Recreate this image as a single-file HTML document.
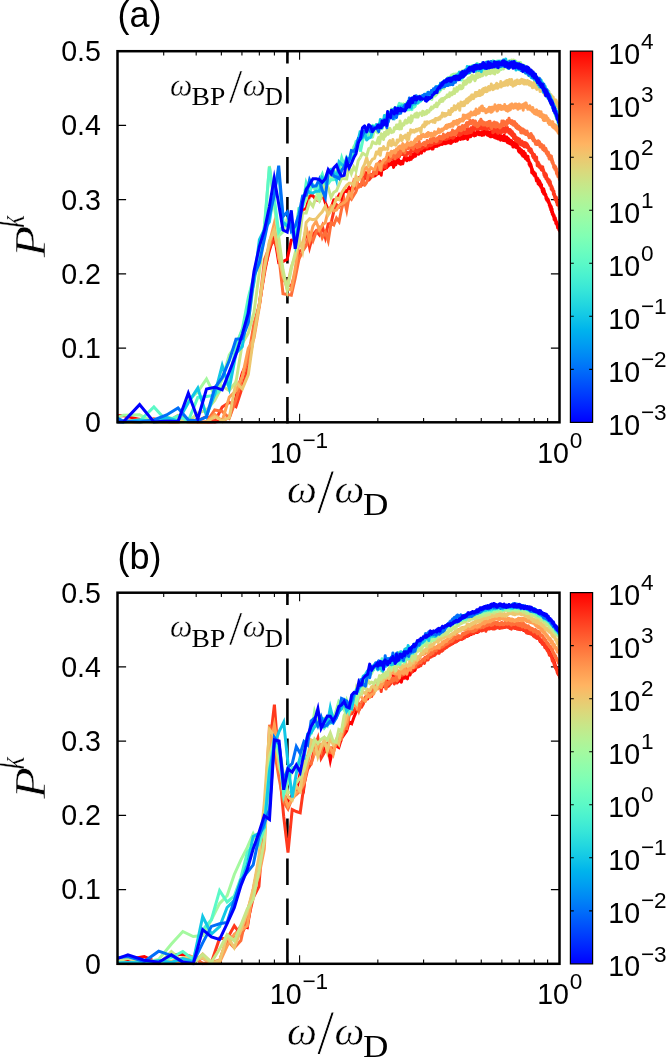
<!DOCTYPE html>
<html lang="en">
<head>
<meta charset="utf-8">
<title>Participation ratio</title>
<style>
html,body{margin:0;padding:0;background:#fff;}
body{width:666px;height:1058px;overflow:hidden;}
svg{display:block;}
.lbl{filter:grayscale(1);}
svg text{font-family:'Liberation Sans', Arial, Helvetica, sans-serif;fill:#000;}
svg .ser text{font-family:'Liberation Serif', 'Times New Roman', serif;}
.crv polyline{fill:none;stroke-width:3;stroke-linejoin:miter;stroke-miterlimit:6;stroke-linecap:butt;}
.crv polyline.r{stroke-linejoin:round;}
.crv polyline.r2{stroke-linejoin:round;stroke-width:3;}
.crv polyline.r3{stroke-linejoin:round;stroke-width:3;}
</style>
</head>
<body>
<svg width="666" height="1058" viewBox="0 0 666 1058">
<defs>
<linearGradient id="cb" x1="0" y1="0" x2="0" y2="1">
<stop offset="0.0000" stop-color="#ff0000"/><stop offset="0.0357" stop-color="#ff1d0e"/><stop offset="0.0714" stop-color="#ff391d"/><stop offset="0.1071" stop-color="#ff542b"/><stop offset="0.1429" stop-color="#ff6f39"/><stop offset="0.1786" stop-color="#ff8847"/><stop offset="0.2143" stop-color="#ff9f54"/><stop offset="0.2500" stop-color="#ffb462"/><stop offset="0.2857" stop-color="#edc76f"/><stop offset="0.3214" stop-color="#dbd87b"/><stop offset="0.3571" stop-color="#c8e688"/><stop offset="0.3929" stop-color="#b6f194"/><stop offset="0.4286" stop-color="#a4f99f"/><stop offset="0.4643" stop-color="#92fdaa"/><stop offset="0.5000" stop-color="#80ffb4"/><stop offset="0.5357" stop-color="#6dfdbe"/><stop offset="0.5714" stop-color="#5bf9c7"/><stop offset="0.6071" stop-color="#49f1d0"/><stop offset="0.6429" stop-color="#37e6d8"/><stop offset="0.6786" stop-color="#24d8df"/><stop offset="0.7143" stop-color="#12c7e6"/><stop offset="0.7500" stop-color="#00b4ec"/><stop offset="0.7857" stop-color="#009ff1"/><stop offset="0.8214" stop-color="#0088f5"/><stop offset="0.8571" stop-color="#006ff9"/><stop offset="0.8929" stop-color="#0054fb"/><stop offset="0.9286" stop-color="#0039fd"/><stop offset="0.9643" stop-color="#001dff"/><stop offset="1.0000" stop-color="#0000ff"/>
</linearGradient>
<clipPath id="clip"><rect x="117.50" y="51.20" width="442.00" height="372.60"/></clipPath>
</defs>
<rect x="0" y="0" width="666" height="1058" fill="#fff"/>
<g transform="translate(0 0)">
<path d="M117.50 348.08h8.6M559.50 348.08h-8.6M117.50 273.86h8.6M559.50 273.86h-8.6M117.50 199.64h8.6M559.50 199.64h-8.6M117.50 125.42h8.6M559.50 125.42h-8.6M163.70 422.30v-4.4M163.70 51.20v4.4M196.18 422.30v-4.4M196.18 51.20v4.4M221.36 422.30v-4.4M221.36 51.20v4.4M241.94 422.30v-4.4M241.94 51.20v4.4M259.34 422.30v-4.4M259.34 51.20v4.4M274.41 422.30v-4.4M274.41 51.20v4.4M287.71 422.30v-4.4M287.71 51.20v4.4M299.60 422.30v-8.6M299.60 51.20v8.6M377.84 422.30v-4.4M377.84 51.20v4.4M423.60 422.30v-4.4M423.60 51.20v4.4M456.08 422.30v-4.4M456.08 51.20v4.4M481.26 422.30v-4.4M481.26 51.20v4.4M501.84 422.30v-4.4M501.84 51.20v4.4M519.24 422.30v-4.4M519.24 51.20v4.4M534.31 422.30v-4.4M534.31 51.20v4.4M547.61 422.30v-4.4M547.61 51.20v4.4" fill="none" stroke="#000" stroke-width="1.1"/>
<path d="M287.41 423.50V51.20" fill="none" stroke="#000" stroke-width="2.6" stroke-dasharray="26.6 13.4"/>
<g clip-path="url(#clip)">
<g class="crv pa">
<polyline stroke="#ff0000" points="104.1,416.0 123.2,415.5 139.6,419.5 153.9,422.0 166.6,422.3 178.0,422.3 188.3,418.5 197.8,422.2 206.5,422.2 214.7,422.0 222.2,420.9 229.3,417.5 236.0,396.6 242.3,373.0 248.3,359.6 254.0,327.9 259.4,305.2 264.5,269.8 269.4,250.5 274.2,234.2 278.7,262.5 283.0,261.6 287.2,259.2 291.3,240.3 295.2,239.1 299.0,218.6 302.6,209.5 306.2,208.7 309.6,195.5 312.9,195.7 316.1,199.6 319.3,200.6 322.3,193.3 325.3,202.7 328.2,209.9 331.1,208.0 333.8,199.8 336.5,199.6 339.1,195.1 341.7,199.9 344.2,189.9 346.7,191.4 349.1,187.4 351.4,190.5 353.8,182.2 356.0,187.1 358.2,178.5 360.4,176.6"/>
<polyline class="r" stroke="#ff0000" points="360.4,176.6 362.5,178.0 364.6,178.8 366.7,172.8 368.7,174.9 370.7,175.5 372.6,174.4 374.6,176.0 376.4,174.7 377.8,172.6 378.7,173.6 379.5,173.1 380.3,167.2 381.2,175.2 382.0,168.9 382.8,167.0 383.6,169.5 384.4,166.3 385.2,168.5 386.0,163.6 386.8,167.8 387.6,162.6 388.3,166.2 389.1,164.4 389.9,163.4 390.6,164.6 391.4,162.6 392.1,161.9 392.9,164.2 393.6,167.4 394.3,160.6 395.1,165.1 395.8,164.7 396.5,159.7 397.2,162.3 397.9,162.8 398.7,159.5 399.4,163.5 400.1,162.9 400.7,164.3 401.4,161.4 402.1,162.3 402.8,163.8 403.5,160.4 404.1,158.7 404.8,156.6 405.5,159.8 406.1,156.5 406.8,160.8 407.5,158.7 408.1,159.7 408.7,158.2 409.4,159.9 410.0,156.5 410.7,157.1 411.3,159.2 411.9,154.1 412.5,156.4 413.2,157.3 413.8,153.7 414.4,153.8 415.0,152.8 415.6,156.2 416.2,153.9 416.8,153.1 417.4,151.4 418.0,151.3 418.6,154.3 419.2,152.2 419.8,151.9 420.4,153.0 420.9,150.7 421.5,153.1 422.1,150.6 422.7,149.6 423.2,150.2 423.8,150.1"/>
<polyline class="r2" stroke="#ff0000" points="423.8,150.1 424.4,151.0 424.9,148.5 425.5,148.7 426.0,148.8 426.6,149.2 427.1,148.9 427.7,148.2 428.2,148.8 428.8,147.4 429.3,148.6 429.8,147.0 430.4,147.1 430.9,147.7 431.4,147.5 431.9,148.9 432.5,146.5 433.0,149.0 433.5,145.0 434.0,146.5 434.5,145.1 435.0,146.6 435.6,143.9 436.1,145.1 436.6,144.8 437.1,146.4 437.6,144.2 438.1,144.6 438.6,144.2 439.1,145.3 439.5,143.7 440.0,144.6 440.5,141.7 441.0,144.0 441.5,142.8 442.0,144.5 442.4,142.7 442.9,143.6 443.4,142.0 443.9,143.7 444.3,141.2 444.8,143.3 445.3,142.1 445.7,143.7 446.2,141.6 446.7,142.2 447.1,140.9 447.6,143.1 448.0,140.9 448.5,142.2 448.9,140.3 449.4,142.7 449.8,139.9 450.3,143.3 450.7,140.8 451.2,143.4 451.6,140.7 452.1,142.2 452.5,139.7 452.9,141.7 453.4,139.2 453.8,140.7 454.2,138.8 454.7,141.0 455.1,138.6 455.5,141.4 455.9,139.1 456.4,140.9 456.8,137.9 457.2,141.1 457.6,138.6 458.0,139.9 458.4,136.5 458.9,138.9 459.3,135.8 459.7,137.9 460.1,136.3 460.5,139.4 460.9,135.6 461.3,138.9 461.7,135.4"/>
<polyline class="r3" stroke="#ff0000" points="461.7,135.4 462.1,138.5 462.5,134.2 462.9,139.1 463.3,135.9 463.7,138.8 464.1,135.6 464.5,138.5 464.9,136.8 465.3,138.3 465.7,135.8 466.1,137.3 466.4,135.3 466.8,137.6 467.2,135.7 467.6,139.4 468.0,135.6 468.4,137.5 468.7,135.4 469.1,136.9 469.5,133.8 469.9,135.3 470.2,134.0 470.6,136.8 471.0,133.4 471.4,135.6 471.7,132.5 472.1,134.7 472.5,132.9 472.8,135.3 473.2,131.8 473.6,133.9 473.9,132.2 474.3,135.9 474.6,133.2 475.0,135.2 475.4,134.0 475.7,135.5 476.1,133.2 476.4,134.2 476.8,132.1 477.1,132.9 477.5,130.9 477.8,133.8 478.2,131.2 478.5,134.5 478.9,133.0 479.2,134.7 479.6,132.6 479.9,133.5 480.2,132.4 480.6,134.7 480.9,132.8 481.3,133.7 481.6,132.8 481.9,135.4 482.3,131.9 482.6,133.7 482.9,132.3 483.3,133.7 483.6,131.0 483.9,135.1 484.3,132.5 484.6,133.9 484.9,131.8 485.3,133.9 485.6,131.2 485.9,133.5 486.2,129.7 486.6,133.6 486.9,131.8 487.2,135.0 487.5,131.0 487.8,134.7 488.2,132.0 488.5,135.7 488.8,133.3 489.1,134.2 489.4,133.1 489.7,135.7 490.1,132.1 490.4,136.8 490.7,134.6 491.0,136.8 491.3,132.4 491.6,135.1 491.9,132.3 492.2,136.0 492.5,133.3 492.8,136.5 493.1,133.9 493.4,136.4 493.8,134.7 494.1,137.3 494.4,134.0 494.7,137.2 495.0,135.9 495.3,137.9 495.6,133.3 495.9,137.3 496.2,135.6 496.4,136.6 496.7,134.3 497.0,138.4 497.3,135.9 497.6,137.5 497.9,136.5 498.2,139.0 498.5,136.0 498.8,137.9 499.1,135.7 499.4,137.8 499.7,135.1 499.9,138.4 500.2,134.5 500.5,140.2 500.8,136.9 501.1,139.9 501.4,137.6 501.7,138.4 501.9,136.5 502.2,138.7 502.5,136.6 502.8,139.7 503.1,138.7 503.3,140.5 503.6,138.1 503.9,139.3 504.2,135.1 504.4,139.6 504.7,138.0 505.0,140.8 505.3,136.8 505.5,140.5 505.8,137.4 506.1,139.9 506.4,138.0 506.6,139.2 506.9,137.1 507.2,142.5 507.4,138.9 507.7,140.4 508.0,139.2 508.2,142.9 508.5,138.4 508.8,142.6 509.0,139.4 509.3,143.4 509.6,140.7 509.8,143.7 510.1,140.0 510.4,142.7 510.6,141.2 510.9,142.6 511.1,141.0 511.4,143.3 511.7,140.7 511.9,145.1 512.2,142.9 512.4,145.6 512.7,143.8 512.9,146.9 513.2,143.3 513.5,147.0 513.7,142.5 514.0,145.7 514.2,143.1 514.5,145.5 514.7,143.1 515.0,146.5 515.2,142.2 515.5,147.2 515.7,145.6 516.0,146.2 516.2,144.7 516.5,147.8 516.7,144.1 517.0,146.6 517.2,146.1 517.5,147.8 517.7,143.7 517.9,148.7 518.2,147.5 518.4,150.8 518.7,149.1 518.9,152.0 519.2,148.6 519.4,151.1 519.6,148.2 519.9,151.9 520.1,148.9 520.4,152.8 520.6,151.0 520.8,153.4 521.1,151.0 521.3,153.7 521.6,150.1 521.8,154.7 522.0,150.8 522.3,153.6 522.5,152.3 522.7,156.1 523.0,152.2 523.2,155.7 523.4,152.5 523.7,154.3 523.9,151.6 524.1,156.9 524.4,153.7 524.6,157.0 524.8,154.2 525.1,156.4 525.3,153.2 525.5,158.8 525.7,155.3 526.0,157.8 526.2,155.5 526.4,158.0 526.7,157.0 526.9,160.0 527.1,158.1 527.3,160.5 527.6,158.9 527.8,160.4 528.0,156.3 528.2,160.2 528.4,158.8 528.7,161.6 528.9,160.0 529.1,164.5 529.3,162.3 529.6,165.0 529.8,162.3 530.0,166.2 530.2,163.1 530.4,165.4 530.7,164.0 530.9,166.5 531.1,165.0 531.3,168.5 531.5,166.5 531.7,172.8 532.0,168.3 532.2,171.0 532.4,169.2 532.6,172.1 532.8,170.8 533.0,173.8 533.2,171.8 533.5,173.7 533.7,173.0 533.9,175.1 534.1,172.0 534.3,175.7 534.5,174.3 534.7,176.0 534.9,173.7 535.2,175.8 535.4,173.5 535.6,176.8 535.8,175.5 536.0,178.9 536.2,177.5 536.4,181.0 536.6,177.7 536.8,180.3 537.0,177.7 537.2,180.4 537.4,178.8 537.6,180.8 537.9,178.6 538.1,184.0 538.3,181.8 538.5,183.4 538.7,181.7 538.9,183.7 539.1,181.5 539.3,185.0 539.5,180.8 539.7,184.5 539.9,181.9 540.1,185.9 540.3,182.4 540.5,186.2 540.7,184.1 540.9,187.4 541.1,184.2 541.3,187.2 541.5,184.4 541.7,188.3 541.9,187.8 542.1,190.5 542.3,188.0 542.5,191.8 542.7,189.6 542.9,192.4 543.1,190.2 543.3,192.2 543.5,189.8 543.7,193.9 543.8,189.0 544.0,192.5 544.2,190.5 544.4,192.8 544.6,192.2 544.8,195.0 545.0,193.6 545.2,195.6 545.4,193.8 545.6,196.4 545.8,194.4 546.0,198.8 546.2,196.6 546.3,198.7 546.5,196.8 546.7,200.2 546.9,197.6 547.1,200.3 547.3,198.8 547.5,201.0 547.7,198.9 547.9,200.8 548.0,199.0 548.2,202.5 548.4,199.8 548.6,202.2 548.8,201.2 549.0,203.3 549.2,202.3 549.3,205.5 549.5,203.2 549.7,205.7 549.9,204.0 550.1,207.6 550.3,204.9 550.5,208.7 550.6,206.8 550.8,209.9 551.0,206.1 551.2,210.3 551.4,206.9 551.6,212.1 551.7,209.3 551.9,211.6 552.1,208.9 552.3,214.4 552.5,211.4 552.6,214.2 552.8,212.8 553.0,215.2 553.2,213.4 553.4,216.6 553.5,215.0 553.7,217.0 553.9,215.5 554.1,219.6 554.2,215.5 554.4,219.2 554.6,217.3 554.8,220.5 555.0,218.1 555.1,220.7 555.3,217.8 555.5,221.2 555.7,219.4 555.8,223.5 556.0,221.1 556.2,223.3 556.4,221.3 556.5,224.2 556.7,222.0 556.9,224.8 557.0,222.5 557.2,225.9 557.4,224.7 557.6,228.0 557.7,224.4 557.9,227.9 558.1,226.1 558.3,227.9 558.4,226.8 558.6,228.6 558.8,226.9 558.9,230.0 559.1,226.6 559.3,229.8 559.4,228.5 559.6,231.2 559.8,229.5"/>
<polyline stroke="#ff391d" points="104.1,417.6 123.2,422.2 139.6,422.3 153.9,418.7 166.6,422.2 178.0,422.2 188.3,419.3 197.8,420.8 206.5,416.4 214.7,421.7 222.2,407.1 229.3,402.2 236.0,406.7 242.3,387.4 248.3,366.1 254.0,335.0 259.4,303.4 264.5,273.2 269.4,246.7 274.2,240.8 278.7,250.9 283.0,279.1 287.2,284.1 291.3,286.4 295.2,273.2 299.0,251.5 302.6,249.7 306.2,229.5 309.6,247.2 312.9,234.8 316.1,230.8 319.3,234.8 322.3,226.3 325.3,237.4 328.2,223.9 331.1,223.1 333.8,211.3 336.5,204.6 339.1,206.7 341.7,202.6 344.2,203.3 346.7,203.0 349.1,192.4 351.4,193.5 353.8,184.9 356.0,190.1 358.2,185.1 360.4,184.3"/>
<polyline class="r" stroke="#ff391d" points="360.4,184.3 362.5,184.9 364.6,172.1 366.7,177.8 368.7,180.2 370.7,177.7 372.6,175.3 374.6,169.5 376.4,170.6 377.8,166.8 378.7,167.6 379.5,163.5 380.3,161.2 381.2,165.5 382.0,165.9 382.8,163.2 383.6,161.5 384.4,167.4 385.2,161.8 386.0,167.6 386.8,161.4 387.6,159.0 388.3,156.5 389.1,157.3 389.9,158.5 390.6,155.3 391.4,154.9 392.1,159.2 392.9,158.7 393.6,157.6 394.3,154.5 395.1,158.7 395.8,154.8 396.5,157.4 397.2,154.6 397.9,156.9 398.7,154.3 399.4,156.9 400.1,154.7 400.7,152.0 401.4,154.5 402.1,152.1 402.8,154.4 403.5,152.0 404.1,155.0 404.8,152.6 405.5,151.0 406.1,156.0 406.8,152.2 407.5,154.2 408.1,153.1 408.7,153.0 409.4,152.1 410.0,151.6 410.7,154.5 411.3,146.0 411.9,151.2 412.5,149.1 413.2,148.5 413.8,151.1 414.4,147.7 415.0,150.2 415.6,151.1 416.2,151.5 416.8,150.1 417.4,152.4 418.0,148.5 418.6,151.1 419.2,149.7 419.8,149.0 420.4,145.6 420.9,147.9 421.5,149.1 422.1,146.6 422.7,147.9 423.2,146.8 423.8,148.1"/>
<polyline class="r2" stroke="#ff391d" points="423.8,148.1 424.4,147.0 424.9,147.2 425.5,147.0 426.0,144.6 426.6,147.1 427.1,147.3 427.7,145.0 428.2,145.5 428.8,145.0 429.3,144.8 429.8,144.4 430.4,145.8 430.9,145.1 431.4,145.2 431.9,145.0 432.5,143.8 433.0,143.5 433.5,142.7 434.0,143.6 434.5,143.0 435.0,143.3 435.6,141.1 436.1,143.5 436.6,142.6 437.1,143.0 437.6,140.7 438.1,143.0 438.6,142.0 439.1,142.3 439.5,140.7 440.0,142.3 440.5,140.0 441.0,141.7 441.5,138.4 442.0,139.6 442.4,137.4 442.9,139.0 443.4,137.2 443.9,139.3 444.3,138.1 444.8,139.5 445.3,137.5 445.7,138.8 446.2,136.5 446.7,139.2 447.1,136.1 447.6,138.1 448.0,136.3 448.5,138.1 448.9,134.2 449.4,138.3 449.8,136.1 450.3,137.6 450.7,135.1 451.2,137.5 451.6,133.0 452.1,135.5 452.5,134.2 452.9,138.3 453.4,134.1 453.8,137.6 454.2,134.7 454.7,136.4 455.1,133.1 455.5,133.9 455.9,131.2 456.4,134.4 456.8,131.8 457.2,134.6 457.6,132.6 458.0,134.9 458.4,130.9 458.9,133.6 459.3,131.2 459.7,135.4 460.1,131.9 460.5,133.4 460.9,130.2 461.3,134.4 461.7,131.1"/>
<polyline class="r3" stroke="#ff391d" points="461.7,131.1 462.1,133.2 462.5,129.8 462.9,132.7 463.3,130.3 463.7,131.8 464.1,130.7 464.5,133.6 464.9,130.3 465.3,133.0 465.7,129.0 466.1,133.6 466.4,129.4 466.8,133.6 467.2,130.9 467.6,133.3 468.0,129.0 468.4,130.8 468.7,129.1 469.1,132.9 469.5,129.9 469.9,132.5 470.2,131.0 470.6,132.4 471.0,127.8 471.4,132.4 471.7,129.4 472.1,130.9 472.5,128.2 472.8,130.2 473.2,126.4 473.6,129.5 473.9,127.0 474.3,129.9 474.6,127.7 475.0,129.4 475.4,127.2 475.7,128.9 476.1,127.0 476.4,128.4 476.8,126.6 477.1,128.6 477.5,126.6 477.8,129.3 478.2,125.9 478.5,128.3 478.9,124.8 479.2,128.9 479.6,126.9 479.9,129.1 480.2,125.9 480.6,128.6 480.9,126.7 481.3,127.8 481.6,126.7 481.9,129.4 482.3,126.6 482.6,129.0 482.9,125.0 483.3,128.1 483.6,126.3 483.9,128.2 484.3,124.7 484.6,128.6 484.9,123.9 485.3,127.5 485.6,124.5 485.9,129.2 486.2,125.1 486.6,128.8 486.9,126.8 487.2,129.3 487.5,126.3 487.8,128.0 488.2,124.4 488.5,127.9 488.8,124.7 489.1,127.2 489.4,125.8 489.7,128.2 490.1,126.6 490.4,129.3 490.7,126.7 491.0,129.0 491.3,128.0 491.6,129.8 491.9,128.0 492.2,130.2 492.5,129.0 492.8,132.8 493.1,128.6 493.4,131.5 493.8,129.1 494.1,131.9 494.4,128.3 494.7,130.0 495.0,127.1 495.3,130.4 495.6,127.9 495.9,131.0 496.2,128.2 496.4,130.7 496.7,129.0 497.0,132.0 497.3,129.3 497.6,133.2 497.9,130.8 498.2,132.8 498.5,130.1 498.8,132.1 499.1,128.2 499.4,132.5 499.7,129.1 499.9,131.9 500.2,130.1 500.5,132.0 500.8,129.3 501.1,133.3 501.4,128.8 501.7,131.7 501.9,129.7 502.2,131.2 502.5,128.8 502.8,131.9 503.1,128.4 503.3,131.1 503.6,128.0 503.9,130.3 504.2,127.7 504.4,131.0 504.7,128.3 505.0,132.5 505.3,129.4 505.5,132.2 505.8,129.0 506.1,131.4 506.4,126.9 506.6,130.6 506.9,127.3 507.2,130.7 507.4,127.2 507.7,131.2 508.0,128.9 508.2,130.6 508.5,129.1 508.8,133.0 509.0,129.9 509.3,132.7 509.6,130.7 509.8,133.6 510.1,129.4 510.4,133.5 510.6,131.4 510.9,134.5 511.1,130.6 511.4,134.6 511.7,133.3 511.9,135.7 512.2,131.4 512.4,134.5 512.7,132.4 512.9,136.2 513.2,133.0 513.5,138.4 513.7,136.5 514.0,138.8 514.2,135.8 514.5,138.8 514.7,134.4 515.0,138.8 515.2,137.8 515.5,140.8 515.7,136.7 516.0,139.9 516.2,137.3 516.5,141.2 516.7,138.6 517.0,140.6 517.2,138.2 517.5,140.4 517.7,137.9 517.9,140.4 518.2,138.4 518.4,142.4 518.7,140.7 518.9,142.9 519.2,142.0 519.4,144.0 519.6,138.9 519.9,143.7 520.1,141.9 520.4,143.2 520.6,141.7 520.8,144.9 521.1,142.2 521.3,144.1 521.6,142.4 521.8,145.2 522.0,140.9 522.3,144.5 522.5,142.4 522.7,145.3 523.0,142.5 523.2,145.8 523.4,144.2 523.7,146.2 523.9,144.2 524.1,146.8 524.4,143.6 524.6,145.6 524.8,142.5 525.1,146.9 525.3,143.9 525.5,146.7 525.7,143.9 526.0,146.3 526.2,143.0 526.4,146.4 526.7,144.6 526.9,146.7 527.1,143.8 527.3,147.8 527.6,144.7 527.8,147.1 528.0,145.6 528.2,148.1 528.4,146.0 528.7,150.6 528.9,147.2 529.1,150.7 529.3,148.9 529.6,151.0 529.8,149.6 530.0,151.7 530.2,150.7 530.4,151.7 530.7,149.1 530.9,152.8 531.1,148.9 531.3,151.4 531.5,150.2 531.7,152.9 532.0,151.5 532.2,153.9 532.4,152.6 532.6,156.3 532.8,153.0 533.0,156.0 533.2,153.9 533.5,157.8 533.7,155.7 533.9,157.8 534.1,154.4 534.3,158.7 534.5,154.6 534.7,159.7 534.9,157.8 535.2,160.4 535.4,159.4 535.6,160.8 535.8,158.3 536.0,160.8 536.2,158.2 536.4,160.5 536.6,157.1 536.8,162.4 537.0,160.6 537.2,165.7 537.4,161.9 537.6,164.8 537.9,163.4 538.1,165.2 538.3,162.2 538.5,164.9 538.7,163.7 538.9,166.9 539.1,163.8 539.3,167.3 539.5,166.1 539.7,167.1 539.9,165.5 540.1,167.9 540.3,165.6 540.5,168.4 540.7,166.5 540.9,168.3 541.1,167.2 541.3,169.9 541.5,166.8 541.7,169.9 541.9,167.6 542.1,170.4 542.3,166.9 542.5,169.4 542.7,166.7 542.9,169.7 543.1,168.7 543.3,171.2 543.5,169.7 543.7,173.7 543.8,170.7 544.0,175.3 544.2,173.2 544.4,175.4 544.6,172.5 544.8,177.0 545.0,172.9 545.2,175.2 545.4,173.2 545.6,175.8 545.8,174.9 546.0,178.9 546.2,174.2 546.3,177.2 546.5,175.0 546.7,179.5 546.9,177.3 547.1,180.3 547.3,178.3 547.5,181.5 547.7,178.5 547.9,181.2 548.0,179.2 548.2,182.3 548.4,181.3 548.6,183.2 548.8,181.0 549.0,183.3 549.2,179.8 549.3,184.2 549.5,182.1 549.7,185.5 549.9,183.0 550.1,185.6 550.3,181.5 550.5,184.2 550.6,183.6 550.8,186.7 551.0,185.1 551.2,189.2 551.4,185.4 551.6,187.9 551.7,186.5 551.9,189.8 552.1,186.8 552.3,189.6 552.5,189.2 552.6,190.8 552.8,188.6 553.0,191.7 553.2,191.2 553.4,194.5 553.5,191.3 553.7,193.6 553.9,191.0 554.1,195.2 554.2,193.4 554.4,196.3 554.6,194.1 554.8,198.2 555.0,196.2 555.1,200.0 555.3,196.1 555.5,198.4 555.7,196.9 555.8,199.7 556.0,197.7 556.2,201.0 556.4,197.2 556.5,202.4 556.7,199.4 556.9,203.1 557.0,201.9 557.2,205.0 557.4,202.2 557.6,204.0 557.7,202.1 557.9,203.8 558.1,201.5 558.3,205.2 558.4,202.0 558.6,204.7 558.8,203.0 558.9,206.1 559.1,204.5 559.3,209.4 559.4,206.3 559.6,208.2 559.8,206.8"/>
<polyline stroke="#ff6f39" points="104.1,422.3 123.2,422.3 139.6,419.3 153.9,419.9 166.6,418.7 178.0,418.7 188.3,422.3 197.8,422.3 206.5,422.1 214.7,410.0 222.2,411.4 229.3,418.1 236.0,399.7 242.3,376.8 248.3,357.1 254.0,323.3 259.4,304.5 264.5,259.3 269.4,246.9 274.2,229.0 278.7,254.5 283.0,293.7 287.2,294.4 291.3,295.2 295.2,278.1 299.0,259.0 302.6,251.2 306.2,245.7 309.6,234.2 312.9,240.9 316.1,232.2 319.3,228.1 322.3,237.8 325.3,232.1 328.2,240.9 331.1,222.7 333.8,224.8 336.5,218.1 339.1,221.6 341.7,208.5 344.2,199.5 346.7,210.2 349.1,196.7 351.4,199.2 353.8,195.2 356.0,191.7 358.2,185.0 360.4,187.7"/>
<polyline class="r" stroke="#ff6f39" points="360.4,187.7 362.5,178.4 364.6,185.4 366.7,182.3 368.7,172.8 370.7,175.0 372.6,176.7 374.6,170.4 376.4,173.8 377.8,165.8 378.7,163.7 379.5,162.0 380.3,168.4 381.2,170.6 382.0,165.0 382.8,163.1 383.6,160.3 384.4,159.7 385.2,163.2 386.0,160.0 386.8,161.0 387.6,159.9 388.3,160.8 389.1,161.2 389.9,159.9 390.6,158.8 391.4,158.0 392.1,154.3 392.9,156.6 393.6,153.3 394.3,156.5 395.1,158.8 395.8,152.0 396.5,152.0 397.2,156.2 397.9,151.4 398.7,156.5 399.4,153.4 400.1,149.5 400.7,154.2 401.4,150.5 402.1,148.3 402.8,149.1 403.5,151.2 404.1,147.3 404.8,152.9 405.5,148.8 406.1,147.5 406.8,146.4 407.5,148.5 408.1,148.8 408.7,146.6 409.4,148.0 410.0,146.2 410.7,143.5 411.3,146.3 411.9,147.5 412.5,144.3 413.2,149.3 413.8,146.4 414.4,145.6 415.0,146.2 415.6,144.6 416.2,144.0 416.8,144.4 417.4,147.5 418.0,145.5 418.6,144.5 419.2,141.3 419.8,146.7 420.4,145.0 420.9,144.0 421.5,145.0 422.1,144.5 422.7,144.1 423.2,143.1 423.8,142.9"/>
<polyline class="r2" stroke="#ff6f39" points="423.8,142.9 424.4,142.3 424.9,144.2 425.5,145.5 426.0,142.6 426.6,142.1 427.1,140.5 427.7,142.6 428.2,141.3 428.8,141.9 429.3,141.9 429.8,141.2 430.4,139.0 430.9,142.1 431.4,137.8 431.9,142.4 432.5,138.7 433.0,140.1 433.5,137.6 434.0,140.1 434.5,139.2 435.0,140.8 435.6,138.9 436.1,141.7 436.6,139.1 437.1,141.2 437.6,137.8 438.1,138.9 438.6,137.4 439.1,137.4 439.5,136.2 440.0,137.3 440.5,136.5 441.0,138.8 441.5,136.6 442.0,136.7 442.4,136.5 442.9,138.9 443.4,134.1 443.9,138.4 444.3,137.1 444.8,137.7 445.3,135.6 445.7,136.2 446.2,134.9 446.7,136.4 447.1,134.3 447.6,136.9 448.0,133.3 448.5,135.2 448.9,133.4 449.4,134.6 449.8,133.5 450.3,135.2 450.7,132.7 451.2,135.3 451.6,133.6 452.1,134.9 452.5,130.0 452.9,134.6 453.4,130.7 453.8,134.0 454.2,132.7 454.7,134.7 455.1,131.9 455.5,134.6 455.9,131.1 456.4,133.3 456.8,130.9 457.2,131.5 457.6,129.2 458.0,130.4 458.4,127.5 458.9,130.0 459.3,127.0 459.7,129.9 460.1,128.3 460.5,130.8 460.9,127.0 461.3,130.7 461.7,127.9"/>
<polyline class="r3" stroke="#ff6f39" points="461.7,127.9 462.1,129.5 462.5,125.4 462.9,128.5 463.3,126.1 463.7,127.6 464.1,126.1 464.5,129.5 464.9,125.2 465.3,126.9 465.7,125.6 466.1,126.3 466.4,123.0 466.8,125.8 467.2,122.5 467.6,126.7 468.0,123.0 468.4,124.7 468.7,122.9 469.1,124.2 469.5,121.6 469.9,122.7 470.2,120.0 470.6,123.2 471.0,120.9 471.4,123.7 471.7,121.3 472.1,122.9 472.5,120.9 472.8,122.1 473.2,120.4 473.6,122.7 473.9,121.4 474.3,124.9 474.6,121.5 475.0,125.2 475.4,120.9 475.7,124.5 476.1,122.7 476.4,124.8 476.8,124.1 477.1,126.8 477.5,123.9 477.8,126.6 478.2,123.2 478.5,125.1 478.9,122.6 479.2,125.4 479.6,121.3 479.9,124.1 480.2,120.8 480.6,123.3 480.9,119.2 481.3,122.5 481.6,120.5 481.9,123.6 482.3,121.4 482.6,125.0 482.9,122.4 483.3,124.9 483.6,121.9 483.9,124.6 484.3,122.5 484.6,125.1 484.9,122.7 485.3,124.6 485.6,122.9 485.9,124.7 486.2,122.7 486.6,124.6 486.9,122.7 487.2,126.1 487.5,123.1 487.8,124.9 488.2,122.2 488.5,125.4 488.8,121.6 489.1,124.5 489.4,122.1 489.7,124.9 490.1,121.3 490.4,124.2 490.7,123.3 491.0,127.6 491.3,124.7 491.6,128.6 491.9,124.4 492.2,125.9 492.5,123.4 492.8,125.4 493.1,123.0 493.4,126.4 493.8,123.1 494.1,125.3 494.4,122.0 494.7,126.0 495.0,124.2 495.3,127.0 495.6,123.6 495.9,127.2 496.2,122.8 496.4,126.2 496.7,123.2 497.0,125.3 497.3,123.0 497.6,126.2 497.9,124.2 498.2,126.3 498.5,124.8 498.8,127.1 499.1,125.4 499.4,127.2 499.7,125.1 499.9,127.9 500.2,125.4 500.5,127.4 500.8,124.0 501.1,125.7 501.4,123.4 501.7,124.7 501.9,120.9 502.2,124.9 502.5,122.6 502.8,125.6 503.1,122.4 503.3,124.3 503.6,121.0 503.9,125.1 504.2,122.1 504.4,124.3 504.7,122.0 505.0,124.0 505.3,122.1 505.5,123.2 505.8,121.7 506.1,124.3 506.4,122.1 506.6,125.4 506.9,122.3 507.2,124.1 507.4,120.2 507.7,122.7 508.0,121.1 508.2,122.9 508.5,120.8 508.8,122.4 509.0,118.3 509.3,120.5 509.6,119.6 509.8,121.5 510.1,120.4 510.4,122.8 510.6,120.9 510.9,123.6 511.1,121.0 511.4,122.4 511.7,120.7 511.9,122.5 512.2,120.7 512.4,124.3 512.7,122.4 512.9,125.0 513.2,122.5 513.5,124.7 513.7,123.2 514.0,123.6 514.2,121.7 514.5,125.7 514.7,121.8 515.0,124.4 515.2,124.4 515.5,126.7 515.7,123.2 516.0,127.7 516.2,125.9 516.5,127.8 516.7,124.0 517.0,127.5 517.2,126.5 517.5,128.8 517.7,125.7 517.9,129.0 518.2,126.7 518.4,128.1 518.7,126.1 518.9,129.0 519.2,127.0 519.4,129.7 519.6,127.4 519.9,129.1 520.1,127.2 520.4,131.0 520.6,128.8 520.8,132.8 521.1,130.2 521.3,132.9 521.6,130.5 521.8,132.7 522.0,128.8 522.3,131.2 522.5,129.2 522.7,131.1 523.0,128.9 523.2,132.7 523.4,130.2 523.7,133.3 523.9,130.2 524.1,132.5 524.4,130.0 524.6,132.2 524.8,130.9 525.1,133.0 525.3,131.9 525.5,134.5 525.7,132.1 526.0,134.6 526.2,131.4 526.4,133.6 526.7,131.3 526.9,133.6 527.1,131.0 527.3,134.8 527.6,132.7 527.8,135.1 528.0,133.3 528.2,135.8 528.4,133.9 528.7,136.6 528.9,134.4 529.1,137.8 529.3,134.9 529.6,136.9 529.8,134.3 530.0,137.1 530.2,133.9 530.4,136.6 530.7,134.5 530.9,136.9 531.1,133.4 531.3,137.7 531.5,136.2 531.7,137.4 532.0,135.2 532.2,138.8 532.4,137.1 532.6,138.9 532.8,138.1 533.0,140.4 533.2,136.6 533.5,140.8 533.7,138.0 533.9,140.3 534.1,138.9 534.3,141.2 534.5,140.0 534.7,141.9 534.9,140.1 535.2,143.0 535.4,140.7 535.6,144.3 535.8,142.2 536.0,143.9 536.2,142.0 536.4,144.4 536.6,141.5 536.8,144.3 537.0,142.7 537.2,144.6 537.4,141.4 537.6,144.6 537.9,141.3 538.1,142.6 538.3,140.8 538.5,143.3 538.7,141.0 538.9,144.9 539.1,141.6 539.3,143.9 539.5,141.7 539.7,145.7 539.9,143.9 540.1,147.0 540.3,143.6 540.5,145.8 540.7,144.3 540.9,146.9 541.1,145.3 541.3,146.9 541.5,144.3 541.7,147.3 541.9,144.8 542.1,148.3 542.3,146.6 542.5,149.1 542.7,147.3 542.9,149.7 543.1,146.6 543.3,149.8 543.5,147.1 543.7,148.8 543.8,145.8 544.0,149.2 544.2,148.2 544.4,151.0 544.6,148.9 544.8,150.4 545.0,148.2 545.2,150.8 545.4,148.7 545.6,150.9 545.8,148.2 546.0,151.7 546.2,149.2 546.3,153.4 546.5,150.4 546.7,153.7 546.9,150.9 547.1,154.1 547.3,152.6 547.5,155.2 547.7,153.0 547.9,155.9 548.0,152.8 548.2,155.3 548.4,152.2 548.6,155.8 548.8,153.7 549.0,158.4 549.2,156.3 549.3,159.1 549.5,155.0 549.7,157.8 549.9,155.5 550.1,157.5 550.3,155.5 550.5,158.9 550.6,157.0 550.8,159.2 551.0,157.1 551.2,160.2 551.4,155.9 551.6,158.4 551.7,157.8 551.9,162.2 552.1,158.8 552.3,162.7 552.5,160.4 552.6,163.8 552.8,161.6 553.0,164.3 553.2,162.6 553.4,165.1 553.5,164.1 553.7,167.3 553.9,165.0 554.1,167.8 554.2,165.5 554.4,167.8 554.6,166.0 554.8,169.3 555.0,165.8 555.1,169.6 555.3,166.7 555.5,169.3 555.7,166.7 555.8,170.1 556.0,168.3 556.2,171.9 556.4,168.6 556.5,173.6 556.7,172.1 556.9,174.4 557.0,172.1 557.2,174.6 557.4,172.9 557.6,175.5 557.7,173.6 557.9,176.6 558.1,173.1 558.3,175.7 558.4,173.6 558.6,176.6 558.8,175.7 558.9,177.8 559.1,175.1 559.3,179.5 559.4,176.2 559.6,179.4 559.8,175.6"/>
<polyline stroke="#ff9f54" points="104.1,422.3 123.2,422.1 139.6,422.3 153.9,419.6 166.6,422.3 178.0,415.5 188.3,419.2 197.8,422.0 206.5,422.2 214.7,414.3 222.2,421.0 229.3,397.1 236.0,390.9 242.3,376.6 248.3,348.3 254.0,338.2 259.4,306.4 264.5,268.3 269.4,243.1 274.2,223.7 278.7,258.0 283.0,274.0 287.2,289.0 291.3,289.8 295.2,268.6 299.0,241.9 302.6,244.9 306.2,228.1 309.6,240.3 312.9,226.3 316.1,221.3 319.3,229.9 322.3,225.2 325.3,222.7 328.2,210.5 331.1,206.3 333.8,210.9 336.5,210.1 339.1,205.5 341.7,204.0 344.2,202.6 346.7,200.1 349.1,193.1 351.4,196.5 353.8,181.3 356.0,184.7 358.2,179.4 360.4,177.1"/>
<polyline class="r" stroke="#ff9f54" points="360.4,177.1 362.5,174.9 364.6,169.0 366.7,167.2 368.7,172.7 370.7,167.5 372.6,168.9 374.6,169.7 376.4,164.1 377.8,163.6 378.7,164.5 379.5,165.9 380.3,170.0 381.2,164.5 382.0,163.0 382.8,162.2 383.6,160.1 384.4,160.2 385.2,159.5 386.0,158.1 386.8,155.9 387.6,153.0 388.3,153.7 389.1,154.4 389.9,153.0 390.6,156.4 391.4,151.3 392.1,153.4 392.9,151.8 393.6,152.2 394.3,150.6 395.1,153.0 395.8,151.9 396.5,148.9 397.2,149.8 397.9,149.7 398.7,146.7 399.4,148.0 400.1,146.0 400.7,146.2 401.4,148.7 402.1,147.1 402.8,143.6 403.5,150.8 404.1,145.5 404.8,147.4 405.5,144.7 406.1,147.3 406.8,144.5 407.5,142.4 408.1,145.1 408.7,144.0 409.4,143.0 410.0,145.4 410.7,145.2 411.3,142.1 411.9,143.1 412.5,144.9 413.2,143.9 413.8,143.4 414.4,140.8 415.0,142.4 415.6,139.0 416.2,139.9 416.8,140.6 417.4,138.6 418.0,136.8 418.6,139.3 419.2,136.4 419.8,138.5 420.4,137.2 420.9,138.8 421.5,134.7 422.1,135.3 422.7,134.6 423.2,134.4 423.8,138.0"/>
<polyline class="r2" stroke="#ff9f54" points="423.8,138.0 424.4,136.5 424.9,136.4 425.5,134.9 426.0,136.5 426.6,134.2 427.1,133.3 427.7,136.5 428.2,132.4 428.8,134.9 429.3,133.1 429.8,133.8 430.4,134.2 430.9,136.8 431.4,133.3 431.9,135.5 432.5,134.4 433.0,135.8 433.5,133.4 434.0,134.1 434.5,131.8 435.0,135.3 435.6,133.5 436.1,133.3 436.6,132.0 437.1,133.4 437.6,131.7 438.1,132.5 438.6,129.0 439.1,132.4 439.5,129.9 440.0,132.2 440.5,130.8 441.0,131.5 441.5,129.4 442.0,130.8 442.4,129.1 442.9,130.3 443.4,128.7 443.9,129.2 444.3,127.9 444.8,128.4 445.3,126.6 445.7,128.3 446.2,125.3 446.7,128.4 447.1,124.9 447.6,127.6 448.0,125.6 448.5,127.0 448.9,124.6 449.4,126.7 449.8,124.4 450.3,126.7 450.7,124.0 451.2,125.3 451.6,123.5 452.1,126.1 452.5,122.9 452.9,126.3 453.4,121.6 453.8,124.1 454.2,121.2 454.7,124.2 455.1,121.5 455.5,123.5 455.9,122.1 456.4,123.9 456.8,120.6 457.2,124.4 457.6,120.6 458.0,122.8 458.4,121.2 458.9,123.1 459.3,119.4 459.7,121.7 460.1,119.3 460.5,121.4 460.9,119.5 461.3,120.3 461.7,119.2"/>
<polyline class="r3" stroke="#ff9f54" points="461.7,119.2 462.1,120.8 462.5,118.3 462.9,121.1 463.3,114.9 463.7,120.0 464.1,116.8 464.5,118.7 464.9,115.3 465.3,118.5 465.7,116.6 466.1,118.1 466.4,115.8 466.8,117.8 467.2,114.9 467.6,118.0 468.0,115.3 468.4,118.6 468.7,114.0 469.1,116.0 469.5,114.1 469.9,116.8 470.2,113.6 470.6,115.4 471.0,112.1 471.4,115.1 471.7,113.4 472.1,114.9 472.5,113.8 472.8,114.9 473.2,113.5 473.6,114.6 473.9,112.1 474.3,114.6 474.6,111.5 475.0,113.1 475.4,111.0 475.7,114.9 476.1,109.1 476.4,112.5 476.8,109.8 477.1,113.6 477.5,110.5 477.8,112.7 478.2,111.0 478.5,113.3 478.9,110.1 479.2,113.0 479.6,108.1 479.9,110.2 480.2,108.3 480.6,110.1 480.9,107.4 481.3,110.2 481.6,106.3 481.9,110.3 482.3,106.1 482.6,110.8 482.9,107.7 483.3,110.8 483.6,108.5 483.9,110.6 484.3,108.4 484.6,110.7 484.9,109.7 485.3,111.5 485.6,110.4 485.9,112.7 486.2,110.3 486.6,112.4 486.9,109.9 487.2,112.1 487.5,109.2 487.8,111.4 488.2,108.8 488.5,111.1 488.8,108.9 489.1,111.3 489.4,107.2 489.7,110.3 490.1,107.5 490.4,109.8 490.7,108.4 491.0,112.3 491.3,107.2 491.6,111.7 491.9,110.1 492.2,111.7 492.5,107.3 492.8,109.9 493.1,107.3 493.4,110.2 493.8,107.5 494.1,109.3 494.4,107.0 494.7,108.7 495.0,104.8 495.3,108.8 495.6,106.4 495.9,109.1 496.2,106.3 496.4,109.0 496.7,107.2 497.0,111.1 497.3,107.5 497.6,110.6 497.9,106.0 498.2,108.4 498.5,105.2 498.8,108.8 499.1,105.5 499.4,108.7 499.7,105.8 499.9,108.2 500.2,105.3 500.5,109.2 500.8,106.2 501.1,108.4 501.4,107.1 501.7,109.5 501.9,106.3 502.2,108.3 502.5,107.1 502.8,108.3 503.1,107.6 503.3,109.0 503.6,107.1 503.9,108.0 504.2,106.3 504.4,108.5 504.7,104.6 505.0,109.1 505.3,107.0 505.5,109.7 505.8,107.7 506.1,110.4 506.4,108.0 506.6,109.0 506.9,106.6 507.2,109.7 507.4,106.7 507.7,111.2 508.0,107.1 508.2,110.3 508.5,107.0 508.8,108.9 509.0,105.8 509.3,110.3 509.6,107.3 509.8,109.2 510.1,106.6 510.4,109.6 510.6,104.4 510.9,108.5 511.1,105.5 511.4,107.7 511.7,104.1 511.9,106.4 512.2,104.1 512.4,107.6 512.7,104.9 512.9,107.3 513.2,106.1 513.5,108.2 513.7,105.9 514.0,107.3 514.2,105.3 514.5,107.1 514.7,105.0 515.0,106.9 515.2,104.1 515.5,107.8 515.7,105.4 516.0,107.2 516.2,103.9 516.5,107.0 516.7,104.2 517.0,106.9 517.2,104.4 517.5,107.9 517.7,106.6 517.9,109.3 518.2,105.2 518.4,107.8 518.7,104.9 518.9,106.2 519.2,104.0 519.4,106.9 519.6,104.2 519.9,108.3 520.1,105.6 520.4,106.9 520.6,105.4 520.8,107.0 521.1,105.7 521.3,107.8 521.6,104.9 521.8,107.4 522.0,105.6 522.3,106.9 522.5,104.8 522.7,108.5 523.0,105.7 523.2,110.2 523.4,105.9 523.7,107.5 523.9,104.2 524.1,106.3 524.4,103.7 524.6,106.8 524.8,104.6 525.1,107.3 525.3,103.7 525.5,106.7 525.7,103.0 526.0,106.9 526.2,103.1 526.4,106.1 526.7,105.0 526.9,107.9 527.1,105.7 527.3,108.1 527.6,106.5 527.8,109.3 528.0,107.5 528.2,108.9 528.4,106.4 528.7,108.8 528.9,106.3 529.1,107.9 529.3,106.5 529.6,108.4 529.8,105.7 530.0,109.4 530.2,107.6 530.4,109.7 530.7,107.5 530.9,110.2 531.1,107.6 531.3,109.6 531.5,107.8 531.7,109.8 532.0,108.5 532.2,110.2 532.4,108.5 532.6,112.0 532.8,107.6 533.0,111.1 533.2,109.4 533.5,111.8 533.7,109.8 533.9,112.8 534.1,111.2 534.3,113.6 534.5,110.3 534.7,111.9 534.9,111.5 535.2,112.4 535.4,111.7 535.6,114.2 535.8,111.5 536.0,112.7 536.2,110.4 536.4,112.2 536.6,109.7 536.8,113.5 537.0,112.1 537.2,114.6 537.4,111.9 537.6,114.9 537.9,112.7 538.1,113.8 538.3,112.1 538.5,115.3 538.7,112.8 538.9,115.2 539.1,111.3 539.3,115.0 539.5,112.4 539.7,115.2 539.9,112.5 540.1,116.6 540.3,113.1 540.5,115.2 540.7,113.1 540.9,115.8 541.1,111.8 541.3,116.2 541.5,114.8 541.7,116.7 541.9,113.9 542.1,117.6 542.3,114.2 542.5,117.2 542.7,115.0 542.9,117.4 543.1,115.0 543.3,120.1 543.5,116.8 543.7,119.8 543.8,116.6 544.0,120.6 544.2,115.3 544.4,118.2 544.6,116.2 544.8,119.4 545.0,117.1 545.2,120.4 545.4,118.9 545.6,120.2 545.8,118.4 546.0,119.9 546.2,115.8 546.3,119.0 546.5,116.6 546.7,120.1 546.9,118.2 547.1,120.6 547.3,118.6 547.5,120.8 547.7,118.0 547.9,120.2 548.0,118.2 548.2,123.0 548.4,120.8 548.6,123.0 548.8,120.9 549.0,123.5 549.2,121.2 549.3,124.4 549.5,120.3 549.7,123.7 549.9,121.1 550.1,122.9 550.3,121.4 550.5,124.1 550.6,122.1 550.8,124.2 551.0,122.0 551.2,124.2 551.4,122.6 551.6,125.3 551.7,122.3 551.9,123.5 552.1,121.7 552.3,124.1 552.5,122.3 552.6,126.9 552.8,121.8 553.0,125.6 553.2,123.5 553.4,127.2 553.5,124.7 553.7,127.9 553.9,125.5 554.1,128.0 554.2,124.3 554.4,126.8 554.6,124.5 554.8,126.8 555.0,125.2 555.1,127.9 555.3,126.8 555.5,129.2 555.7,126.8 555.8,129.6 556.0,128.2 556.2,129.9 556.4,127.9 556.5,130.5 556.7,126.2 556.9,129.5 557.0,127.4 557.2,130.0 557.4,128.5 557.6,130.5 557.7,129.6 557.9,132.3 558.1,130.2 558.3,133.1 558.4,130.2 558.6,132.2 558.8,130.2 558.9,133.7 559.1,128.1 559.3,132.6 559.4,129.0 559.6,132.8 559.8,130.7"/>
<polyline stroke="#edc76f" points="104.1,420.9 123.2,420.5 139.6,420.7 153.9,422.3 166.6,422.3 178.0,418.3 188.3,422.3 197.8,422.2 206.5,422.1 214.7,416.7 222.2,420.7 229.3,417.7 236.0,382.0 242.3,388.9 248.3,374.6 254.0,334.6 259.4,303.2 264.5,267.6 269.4,241.2 274.2,230.1 278.7,252.9 283.0,276.0 287.2,287.0 291.3,266.8 295.2,256.5 299.0,237.3 302.6,250.8 306.2,222.4 309.6,218.7 312.9,219.7 316.1,219.0 319.3,215.1 322.3,211.8 325.3,206.3 328.2,214.8 331.1,210.5 333.8,205.4 336.5,197.9 339.1,199.6 341.7,192.8 344.2,188.9 346.7,185.2 349.1,183.2 351.4,183.3 353.8,185.2 356.0,176.4 358.2,179.9 360.4,178.2"/>
<polyline class="r" stroke="#edc76f" points="360.4,178.2 362.5,168.1 364.6,164.2 366.7,157.5 368.7,166.2 370.7,162.0 372.6,159.2 374.6,158.4 376.4,152.0 377.8,154.0 378.7,150.9 379.5,148.7 380.3,155.3 381.2,148.5 382.0,149.9 382.8,149.3 383.6,146.6 384.4,149.2 385.2,149.3 386.0,148.7 386.8,148.3 387.6,149.4 388.3,143.2 389.1,141.7 389.9,140.5 390.6,145.2 391.4,145.6 392.1,144.0 392.9,139.5 393.6,142.9 394.3,144.8 395.1,144.1 395.8,145.3 396.5,143.6 397.2,140.0 397.9,142.2 398.7,140.8 399.4,139.9 400.1,138.9 400.7,135.2 401.4,140.4 402.1,140.4 402.8,137.4 403.5,136.3 404.1,136.7 404.8,137.6 405.5,135.1 406.1,135.4 406.8,139.4 407.5,139.4 408.1,133.2 408.7,139.4 409.4,133.8 410.0,134.3 410.7,129.7 411.3,130.3 411.9,130.6 412.5,131.9 413.2,130.2 413.8,131.5 414.4,132.2 415.0,131.4 415.6,130.3 416.2,129.3 416.8,131.1 417.4,129.2 418.0,129.4 418.6,128.9 419.2,130.1 419.8,128.5 420.4,128.9 420.9,132.6 421.5,127.3 422.1,127.0 422.7,125.4 423.2,124.8 423.8,126.2"/>
<polyline class="r2" stroke="#edc76f" points="423.8,126.2 424.4,126.8 424.9,122.0 425.5,124.8 426.0,125.0 426.6,124.1 427.1,121.7 427.7,123.2 428.2,122.3 428.8,123.0 429.3,122.0 429.8,121.9 430.4,121.7 430.9,121.3 431.4,121.1 431.9,121.3 432.5,120.5 433.0,122.1 433.5,120.7 434.0,120.4 434.5,119.6 435.0,122.5 435.6,118.6 436.1,119.3 436.6,118.5 437.1,119.6 437.6,118.6 438.1,119.8 438.6,117.9 439.1,118.4 439.5,117.3 440.0,119.1 440.5,116.5 441.0,117.3 441.5,115.6 442.0,117.0 442.4,112.9 442.9,115.0 443.4,113.7 443.9,114.9 444.3,113.5 444.8,116.2 445.3,113.9 445.7,115.8 446.2,113.6 446.7,114.9 447.1,113.9 447.6,114.6 448.0,113.1 448.5,114.3 448.9,110.4 449.4,114.4 449.8,111.1 450.3,114.6 450.7,111.1 451.2,112.2 451.6,108.4 452.1,111.7 452.5,109.4 452.9,110.9 453.4,108.2 453.8,109.5 454.2,105.8 454.7,108.1 455.1,106.9 455.5,109.8 455.9,106.7 456.4,108.5 456.8,105.9 457.2,108.2 457.6,105.0 458.0,107.3 458.4,103.7 458.9,108.0 459.3,105.3 459.7,110.3 460.1,105.3 460.5,106.3 460.9,102.1 461.3,104.9 461.7,102.9"/>
<polyline class="r3" stroke="#edc76f" points="461.7,102.9 462.1,105.2 462.5,103.6 462.9,105.8 463.3,102.3 463.7,104.6 464.1,101.7 464.5,105.4 464.9,101.4 465.3,102.8 465.7,100.8 466.1,101.8 466.4,99.4 466.8,103.0 467.2,99.0 467.6,102.8 468.0,100.3 468.4,100.8 468.7,98.1 469.1,101.2 469.5,97.2 469.9,99.7 470.2,97.7 470.6,99.9 471.0,95.9 471.4,98.7 471.7,95.1 472.1,97.7 472.5,94.9 472.8,98.7 473.2,95.3 473.6,98.6 473.9,95.9 474.3,97.3 474.6,94.4 475.0,95.8 475.4,92.4 475.7,95.7 476.1,94.1 476.4,96.2 476.8,92.6 477.1,95.2 477.5,92.5 477.8,94.5 478.2,92.4 478.5,95.5 478.9,91.7 479.2,94.3 479.6,90.6 479.9,95.6 480.2,91.9 480.6,94.7 480.9,92.8 481.3,94.9 481.6,92.2 481.9,94.2 482.3,89.6 482.6,94.2 482.9,91.5 483.3,92.9 483.6,88.4 483.9,91.1 484.3,88.7 484.6,91.8 484.9,89.4 485.3,90.9 485.6,87.7 485.9,90.7 486.2,87.9 486.6,91.7 486.9,88.5 487.2,91.4 487.5,88.8 487.8,90.3 488.2,87.2 488.5,89.9 488.8,86.5 489.1,89.7 489.4,86.7 489.7,90.1 490.1,87.0 490.4,89.1 490.7,86.7 491.0,88.2 491.3,84.0 491.6,88.4 491.9,86.1 492.2,88.3 492.5,86.6 492.8,89.7 493.1,85.9 493.4,89.4 493.8,85.7 494.1,87.2 494.4,85.4 494.7,87.8 495.0,85.2 495.3,88.3 495.6,85.1 495.9,86.7 496.2,84.3 496.4,85.5 496.7,83.2 497.0,86.6 497.3,84.2 497.6,88.3 497.9,85.8 498.2,87.7 498.5,85.1 498.8,86.2 499.1,84.5 499.4,86.3 499.7,84.1 499.9,86.1 500.2,83.9 500.5,85.8 500.8,81.6 501.1,87.1 501.4,83.2 501.7,86.3 501.9,83.8 502.2,86.0 502.5,82.9 502.8,85.6 503.1,83.5 503.3,85.4 503.6,83.6 503.9,85.4 504.2,82.5 504.4,84.9 504.7,82.0 505.0,85.3 505.3,82.5 505.5,85.2 505.8,81.0 506.1,83.8 506.4,81.1 506.6,83.3 506.9,80.4 507.2,83.5 507.4,82.0 507.7,85.2 508.0,80.6 508.2,84.2 508.5,82.9 508.8,83.8 509.0,81.8 509.3,83.1 509.6,79.4 509.8,82.2 510.1,80.1 510.4,83.8 510.6,81.4 510.9,84.5 511.1,81.4 511.4,84.1 511.7,79.5 511.9,83.4 512.2,81.5 512.4,83.5 512.7,81.8 512.9,86.2 513.2,82.6 513.5,85.0 513.7,82.9 514.0,85.4 514.2,82.8 514.5,84.0 514.7,82.1 515.0,84.1 515.2,80.9 515.5,84.9 515.7,81.0 516.0,84.4 516.2,81.0 516.5,83.5 516.7,81.0 517.0,83.0 517.2,80.1 517.5,82.6 517.7,80.7 517.9,83.5 518.2,80.7 518.4,83.3 518.7,81.5 518.9,83.6 519.2,81.3 519.4,83.7 519.6,82.2 519.9,83.4 520.1,80.4 520.4,83.5 520.6,80.5 520.8,82.4 521.1,81.1 521.3,82.7 521.6,79.3 521.8,81.8 522.0,79.8 522.3,81.9 522.5,81.4 522.7,82.9 523.0,79.9 523.2,83.5 523.4,80.3 523.7,82.8 523.9,79.9 524.1,84.1 524.4,81.0 524.6,83.1 524.8,81.5 525.1,83.9 525.3,80.6 525.5,82.6 525.7,81.2 526.0,83.8 526.2,81.4 526.4,84.0 526.7,82.5 526.9,83.9 527.1,81.8 527.3,83.6 527.6,80.5 527.8,83.4 528.0,81.0 528.2,83.8 528.4,81.6 528.7,83.6 528.9,82.1 529.1,85.0 529.3,81.6 529.6,84.2 529.8,82.5 530.0,85.2 530.2,82.1 530.4,84.1 530.7,82.3 530.9,85.6 531.1,82.5 531.3,84.7 531.5,82.9 531.7,86.0 532.0,84.4 532.2,87.5 532.4,84.6 532.6,87.8 532.8,84.5 533.0,87.1 533.2,83.7 533.5,85.7 533.7,83.8 533.9,87.0 534.1,81.9 534.3,87.0 534.5,85.0 534.7,87.3 534.9,85.4 535.2,87.5 535.4,84.1 535.6,86.8 535.8,84.5 536.0,88.3 536.2,85.4 536.4,88.7 536.6,86.5 536.8,89.4 537.0,86.0 537.2,87.3 537.4,85.5 537.6,87.2 537.9,84.9 538.1,87.6 538.3,85.3 538.5,87.2 538.7,86.5 538.9,88.6 539.1,84.7 539.3,89.3 539.5,87.4 539.7,90.2 539.9,87.4 540.1,91.6 540.3,88.3 540.5,89.9 540.7,88.2 540.9,89.8 541.1,87.3 541.3,88.2 541.5,85.9 541.7,88.1 541.9,86.7 542.1,90.0 542.3,88.3 542.5,90.8 542.7,88.5 542.9,91.9 543.1,88.6 543.3,92.5 543.5,88.8 543.7,92.3 543.8,89.5 544.0,93.5 544.2,90.1 544.4,94.5 544.6,90.5 544.8,93.3 545.0,90.5 545.2,93.0 545.4,90.6 545.6,92.4 545.8,90.9 546.0,95.1 546.2,91.2 546.3,94.1 546.5,91.3 546.7,93.7 546.9,92.4 547.1,95.5 547.3,93.8 547.5,95.9 547.7,94.0 547.9,96.4 548.0,93.5 548.2,96.6 548.4,93.2 548.6,95.4 548.8,91.3 549.0,96.0 549.2,93.2 549.3,97.3 549.5,95.2 549.7,98.5 549.9,94.7 550.1,97.3 550.3,95.5 550.5,97.7 550.6,94.6 550.8,96.6 551.0,94.7 551.2,97.2 551.4,95.6 551.6,98.8 551.7,96.7 551.9,99.2 552.1,96.8 552.3,98.7 552.5,97.3 552.6,99.3 552.8,97.8 553.0,99.4 553.2,97.0 553.4,100.1 553.5,99.1 553.7,102.0 553.9,100.7 554.1,104.1 554.2,100.8 554.4,103.7 554.6,100.6 554.8,102.6 555.0,100.7 555.1,102.7 555.3,100.7 555.5,103.7 555.7,100.0 555.8,102.8 556.0,100.1 556.2,102.0 556.4,101.1 556.5,103.5 556.7,101.4 556.9,103.8 557.0,102.8 557.2,106.0 557.4,103.8 557.6,106.3 557.7,103.5 557.9,106.1 558.1,103.3 558.3,106.6 558.4,104.0 558.6,108.4 558.8,105.3 558.9,108.4 559.1,105.8 559.3,108.9 559.4,105.8 559.6,109.2 559.8,107.4"/>
<polyline stroke="#c8e688" points="104.1,422.3 123.2,422.3 139.6,422.3 153.9,422.3 166.6,422.3 178.0,422.2 188.3,422.0 197.8,413.0 206.5,410.3 214.7,400.5 222.2,386.2 229.3,390.5 236.0,382.0 242.3,343.6 248.3,333.1 254.0,312.4 259.4,271.6 264.5,231.9 269.4,215.2 274.2,201.8 278.7,237.2 283.0,269.6 287.2,290.2 291.3,268.9 295.2,252.9 299.0,241.9 302.6,213.1 306.2,213.0 309.6,201.8 312.9,206.3 316.1,197.3 319.3,201.2 322.3,194.2 325.3,182.0 328.2,187.7 331.1,197.4 333.8,192.3 336.5,190.7 339.1,184.4 341.7,178.1 344.2,178.8 346.7,178.9 349.1,166.8 351.4,173.6 353.8,167.1 356.0,171.0 358.2,160.8 360.4,157.4"/>
<polyline class="r" stroke="#c8e688" points="360.4,157.4 362.5,153.1 364.6,154.5 366.7,155.8 368.7,148.8 370.7,147.6 372.6,141.7 374.6,143.3 376.4,143.8 377.8,139.6 378.7,137.4 379.5,143.8 380.3,139.5 381.2,133.8 382.0,138.3 382.8,134.7 383.6,139.4 384.4,132.6 385.2,136.4 386.0,134.9 386.8,130.4 387.6,129.3 388.3,134.2 389.1,130.4 389.9,128.4 390.6,129.8 391.4,132.6 392.1,131.5 392.9,132.1 393.6,131.7 394.3,127.7 395.1,129.0 395.8,128.7 396.5,125.0 397.2,125.5 397.9,128.5 398.7,124.6 399.4,129.0 400.1,121.0 400.7,128.6 401.4,128.7 402.1,123.9 402.8,123.7 403.5,125.2 404.1,124.7 404.8,121.3 405.5,120.2 406.1,122.3 406.8,123.1 407.5,122.5 408.1,120.4 408.7,117.8 409.4,120.7 410.0,120.9 410.7,122.7 411.3,115.8 411.9,121.0 412.5,117.1 413.2,116.2 413.8,116.9 414.4,116.6 415.0,113.9 415.6,114.9 416.2,117.1 416.8,113.0 417.4,114.9 418.0,117.1 418.6,115.0 419.2,113.9 419.8,113.0 420.4,113.0 420.9,113.7 421.5,114.2 422.1,115.5 422.7,111.3 423.2,111.5 423.8,112.6"/>
<polyline class="r2" stroke="#c8e688" points="423.8,112.6 424.4,114.6 424.9,113.0 425.5,111.8 426.0,111.6 426.6,113.9 427.1,110.5 427.7,111.4 428.2,111.5 428.8,112.2 429.3,110.7 429.8,110.2 430.4,108.5 430.9,109.9 431.4,106.9 431.9,108.1 432.5,107.2 433.0,108.2 433.5,107.2 434.0,107.0 434.5,105.3 435.0,106.7 435.6,104.9 436.1,106.0 436.6,103.0 437.1,106.8 437.6,103.9 438.1,104.9 438.6,103.1 439.1,103.7 439.5,100.8 440.0,101.6 440.5,99.8 441.0,101.4 441.5,98.8 442.0,101.4 442.4,98.6 442.9,101.3 443.4,98.4 443.9,99.2 444.3,98.0 444.8,98.9 445.3,97.4 445.7,97.7 446.2,96.7 446.7,97.4 447.1,95.0 447.6,96.6 448.0,95.6 448.5,96.0 448.9,94.5 449.4,96.6 449.8,92.8 450.3,94.7 450.7,93.4 451.2,94.9 451.6,93.2 452.1,94.8 452.5,92.3 452.9,93.7 453.4,91.5 453.8,92.4 454.2,88.7 454.7,93.4 455.1,90.3 455.5,91.8 455.9,89.4 456.4,90.9 456.8,87.6 457.2,91.2 457.6,88.3 458.0,89.9 458.4,88.1 458.9,89.0 459.3,85.7 459.7,88.3 460.1,85.4 460.5,88.7 460.9,86.0 461.3,88.8 461.7,85.8"/>
<polyline class="r3" stroke="#c8e688" points="461.7,85.8 462.1,88.5 462.5,85.7 462.9,87.7 463.3,83.0 463.7,85.1 464.1,81.1 464.5,84.4 464.9,82.8 465.3,84.2 465.7,83.1 466.1,84.1 466.4,80.6 466.8,83.3 467.2,80.5 467.6,81.5 468.0,78.4 468.4,80.8 468.7,78.0 469.1,81.9 469.5,78.6 469.9,82.0 470.2,77.5 470.6,81.3 471.0,77.5 471.4,79.2 471.7,75.4 472.1,78.9 472.5,75.5 472.8,78.8 473.2,76.0 473.6,79.1 473.9,76.0 474.3,78.9 474.6,77.6 475.0,80.7 475.4,76.8 475.7,79.3 476.1,75.1 476.4,75.9 476.8,71.2 477.1,76.8 477.5,73.8 477.8,77.6 478.2,75.1 478.5,75.9 478.9,73.5 479.2,75.8 479.6,72.6 479.9,76.8 480.2,73.7 480.6,75.3 480.9,73.1 481.3,76.0 481.6,74.6 481.9,74.8 482.3,72.4 482.6,75.7 482.9,72.7 483.3,74.2 483.6,71.1 483.9,73.5 484.3,71.6 484.6,73.0 484.9,70.5 485.3,73.6 485.6,71.8 485.9,75.1 486.2,70.4 486.6,74.5 486.9,71.2 487.2,73.8 487.5,71.2 487.8,73.5 488.2,70.5 488.5,73.4 488.8,71.7 489.1,73.5 489.4,71.4 489.7,73.1 490.1,70.5 490.4,73.7 490.7,70.7 491.0,72.6 491.3,71.8 491.6,72.3 491.9,70.1 492.2,72.8 492.5,71.3 492.8,72.3 493.1,71.1 493.4,73.2 493.8,69.6 494.1,72.2 494.4,69.7 494.7,74.0 495.0,70.5 495.3,72.4 495.6,67.8 495.9,70.8 496.2,66.6 496.4,70.5 496.7,67.8 497.0,71.1 497.3,68.9 497.6,72.5 497.9,68.0 498.2,71.2 498.5,69.0 498.8,71.4 499.1,68.1 499.4,69.9 499.7,67.9 499.9,69.6 500.2,67.6 500.5,69.7 500.8,67.1 501.1,69.4 501.4,66.2 501.7,68.2 501.9,66.3 502.2,67.5 502.5,65.4 502.8,68.6 503.1,66.9 503.3,68.9 503.6,67.0 503.9,68.4 504.2,65.3 504.4,66.0 504.7,62.8 505.0,65.9 505.3,63.7 505.5,65.2 505.8,62.5 506.1,66.0 506.4,62.0 506.6,64.8 506.9,62.1 507.2,65.0 507.4,62.7 507.7,65.8 508.0,63.6 508.2,66.4 508.5,63.1 508.8,66.1 509.0,63.0 509.3,67.9 509.6,64.1 509.8,67.2 510.1,61.5 510.4,64.8 510.6,61.1 510.9,64.6 511.1,62.1 511.4,65.3 511.7,59.9 511.9,64.9 512.2,62.3 512.4,65.2 512.7,62.4 512.9,65.1 513.2,62.4 513.5,64.0 513.7,60.1 514.0,65.3 514.2,63.0 514.5,65.9 514.7,63.2 515.0,66.1 515.2,62.4 515.5,65.2 515.7,62.9 516.0,65.7 516.2,63.8 516.5,66.9 516.7,64.4 517.0,66.8 517.2,64.2 517.5,66.1 517.7,63.9 517.9,65.6 518.2,62.6 518.4,66.3 518.7,64.6 518.9,67.0 519.2,65.4 519.4,67.4 519.6,65.3 519.9,67.0 520.1,62.7 520.4,66.7 520.6,64.5 520.8,67.1 521.1,66.4 521.3,69.0 521.6,66.1 521.8,69.7 522.0,66.4 522.3,68.3 522.5,65.6 522.7,68.2 523.0,66.9 523.2,69.1 523.4,65.0 523.7,69.6 523.9,66.5 524.1,68.3 524.4,67.0 524.6,70.6 524.8,67.5 525.1,71.5 525.3,69.3 525.5,71.4 525.7,69.0 526.0,71.3 526.2,69.2 526.4,71.7 526.7,68.2 526.9,71.1 527.1,69.1 527.3,71.3 527.6,69.9 527.8,73.0 528.0,69.9 528.2,73.8 528.4,71.7 528.7,74.9 528.9,71.4 529.1,73.4 529.3,71.0 529.6,73.7 529.8,71.2 530.0,74.8 530.2,73.6 530.4,75.7 530.7,73.7 530.9,76.2 531.1,73.3 531.3,76.2 531.5,74.0 531.7,75.1 532.0,70.8 532.2,74.5 532.4,74.0 532.6,77.2 532.8,75.0 533.0,78.2 533.2,76.2 533.5,78.2 533.7,75.9 533.9,77.2 534.1,74.3 534.3,76.8 534.5,75.6 534.7,77.7 534.9,77.0 535.2,79.1 535.4,78.0 535.6,80.3 535.8,77.8 536.0,79.1 536.2,77.9 536.4,80.2 536.6,77.3 536.8,81.5 537.0,80.4 537.2,83.0 537.4,80.2 537.6,82.4 537.9,80.5 538.1,83.4 538.3,81.0 538.5,84.1 538.7,81.4 538.9,83.4 539.1,80.4 539.3,84.0 539.5,82.4 539.7,85.0 539.9,82.8 540.1,86.6 540.3,84.3 540.5,85.7 540.7,83.4 540.9,86.1 541.1,83.8 541.3,86.7 541.5,84.8 541.7,87.2 541.9,85.2 542.1,88.2 542.3,84.8 542.5,88.2 542.7,84.1 542.9,87.7 543.1,84.9 543.3,88.8 543.5,88.4 543.7,90.8 543.8,87.8 544.0,91.3 544.2,88.7 544.4,90.4 544.6,88.6 544.8,90.7 545.0,88.6 545.2,90.8 545.4,89.3 545.6,93.5 545.8,91.0 546.0,93.9 546.2,91.3 546.3,94.2 546.5,93.1 546.7,94.4 546.9,92.8 547.1,95.5 547.3,92.1 547.5,94.8 547.7,93.8 547.9,95.9 548.0,93.6 548.2,97.8 548.4,96.4 548.6,97.6 548.8,96.9 549.0,99.0 549.2,96.2 549.3,99.3 549.5,97.7 549.7,100.4 549.9,98.1 550.1,100.9 550.3,99.3 550.5,102.9 550.6,99.1 550.8,101.9 551.0,101.3 551.2,103.7 551.4,102.1 551.6,104.0 551.7,102.6 551.9,104.2 552.1,103.0 552.3,104.3 552.5,102.1 552.6,106.0 552.8,104.2 553.0,107.8 553.2,105.5 553.4,108.5 553.5,106.5 553.7,108.9 553.9,106.5 554.1,110.2 554.2,107.3 554.4,110.8 554.6,108.8 554.8,111.5 555.0,110.6 555.1,114.0 555.3,111.1 555.5,113.2 555.7,112.4 555.8,116.0 556.0,113.2 556.2,116.5 556.4,113.9 556.5,116.5 556.7,115.3 556.9,117.9 557.0,115.7 557.2,118.4 557.4,117.1 557.6,118.6 557.7,117.1 557.9,120.5 558.1,117.4 558.3,121.8 558.4,120.5 558.6,123.0 558.8,121.0 558.9,124.1 559.1,120.7 559.3,125.5 559.4,121.5 559.6,125.3 559.8,122.2"/>
<polyline stroke="#a4f99f" points="104.1,422.3 123.2,415.2 139.6,414.7 153.9,422.3 166.6,416.8 178.0,420.2 188.3,400.2 197.8,391.8 206.5,378.9 214.7,395.5 222.2,379.2 229.3,355.0 236.0,344.7 242.3,329.2 248.3,321.6 254.0,281.9 259.4,250.4 264.5,228.8 269.4,166.0 274.2,205.0 278.7,236.0 283.0,232.0 287.2,218.7 291.3,220.6 295.2,234.1 299.0,208.4 302.6,206.0 306.2,199.5 309.6,186.1 312.9,186.6 316.1,191.2 319.3,198.0 322.3,183.3 325.3,178.1 328.2,182.8 331.1,175.5 333.8,178.1 336.5,171.6 339.1,173.7 341.7,164.7 344.2,163.8 346.7,165.2 349.1,161.7 351.4,153.9 353.8,146.7 356.0,144.0 358.2,140.9 360.4,136.8"/>
<polyline class="r" stroke="#a4f99f" points="360.4,136.8 362.5,136.2 364.6,137.7 366.7,136.7 368.7,133.6 370.7,134.9 372.6,137.2 374.6,127.2 376.4,131.2 377.8,132.8 378.7,130.8 379.5,129.2 380.3,126.4 381.2,120.2 382.0,128.7 382.8,123.8 383.6,123.7 384.4,118.9 385.2,116.7 386.0,116.3 386.8,113.7 387.6,115.0 388.3,112.3 389.1,118.3 389.9,114.8 390.6,117.2 391.4,109.0 392.1,116.0 392.9,111.5 393.6,112.9 394.3,113.9 395.1,110.2 395.8,113.2 396.5,108.2 397.2,109.5 397.9,111.4 398.7,106.3 399.4,109.7 400.1,107.8 400.7,107.0 401.4,106.3 402.1,108.9 402.8,105.7 403.5,103.9 404.1,107.3 404.8,106.2 405.5,106.9 406.1,106.0 406.8,102.4 407.5,105.8 408.1,104.3 408.7,100.7 409.4,102.9 410.0,104.2 410.7,102.8 411.3,105.4 411.9,102.1 412.5,101.5 413.2,100.3 413.8,102.2 414.4,102.2 415.0,98.6 415.6,96.2 416.2,101.5 416.8,97.5 417.4,97.0 418.0,98.0 418.6,96.9 419.2,97.0 419.8,95.9 420.4,97.7 420.9,99.7 421.5,96.3 422.1,96.9 422.7,96.9 423.2,96.9 423.8,98.0"/>
<polyline class="r2" stroke="#a4f99f" points="423.8,98.0 424.4,95.0 424.9,98.0 425.5,97.7 426.0,97.1 426.6,96.9 427.1,96.8 427.7,96.0 428.2,95.5 428.8,95.9 429.3,96.4 429.8,96.8 430.4,96.7 430.9,96.8 431.4,96.5 431.9,99.5 432.5,96.2 433.0,95.5 433.5,94.9 434.0,95.9 434.5,95.7 435.0,96.0 435.6,94.1 436.1,94.9 436.6,94.3 437.1,93.6 437.6,92.8 438.1,92.8 438.6,92.0 439.1,92.1 439.5,90.8 440.0,91.0 440.5,89.7 441.0,89.5 441.5,86.7 442.0,88.2 442.4,85.1 442.9,86.9 443.4,85.4 443.9,88.4 444.3,83.1 444.8,85.2 445.3,84.4 445.7,84.8 446.2,83.4 446.7,84.1 447.1,82.1 447.6,82.4 448.0,80.4 448.5,81.3 448.9,79.1 449.4,81.0 449.8,77.1 450.3,79.9 450.7,76.6 451.2,78.9 451.6,74.9 452.1,78.0 452.5,75.6 452.9,77.9 453.4,74.3 453.8,77.3 454.2,74.2 454.7,76.6 455.1,74.3 455.5,76.5 455.9,74.1 456.4,78.3 456.8,75.0 457.2,77.9 457.6,73.7 458.0,75.9 458.4,73.5 458.9,76.2 459.3,71.9 459.7,74.6 460.1,73.0 460.5,74.5 460.9,71.7 461.3,73.1 461.7,71.4"/>
<polyline class="r3" stroke="#a4f99f" points="461.7,71.4 462.1,74.0 462.5,70.7 462.9,74.8 463.3,72.2 463.7,73.9 464.1,71.4 464.5,73.5 464.9,70.1 465.3,74.3 465.7,69.5 466.1,72.3 466.4,69.2 466.8,72.1 467.2,69.7 467.6,71.7 468.0,69.6 468.4,73.1 468.7,69.3 469.1,70.2 469.5,68.8 469.9,71.2 470.2,68.2 470.6,70.5 471.0,68.0 471.4,70.2 471.7,66.0 472.1,71.8 472.5,68.1 472.8,69.6 473.2,67.2 473.6,69.2 473.9,66.2 474.3,68.3 474.6,65.3 475.0,68.0 475.4,65.6 475.7,67.7 476.1,66.5 476.4,66.9 476.8,64.1 477.1,69.2 477.5,63.5 477.8,66.4 478.2,64.9 478.5,67.3 478.9,64.5 479.2,67.3 479.6,66.1 479.9,67.7 480.2,64.9 480.6,66.6 480.9,64.4 481.3,66.3 481.6,64.1 481.9,69.0 482.3,66.8 482.6,68.5 482.9,66.5 483.3,69.4 483.6,67.0 483.9,68.8 484.3,65.4 484.6,68.8 484.9,66.5 485.3,68.0 485.6,64.8 485.9,67.2 486.2,63.9 486.6,67.0 486.9,64.7 487.2,68.4 487.5,66.1 487.8,68.0 488.2,64.5 488.5,68.8 488.8,66.5 489.1,68.2 489.4,64.7 489.7,67.7 490.1,65.6 490.4,67.0 490.7,66.0 491.0,67.1 491.3,65.9 491.6,68.2 491.9,64.8 492.2,67.3 492.5,64.9 492.8,66.8 493.1,62.8 493.4,66.9 493.8,63.8 494.1,66.0 494.4,64.6 494.7,68.3 495.0,64.9 495.3,66.2 495.6,62.4 495.9,66.7 496.2,63.2 496.4,66.1 496.7,64.9 497.0,67.8 497.3,63.9 497.6,67.2 497.9,65.5 498.2,68.4 498.5,64.8 498.8,66.8 499.1,63.6 499.4,66.5 499.7,64.3 499.9,66.7 500.2,65.0 500.5,67.2 500.8,65.9 501.1,69.4 501.4,65.7 501.7,67.9 501.9,65.5 502.2,66.3 502.5,64.1 502.8,66.3 503.1,63.9 503.3,66.1 503.6,63.2 503.9,65.9 504.2,64.1 504.4,66.5 504.7,64.0 505.0,66.2 505.3,62.2 505.5,66.1 505.8,63.1 506.1,65.6 506.4,64.0 506.6,66.7 506.9,62.8 507.2,67.2 507.4,62.3 507.7,64.3 508.0,62.2 508.2,64.5 508.5,61.3 508.8,65.7 509.0,62.6 509.3,64.2 509.6,60.4 509.8,63.9 510.1,60.8 510.4,62.9 510.6,61.5 510.9,63.8 511.1,61.6 511.4,64.6 511.7,62.6 511.9,63.8 512.2,61.5 512.4,63.5 512.7,60.9 512.9,63.6 513.2,62.1 513.5,64.6 513.7,62.2 514.0,64.8 514.2,62.3 514.5,63.7 514.7,61.4 515.0,62.8 515.2,61.0 515.5,62.8 515.7,60.9 516.0,63.3 516.2,61.6 516.5,64.1 516.7,63.0 517.0,65.3 517.2,63.4 517.5,67.4 517.7,64.3 517.9,66.0 518.2,64.9 518.4,66.9 518.7,62.6 518.9,66.2 519.2,63.1 519.4,65.3 519.6,63.3 519.9,66.9 520.1,64.3 520.4,66.2 520.6,62.4 520.8,67.0 521.1,64.7 521.3,67.0 521.6,65.0 521.8,68.1 522.0,65.8 522.3,68.3 522.5,66.4 522.7,68.2 523.0,66.4 523.2,69.0 523.4,66.9 523.7,69.4 523.9,68.1 524.1,70.0 524.4,67.3 524.6,71.4 524.8,69.0 525.1,71.7 525.3,70.5 525.5,73.3 525.7,70.2 526.0,71.2 526.2,68.1 526.4,72.2 526.7,69.3 526.9,71.4 527.1,70.1 527.3,72.2 527.6,69.3 527.8,72.5 528.0,71.4 528.2,74.5 528.4,69.3 528.7,71.8 528.9,69.2 529.1,73.4 529.3,71.3 529.6,74.7 529.8,72.8 530.0,76.3 530.2,73.1 530.4,74.7 530.7,72.6 530.9,75.5 531.1,72.6 531.3,74.7 531.5,72.3 531.7,75.8 532.0,72.6 532.2,76.8 532.4,73.2 532.6,76.7 532.8,74.1 533.0,75.9 533.2,73.8 533.5,76.5 533.7,74.1 533.9,76.1 534.1,74.9 534.3,75.9 534.5,74.4 534.7,75.9 534.9,74.5 535.2,77.9 535.4,76.7 535.6,78.3 535.8,77.5 536.0,79.6 536.2,76.2 536.4,80.4 536.6,76.7 536.8,81.1 537.0,79.3 537.2,82.5 537.4,81.4 537.6,81.9 537.9,79.0 538.1,83.1 538.3,79.9 538.5,83.0 538.7,79.5 538.9,82.8 539.1,78.8 539.3,82.6 539.5,79.6 539.7,83.3 539.9,81.9 540.1,83.5 540.3,82.0 540.5,86.5 540.7,83.4 540.9,85.9 541.1,83.6 541.3,87.1 541.5,84.2 541.7,85.7 541.9,84.5 542.1,87.2 542.3,84.6 542.5,86.8 542.7,84.8 542.9,87.4 543.1,85.5 543.3,88.0 543.5,84.3 543.7,88.6 543.8,86.7 544.0,88.8 544.2,88.1 544.4,90.9 544.6,88.0 544.8,92.0 545.0,89.8 545.2,91.9 545.4,90.5 545.6,93.0 545.8,88.7 546.0,93.1 546.2,91.0 546.3,93.9 546.5,92.0 546.7,95.1 546.9,93.2 547.1,97.2 547.3,94.5 547.5,97.2 547.7,95.3 547.9,97.5 548.0,94.8 548.2,96.3 548.4,94.1 548.6,97.0 548.8,95.1 549.0,98.5 549.2,96.0 549.3,98.7 549.5,97.2 549.7,99.2 549.9,96.9 550.1,99.9 550.3,98.8 550.5,100.4 550.6,99.7 550.8,103.3 551.0,101.8 551.2,104.6 551.4,102.8 551.6,104.9 551.7,102.5 551.9,105.5 552.1,103.9 552.3,106.9 552.5,104.8 552.6,107.4 552.8,104.5 553.0,107.6 553.2,105.8 553.4,109.0 553.5,107.2 553.7,110.3 553.9,107.7 554.1,110.7 554.2,110.1 554.4,112.8 554.6,110.6 554.8,113.4 555.0,111.9 555.1,113.9 555.3,112.2 555.5,114.8 555.7,111.9 555.8,115.9 556.0,114.8 556.2,117.6 556.4,116.6 556.5,118.8 556.7,116.2 556.9,119.4 557.0,116.6 557.2,119.9 557.4,118.8 557.6,120.7 557.7,119.5 557.9,122.8 558.1,119.1 558.3,122.2 558.4,118.5 558.6,121.8 558.8,120.1 558.9,123.0 559.1,121.7 559.3,125.1 559.4,123.8 559.6,127.4 559.8,123.9"/>
<polyline stroke="#5bf9c7" points="104.1,421.8 123.2,422.0 139.6,421.0 153.9,407.0 166.6,421.0 178.0,416.0 188.3,421.0 197.8,397.5 206.5,396.4 214.7,395.2 222.2,387.9 229.3,380.0 236.0,346.8 242.3,329.5 248.3,297.9 254.0,275.7 259.4,262.3 264.5,224.7 269.4,167.0 274.2,198.0 278.7,232.0 283.0,225.8 287.2,222.9 291.3,221.4 295.2,237.4 299.0,208.4 302.6,207.0 306.2,182.9 309.6,191.7 312.9,184.9 316.1,189.9 319.3,180.4 322.3,174.1 325.3,183.8 328.2,183.6 331.1,179.6 333.8,179.8 336.5,178.3 339.1,169.2 341.7,157.9 344.2,165.8 346.7,157.2 349.1,159.7 351.4,156.0 353.8,150.1 356.0,141.6 358.2,140.4 360.4,151.6"/>
<polyline class="r" stroke="#5bf9c7" points="360.4,151.6 362.5,141.7 364.6,132.6 366.7,138.7 368.7,129.5 370.7,130.9 372.6,125.4 374.6,127.0 376.4,124.8 377.8,126.3 378.7,128.9 379.5,123.2 380.3,125.3 381.2,124.7 382.0,128.3 382.8,126.1 383.6,119.6 384.4,122.1 385.2,120.6 386.0,121.4 386.8,121.3 387.6,120.3 388.3,120.3 389.1,116.9 389.9,116.0 390.6,117.5 391.4,111.7 392.1,111.9 392.9,112.4 393.6,109.4 394.3,111.1 395.1,107.6 395.8,109.4 396.5,108.1 397.2,108.5 397.9,107.2 398.7,105.1 399.4,103.4 400.1,106.6 400.7,107.4 401.4,104.0 402.1,107.0 402.8,105.8 403.5,106.4 404.1,108.4 404.8,107.9 405.5,108.0 406.1,108.5 406.8,107.0 407.5,109.9 408.1,109.4 408.7,105.4 409.4,109.8 410.0,107.4 410.7,108.6 411.3,108.0 411.9,109.7 412.5,106.8 413.2,105.9 413.8,107.3 414.4,102.9 415.0,106.6 415.6,104.9 416.2,102.6 416.8,103.5 417.4,103.6 418.0,102.2 418.6,100.2 419.2,102.3 419.8,99.5 420.4,99.1 420.9,100.1 421.5,97.5 422.1,97.8 422.7,97.5 423.2,97.2 423.8,98.7"/>
<polyline class="r2" stroke="#5bf9c7" points="423.8,98.7 424.4,96.0 424.9,96.2 425.5,95.9 426.0,97.0 426.6,96.0 427.1,92.7 427.7,93.1 428.2,94.8 428.8,94.7 429.3,95.3 429.8,95.5 430.4,93.0 430.9,95.0 431.4,93.0 431.9,96.3 432.5,92.8 433.0,92.1 433.5,91.7 434.0,91.7 434.5,90.3 435.0,90.9 435.6,90.1 436.1,89.9 436.6,87.7 437.1,89.3 437.6,87.5 438.1,90.2 438.6,87.5 439.1,88.4 439.5,85.8 440.0,86.4 440.5,83.1 441.0,84.4 441.5,82.7 442.0,83.9 442.4,82.4 442.9,83.1 443.4,81.9 443.9,82.7 444.3,80.8 444.8,83.2 445.3,80.5 445.7,81.8 446.2,79.6 446.7,80.9 447.1,78.5 447.6,80.2 448.0,77.8 448.5,79.8 448.9,78.1 449.4,81.0 449.8,80.2 450.3,81.3 450.7,79.2 451.2,80.4 451.6,78.1 452.1,79.9 452.5,77.7 452.9,79.8 453.4,77.7 453.8,80.4 454.2,76.9 454.7,79.9 455.1,75.8 455.5,78.2 455.9,76.6 456.4,79.1 456.8,76.4 457.2,79.9 457.6,76.2 458.0,79.7 458.4,77.6 458.9,79.3 459.3,76.0 459.7,78.2 460.1,76.1 460.5,78.5 460.9,76.2 461.3,80.1 461.7,75.2"/>
<polyline class="r3" stroke="#5bf9c7" points="461.7,75.2 462.1,78.3 462.5,75.5 462.9,76.8 463.3,74.0 463.7,75.9 464.1,73.4 464.5,75.1 464.9,73.0 465.3,74.8 465.7,72.1 466.1,73.8 466.4,70.5 466.8,73.4 467.2,71.0 467.6,71.9 468.0,69.2 468.4,73.6 468.7,68.2 469.1,70.2 469.5,66.9 469.9,70.4 470.2,67.8 470.6,70.1 471.0,67.8 471.4,70.0 471.7,67.7 472.1,69.1 472.5,65.9 472.8,68.2 473.2,65.6 473.6,68.7 473.9,67.0 474.3,68.5 474.6,67.7 475.0,69.9 475.4,67.2 475.7,69.1 476.1,66.7 476.4,69.5 476.8,66.6 477.1,67.9 477.5,64.2 477.8,68.2 478.2,65.7 478.5,67.6 478.9,65.7 479.2,69.8 479.6,65.6 479.9,68.7 480.2,65.7 480.6,67.4 480.9,65.1 481.3,69.1 481.6,65.0 481.9,68.6 482.3,65.6 482.6,68.2 482.9,62.6 483.3,67.4 483.6,64.7 483.9,68.1 484.3,64.0 484.6,69.0 484.9,66.1 485.3,67.7 485.6,66.0 485.9,67.6 486.2,64.3 486.6,67.3 486.9,61.7 487.2,65.6 487.5,64.7 487.8,66.0 488.2,64.0 488.5,66.9 488.8,64.7 489.1,67.2 489.4,64.4 489.7,65.8 490.1,63.6 490.4,64.7 490.7,61.7 491.0,64.1 491.3,61.6 491.6,65.2 491.9,62.2 492.2,66.2 492.5,62.3 492.8,64.6 493.1,60.8 493.4,64.3 493.8,61.0 494.1,63.7 494.4,61.4 494.7,64.4 495.0,62.6 495.3,65.1 495.6,62.1 495.9,64.0 496.2,61.8 496.4,64.6 496.7,61.3 497.0,62.8 497.3,61.2 497.6,63.8 497.9,61.0 498.2,62.8 498.5,61.2 498.8,64.6 499.1,61.0 499.4,65.2 499.7,61.0 499.9,64.5 500.2,62.0 500.5,63.7 500.8,61.1 501.1,64.3 501.4,62.3 501.7,64.4 501.9,63.5 502.2,65.1 502.5,63.3 502.8,65.6 503.1,63.8 503.3,66.4 503.6,64.1 503.9,66.1 504.2,63.0 504.4,64.2 504.7,63.0 505.0,64.5 505.3,62.9 505.5,65.3 505.8,64.0 506.1,65.6 506.4,63.7 506.6,67.6 506.9,65.0 507.2,66.9 507.4,63.6 507.7,68.1 508.0,64.2 508.2,66.2 508.5,63.5 508.8,66.8 509.0,62.7 509.3,65.7 509.6,63.5 509.8,66.5 510.1,64.6 510.4,65.8 510.6,64.2 510.9,64.8 511.1,62.5 511.4,64.5 511.7,62.8 511.9,65.7 512.2,64.5 512.4,67.3 512.7,63.1 512.9,66.4 513.2,62.7 513.5,65.5 513.7,63.9 514.0,66.5 514.2,63.5 514.5,67.3 514.7,63.6 515.0,66.7 515.2,62.8 515.5,65.3 515.7,62.0 516.0,66.1 516.2,63.0 516.5,67.7 516.7,64.9 517.0,67.1 517.2,65.4 517.5,68.9 517.7,66.8 517.9,69.2 518.2,66.2 518.4,69.2 518.7,64.7 518.9,68.0 519.2,65.0 519.4,69.1 519.6,66.4 519.9,69.8 520.1,66.9 520.4,70.1 520.6,67.3 520.8,69.7 521.1,67.7 521.3,70.6 521.6,66.1 521.8,67.7 522.0,66.0 522.3,68.8 522.5,66.5 522.7,71.0 523.0,69.3 523.2,71.8 523.4,69.4 523.7,69.8 523.9,67.3 524.1,68.7 524.4,65.4 524.6,69.8 524.8,67.5 525.1,70.6 525.3,67.4 525.5,71.5 525.7,70.0 526.0,71.9 526.2,70.4 526.4,71.9 526.7,67.9 526.9,72.2 527.1,70.0 527.3,74.2 527.6,70.9 527.8,73.9 528.0,71.5 528.2,73.7 528.4,71.9 528.7,72.5 528.9,70.5 529.1,72.7 529.3,71.4 529.6,72.8 529.8,69.7 530.0,74.3 530.2,70.5 530.4,74.0 530.7,72.7 530.9,75.8 531.1,74.0 531.3,76.1 531.5,74.1 531.7,76.7 532.0,73.2 532.2,75.5 532.4,74.1 532.6,76.1 532.8,74.3 533.0,77.2 533.2,74.3 533.5,77.0 533.7,74.4 533.9,77.5 534.1,73.9 534.3,76.2 534.5,74.1 534.7,77.3 534.9,75.4 535.2,78.0 535.4,75.9 535.6,79.1 535.8,76.4 536.0,78.9 536.2,77.5 536.4,80.1 536.6,77.1 536.8,81.7 537.0,77.5 537.2,80.0 537.4,78.2 537.6,80.7 537.9,78.4 538.1,81.6 538.3,79.2 538.5,82.1 538.7,78.9 538.9,82.2 539.1,79.2 539.3,81.7 539.5,79.6 539.7,82.4 539.9,79.5 540.1,83.3 540.3,80.7 540.5,82.7 540.7,79.9 540.9,83.2 541.1,80.6 541.3,83.5 541.5,80.3 541.7,83.9 541.9,81.8 542.1,83.8 542.3,82.8 542.5,85.6 542.7,83.5 542.9,87.0 543.1,84.7 543.3,86.6 543.5,85.1 543.7,87.4 543.8,85.0 544.0,89.7 544.2,86.5 544.4,88.2 544.6,86.4 544.8,88.9 545.0,86.0 545.2,88.5 545.4,86.2 545.6,89.9 545.8,88.7 546.0,93.3 546.2,89.0 546.3,91.9 546.5,89.3 546.7,91.3 546.9,89.3 547.1,92.0 547.3,90.0 547.5,93.5 547.7,92.3 547.9,95.0 548.0,93.9 548.2,95.8 548.4,92.9 548.6,94.5 548.8,92.0 549.0,96.8 549.2,95.2 549.3,96.8 549.5,96.0 549.7,98.2 549.9,96.0 550.1,98.0 550.3,95.4 550.5,99.1 550.6,97.0 550.8,100.0 551.0,98.7 551.2,102.5 551.4,100.4 551.6,103.9 551.7,102.3 551.9,104.5 552.1,103.8 552.3,107.3 552.5,103.8 552.6,106.1 552.8,102.3 553.0,106.3 553.2,103.6 553.4,107.9 553.5,104.2 553.7,108.4 553.9,106.5 554.1,109.5 554.2,106.5 554.4,110.6 554.6,107.7 554.8,111.4 555.0,109.5 555.1,114.0 555.3,111.3 555.5,115.6 555.7,112.2 555.8,115.3 556.0,112.8 556.2,116.3 556.4,112.9 556.5,115.2 556.7,114.9 556.9,118.9 557.0,116.1 557.2,118.6 557.4,116.9 557.6,120.0 557.7,118.5 557.9,121.6 558.1,119.4 558.3,122.2 558.4,121.3 558.6,124.3 558.8,121.4 558.9,124.8 559.1,123.6 559.3,125.9 559.4,123.3 559.6,125.9 559.8,124.2"/>
<polyline stroke="#12c7e6" points="104.1,419.1 123.2,422.0 139.6,420.0 153.9,421.5 166.6,417.5 178.0,421.0 188.3,402.7 197.8,388.1 206.5,415.7 214.7,394.4 222.2,365.4 229.3,388.6 236.0,353.3 242.3,346.5 248.3,308.2 254.0,281.8 259.4,239.8 264.5,229.2 269.4,222.0 274.2,190.0 278.7,172.0 283.0,222.0 287.2,226.0 291.3,226.7 295.2,244.6 299.0,220.9 302.6,204.5 306.2,189.2 309.6,192.6 312.9,193.0 316.1,191.2 319.3,191.2 322.3,178.0 325.3,181.8 328.2,170.9 331.1,169.2 333.8,171.4 336.5,180.1 339.1,161.9 341.7,164.5 344.2,166.6 346.7,164.2 349.1,158.7 351.4,159.2 353.8,156.0 356.0,150.4 358.2,139.9 360.4,130.6"/>
<polyline class="r" stroke="#12c7e6" points="360.4,130.6 362.5,137.6 364.6,132.8 366.7,140.0 368.7,138.0 370.7,137.3 372.6,131.2 374.6,128.7 376.4,124.6 377.8,127.6 378.7,127.4 379.5,125.8 380.3,119.6 381.2,125.7 382.0,127.4 382.8,119.7 383.6,121.2 384.4,115.4 385.2,118.0 386.0,116.0 386.8,118.8 387.6,117.4 388.3,120.4 389.1,118.8 389.9,112.3 390.6,116.3 391.4,114.2 392.1,117.1 392.9,109.6 393.6,112.6 394.3,118.9 395.1,111.8 395.8,109.8 396.5,112.5 397.2,111.4 397.9,109.6 398.7,106.9 399.4,108.7 400.1,108.7 400.7,106.2 401.4,108.9 402.1,105.8 402.8,105.9 403.5,109.4 404.1,109.1 404.8,107.2 405.5,104.5 406.1,104.9 406.8,109.2 407.5,103.2 408.1,101.5 408.7,103.1 409.4,104.7 410.0,103.3 410.7,106.0 411.3,108.2 411.9,102.9 412.5,104.7 413.2,100.5 413.8,103.1 414.4,103.2 415.0,104.0 415.6,103.1 416.2,102.4 416.8,101.9 417.4,101.1 418.0,102.7 418.6,101.1 419.2,99.7 419.8,97.8 420.4,97.8 420.9,101.0 421.5,98.0 422.1,99.4 422.7,98.6 423.2,98.8 423.8,99.8"/>
<polyline class="r2" stroke="#12c7e6" points="423.8,99.8 424.4,98.2 424.9,97.5 425.5,97.5 426.0,96.6 426.6,99.8 427.1,96.6 427.7,95.6 428.2,96.3 428.8,95.4 429.3,92.7 429.8,97.5 430.4,94.6 430.9,93.6 431.4,93.5 431.9,92.7 432.5,91.7 433.0,92.7 433.5,91.9 434.0,91.9 434.5,90.9 435.0,92.7 435.6,89.5 436.1,90.9 436.6,86.4 437.1,90.6 437.6,86.5 438.1,90.4 438.6,88.0 439.1,89.4 439.5,85.6 440.0,89.6 440.5,85.7 441.0,86.8 441.5,84.8 442.0,87.3 442.4,85.0 442.9,85.5 443.4,83.2 443.9,84.9 444.3,81.0 444.8,84.3 445.3,82.6 445.7,84.5 446.2,82.0 446.7,83.5 447.1,82.0 447.6,82.6 448.0,80.2 448.5,81.1 448.9,79.5 449.4,80.8 449.8,79.1 450.3,80.9 450.7,77.8 451.2,81.8 451.6,78.5 452.1,79.2 452.5,77.7 452.9,78.9 453.4,76.5 453.8,80.2 454.2,77.0 454.7,78.1 455.1,76.6 455.5,78.8 455.9,76.9 456.4,78.8 456.8,75.8 457.2,76.6 457.6,74.6 458.0,76.6 458.4,73.9 458.9,76.4 459.3,72.2 459.7,75.5 460.1,73.6 460.5,75.5 460.9,73.3 461.3,76.8 461.7,72.9"/>
<polyline class="r3" stroke="#12c7e6" points="461.7,72.9 462.1,76.2 462.5,73.1 462.9,74.7 463.3,72.2 463.7,73.9 464.1,71.5 464.5,75.4 464.9,71.6 465.3,73.7 465.7,71.2 466.1,72.4 466.4,69.9 466.8,71.4 467.2,66.6 467.6,71.1 468.0,68.0 468.4,70.2 468.7,69.3 469.1,71.7 469.5,66.7 469.9,70.0 470.2,67.2 470.6,71.1 471.0,67.9 471.4,70.3 471.7,67.7 472.1,70.3 472.5,67.3 472.8,70.0 473.2,67.3 473.6,70.5 473.9,67.0 474.3,69.8 474.6,67.8 475.0,71.0 475.4,67.9 475.7,71.2 476.1,66.1 476.4,67.6 476.8,64.0 477.1,69.7 477.5,66.1 477.8,69.9 478.2,66.6 478.5,70.6 478.9,66.8 479.2,68.0 479.6,65.1 479.9,68.6 480.2,66.4 480.6,70.2 480.9,67.0 481.3,71.7 481.6,67.8 481.9,69.6 482.3,66.4 482.6,68.4 482.9,65.3 483.3,67.4 483.6,65.8 483.9,68.0 484.3,66.0 484.6,68.4 484.9,66.5 485.3,68.1 485.6,65.8 485.9,67.7 486.2,66.3 486.6,68.0 486.9,65.0 487.2,68.2 487.5,63.9 487.8,67.7 488.2,65.4 488.5,67.2 488.8,64.7 489.1,67.1 489.4,63.1 489.7,66.2 490.1,63.7 490.4,66.2 490.7,64.4 491.0,66.7 491.3,64.1 491.6,66.1 491.9,64.4 492.2,66.5 492.5,63.8 492.8,65.9 493.1,63.3 493.4,65.6 493.8,61.5 494.1,65.5 494.4,62.1 494.7,64.2 495.0,61.8 495.3,64.8 495.6,63.0 495.9,66.4 496.2,62.9 496.4,64.0 496.7,62.3 497.0,65.7 497.3,61.8 497.6,65.9 497.9,62.7 498.2,65.0 498.5,61.9 498.8,64.5 499.1,61.4 499.4,64.7 499.7,62.9 499.9,65.5 500.2,61.5 500.5,65.8 500.8,63.1 501.1,64.3 501.4,62.2 501.7,64.3 501.9,62.8 502.2,65.3 502.5,62.6 502.8,64.9 503.1,62.4 503.3,65.3 503.6,59.7 503.9,62.8 504.2,61.2 504.4,63.1 504.7,61.2 505.0,63.5 505.3,61.6 505.5,63.7 505.8,59.0 506.1,63.6 506.4,61.3 506.6,63.4 506.9,61.9 507.2,65.2 507.4,62.1 507.7,65.8 508.0,63.2 508.2,64.7 508.5,63.6 508.8,66.1 509.0,62.0 509.3,65.7 509.6,64.5 509.8,66.6 510.1,63.6 510.4,66.6 510.6,63.5 510.9,65.6 511.1,63.3 511.4,66.2 511.7,63.8 511.9,66.1 512.2,63.2 512.4,66.8 512.7,63.4 512.9,66.7 513.2,63.8 513.5,67.3 513.7,64.9 514.0,66.3 514.2,63.4 514.5,65.1 514.7,61.5 515.0,65.7 515.2,64.5 515.5,67.9 515.7,64.9 516.0,70.1 516.2,66.0 516.5,68.5 516.7,65.9 517.0,67.6 517.2,65.2 517.5,67.8 517.7,65.2 517.9,67.0 518.2,65.9 518.4,69.0 518.7,66.4 518.9,68.3 519.2,66.2 519.4,69.8 519.6,64.3 519.9,67.8 520.1,64.9 520.4,68.2 520.6,65.2 520.8,69.1 521.1,67.1 521.3,70.2 521.6,65.7 521.8,70.0 522.0,67.2 522.3,70.3 522.5,66.7 522.7,70.6 523.0,67.0 523.2,69.7 523.4,68.4 523.7,70.8 523.9,68.2 524.1,70.8 524.4,68.5 524.6,70.7 524.8,67.7 525.1,71.2 525.3,68.2 525.5,70.5 525.7,68.9 526.0,70.7 526.2,68.8 526.4,71.6 526.7,68.5 526.9,71.4 527.1,69.0 527.3,71.8 527.6,69.2 527.8,72.8 528.0,69.5 528.2,73.7 528.4,70.7 528.7,73.2 528.9,70.3 529.1,73.3 529.3,70.7 529.6,73.7 529.8,71.3 530.0,73.2 530.2,70.9 530.4,74.7 530.7,72.7 530.9,76.2 531.1,72.8 531.3,77.8 531.5,73.2 531.7,76.1 532.0,71.8 532.2,76.2 532.4,72.5 532.6,77.9 532.8,74.5 533.0,76.5 533.2,73.4 533.5,78.2 533.7,75.7 533.9,78.2 534.1,76.9 534.3,79.7 534.5,77.0 534.7,78.8 534.9,76.0 535.2,79.3 535.4,77.0 535.6,80.0 535.8,77.9 536.0,80.1 536.2,78.4 536.4,81.5 536.6,79.2 536.8,80.8 537.0,78.1 537.2,81.6 537.4,78.7 537.6,81.2 537.9,79.8 538.1,84.9 538.3,80.8 538.5,83.3 538.7,81.4 538.9,83.8 539.1,81.4 539.3,82.9 539.5,81.0 539.7,87.1 539.9,82.1 540.1,85.3 540.3,83.6 540.5,85.8 540.7,83.4 540.9,86.5 541.1,84.0 541.3,87.7 541.5,84.7 541.7,87.3 541.9,82.1 542.1,88.1 542.3,84.8 542.5,88.7 542.7,87.6 542.9,89.7 543.1,88.1 543.3,92.2 543.5,89.0 543.7,90.8 543.8,87.8 544.0,89.9 544.2,88.9 544.4,91.3 544.6,89.2 544.8,91.8 545.0,91.0 545.2,93.0 545.4,91.3 545.6,94.0 545.8,91.9 546.0,94.9 546.2,92.6 546.3,96.1 546.5,92.6 546.7,95.1 546.9,92.4 547.1,95.1 547.3,92.7 547.5,95.4 547.7,93.9 547.9,96.5 548.0,95.3 548.2,98.8 548.4,95.4 548.6,98.0 548.8,95.6 549.0,97.7 549.2,95.5 549.3,98.5 549.5,97.3 549.7,100.2 549.9,98.5 550.1,101.4 550.3,98.6 550.5,101.2 550.6,99.2 550.8,100.2 551.0,98.3 551.2,101.3 551.4,99.6 551.6,102.3 551.7,99.8 551.9,103.9 552.1,102.7 552.3,106.0 552.5,102.5 552.6,105.3 552.8,103.4 553.0,108.9 553.2,104.7 553.4,107.4 553.5,105.6 553.7,108.2 553.9,105.3 554.1,107.7 554.2,105.6 554.4,109.3 554.6,106.2 554.8,109.1 555.0,108.8 555.1,111.0 555.3,109.6 555.5,111.2 555.7,108.8 555.8,112.3 556.0,109.9 556.2,114.2 556.4,111.1 556.5,114.2 556.7,111.1 556.9,115.7 557.0,112.6 557.2,116.6 557.4,115.9 557.6,118.0 557.7,116.4 557.9,118.7 558.1,117.5 558.3,120.4 558.4,118.1 558.6,120.2 558.8,118.4 558.9,121.3 559.1,116.8 559.3,120.8 559.4,118.8 559.6,122.0 559.8,120.9"/>
<polyline stroke="#006ff9" points="104.1,411.5 123.2,421.0 139.6,422.0 153.9,420.0 166.6,415.0 178.0,408.0 188.3,420.0 197.8,420.7 206.5,416.8 214.7,388.0 222.2,377.7 229.3,360.6 236.0,339.2 242.3,338.7 248.3,322.6 254.0,276.3 259.4,262.6 264.5,238.6 269.4,215.0 274.2,196.0 278.7,165.6 283.0,216.5 287.2,212.0 291.3,231.0 295.2,226.0 299.0,214.4 302.6,196.0 306.2,195.2 309.6,179.7 312.9,186.4 316.1,185.8 319.3,179.3 322.3,190.4 325.3,197.4 328.2,172.9 331.1,171.1 333.8,176.3 336.5,176.9 339.1,178.7 341.7,170.3 344.2,167.0 346.7,158.5 349.1,160.8 351.4,150.7 353.8,151.3 356.0,147.7 358.2,138.9 360.4,140.0"/>
<polyline class="r" stroke="#006ff9" points="360.4,140.0 362.5,135.3 364.6,130.7 366.7,132.2 368.7,125.5 370.7,131.7 372.6,126.6 374.6,128.4 376.4,127.2 377.8,129.9 378.7,131.6 379.5,124.3 380.3,125.6 381.2,124.9 382.0,126.4 382.8,121.8 383.6,125.0 384.4,119.4 385.2,124.0 386.0,119.1 386.8,127.7 387.6,122.9 388.3,121.9 389.1,118.0 389.9,117.1 390.6,117.6 391.4,112.7 392.1,117.2 392.9,118.8 393.6,116.7 394.3,114.4 395.1,113.9 395.8,113.1 396.5,117.5 397.2,112.7 397.9,112.3 398.7,113.6 399.4,111.0 400.1,111.5 400.7,113.3 401.4,109.3 402.1,110.6 402.8,110.1 403.5,107.4 404.1,107.9 404.8,104.9 405.5,108.9 406.1,104.5 406.8,106.7 407.5,105.2 408.1,106.0 408.7,104.4 409.4,98.0 410.0,99.2 410.7,102.0 411.3,102.1 411.9,99.9 412.5,97.8 413.2,101.9 413.8,99.5 414.4,102.6 415.0,99.6 415.6,102.7 416.2,95.8 416.8,98.5 417.4,98.5 418.0,96.7 418.6,98.2 419.2,97.2 419.8,97.4 420.4,97.4 420.9,98.6 421.5,97.3 422.1,95.9 422.7,97.3 423.2,95.2 423.8,96.4"/>
<polyline class="r2" stroke="#006ff9" points="423.8,96.4 424.4,94.3 424.9,94.5 425.5,95.2 426.0,94.3 426.6,94.3 427.1,95.1 427.7,94.1 428.2,92.3 428.8,94.2 429.3,94.0 429.8,93.1 430.4,92.9 430.9,93.6 431.4,90.4 431.9,94.0 432.5,91.8 433.0,93.0 433.5,88.7 434.0,90.6 434.5,89.0 435.0,89.4 435.6,87.0 436.1,88.8 436.6,87.8 437.1,88.4 437.6,87.4 438.1,87.8 438.6,86.8 439.1,87.3 439.5,86.3 440.0,87.0 440.5,83.5 441.0,86.1 441.5,85.7 442.0,87.1 442.4,86.0 442.9,86.8 443.4,85.9 443.9,86.7 444.3,84.0 444.8,86.6 445.3,84.4 445.7,85.0 446.2,83.4 446.7,85.5 447.1,84.0 447.6,85.0 448.0,83.2 448.5,85.4 448.9,82.5 449.4,84.9 449.8,82.4 450.3,84.8 450.7,82.2 451.2,84.5 451.6,82.0 452.1,84.5 452.5,82.6 452.9,84.8 453.4,81.4 453.8,83.1 454.2,80.5 454.7,81.8 455.1,79.5 455.5,82.3 455.9,77.4 456.4,80.5 456.8,77.9 457.2,78.5 457.6,76.4 458.0,77.9 458.4,75.5 458.9,77.7 459.3,74.9 459.7,76.7 460.1,75.6 460.5,76.6 460.9,74.1 461.3,75.3 461.7,72.4"/>
<polyline class="r3" stroke="#006ff9" points="461.7,72.4 462.1,74.6 462.5,72.9 462.9,77.3 463.3,73.6 463.7,75.2 464.1,71.8 464.5,72.8 464.9,70.3 465.3,72.4 465.7,70.0 466.1,73.4 466.4,69.8 466.8,71.9 467.2,69.7 467.6,72.1 468.0,69.8 468.4,72.6 468.7,69.4 469.1,71.6 469.5,67.7 469.9,72.4 470.2,67.4 470.6,69.9 471.0,67.2 471.4,70.1 471.7,67.2 472.1,69.2 472.5,67.1 472.8,70.5 473.2,67.0 473.6,68.9 473.9,65.8 474.3,69.0 474.6,65.7 475.0,68.9 475.4,67.0 475.7,69.5 476.1,66.9 476.4,68.4 476.8,66.6 477.1,68.4 477.5,66.1 477.8,68.9 478.2,65.3 478.5,68.0 478.9,64.9 479.2,67.4 479.6,65.8 479.9,68.6 480.2,66.2 480.6,68.0 480.9,64.7 481.3,67.7 481.6,64.8 481.9,67.4 482.3,64.6 482.6,67.0 482.9,64.3 483.3,66.5 483.6,64.0 483.9,66.8 484.3,64.3 484.6,66.8 484.9,65.1 485.3,68.6 485.6,63.9 485.9,65.5 486.2,62.4 486.6,64.3 486.9,62.5 487.2,64.9 487.5,63.8 487.8,67.2 488.2,62.2 488.5,66.2 488.8,62.0 489.1,64.9 489.4,62.0 489.7,64.6 490.1,62.8 490.4,64.9 490.7,62.2 491.0,65.4 491.3,61.5 491.6,65.1 491.9,62.8 492.2,65.1 492.5,63.1 492.8,65.7 493.1,63.9 493.4,66.2 493.8,62.7 494.1,64.3 494.4,62.9 494.7,65.8 495.0,62.8 495.3,64.9 495.6,63.2 495.9,65.8 496.2,63.8 496.4,67.2 496.7,63.9 497.0,66.0 497.3,63.2 497.6,66.0 497.9,63.2 498.2,65.3 498.5,63.0 498.8,66.9 499.1,61.4 499.4,64.8 499.7,63.1 499.9,66.4 500.2,63.8 500.5,66.5 500.8,63.0 501.1,66.2 501.4,63.7 501.7,65.3 501.9,62.6 502.2,64.5 502.5,63.0 502.8,65.0 503.1,63.9 503.3,65.9 503.6,63.7 503.9,66.0 504.2,63.6 504.4,65.9 504.7,61.5 505.0,66.0 505.3,64.0 505.5,66.2 505.8,62.3 506.1,65.8 506.4,64.5 506.6,66.0 506.9,63.5 507.2,66.9 507.4,63.0 507.7,65.8 508.0,65.1 508.2,67.4 508.5,64.5 508.8,68.6 509.0,64.7 509.3,65.1 509.6,61.6 509.8,65.0 510.1,61.9 510.4,64.8 510.6,63.1 510.9,65.3 511.1,63.1 511.4,64.8 511.7,62.7 511.9,65.6 512.2,61.6 512.4,66.3 512.7,63.3 512.9,65.2 513.2,63.7 513.5,65.3 513.7,63.1 514.0,65.5 514.2,62.6 514.5,66.4 514.7,62.7 515.0,66.6 515.2,63.8 515.5,66.4 515.7,63.9 516.0,66.3 516.2,64.6 516.5,66.0 516.7,63.2 517.0,65.9 517.2,63.4 517.5,68.0 517.7,64.7 517.9,66.5 518.2,63.7 518.4,67.7 518.7,64.6 518.9,68.1 519.2,65.7 519.4,68.9 519.6,65.0 519.9,68.7 520.1,65.7 520.4,69.1 520.6,67.1 520.8,69.2 521.1,66.2 521.3,70.6 521.6,67.3 521.8,69.9 522.0,66.4 522.3,70.6 522.5,68.6 522.7,70.0 523.0,66.8 523.2,70.4 523.4,67.8 523.7,70.4 523.9,66.6 524.1,71.5 524.4,67.1 524.6,71.7 524.8,68.6 525.1,71.6 525.3,69.0 525.5,72.9 525.7,70.0 526.0,72.3 526.2,70.6 526.4,72.1 526.7,69.1 526.9,71.4 527.1,69.0 527.3,72.7 527.6,70.6 527.8,73.4 528.0,71.8 528.2,74.3 528.4,71.4 528.7,75.4 528.9,70.4 529.1,72.5 529.3,70.3 529.6,73.4 529.8,72.9 530.0,74.6 530.2,71.9 530.4,74.8 530.7,71.8 530.9,73.6 531.1,73.1 531.3,75.0 531.5,73.4 531.7,74.8 532.0,73.2 532.2,75.9 532.4,73.0 532.6,77.7 532.8,74.3 533.0,77.5 533.2,75.0 533.5,76.2 533.7,75.0 533.9,78.0 534.1,75.2 534.3,76.9 534.5,75.8 534.7,77.8 534.9,74.9 535.2,78.1 535.4,74.0 535.6,78.4 535.8,76.0 536.0,79.3 536.2,76.4 536.4,79.6 536.6,77.5 536.8,79.9 537.0,77.5 537.2,81.5 537.4,78.1 537.6,81.9 537.9,78.7 538.1,81.5 538.3,79.3 538.5,82.1 538.7,79.0 538.9,80.6 539.1,78.7 539.3,81.7 539.5,78.2 539.7,82.6 539.9,79.3 540.1,83.5 540.3,79.5 540.5,83.7 540.7,82.8 540.9,85.2 541.1,83.2 541.3,86.5 541.5,83.8 541.7,86.0 541.9,84.0 542.1,86.2 542.3,84.2 542.5,85.9 542.7,83.6 542.9,88.1 543.1,84.5 543.3,86.6 543.5,84.4 543.7,87.9 543.8,83.9 544.0,88.7 544.2,85.3 544.4,87.9 544.6,87.2 544.8,90.3 545.0,87.3 545.2,89.4 545.4,88.5 545.6,91.8 545.8,89.6 546.0,93.3 546.2,90.4 546.3,92.8 546.5,89.5 546.7,91.1 546.9,89.7 547.1,94.6 547.3,90.6 547.5,95.1 547.7,93.5 547.9,95.3 548.0,93.2 548.2,96.4 548.4,94.3 548.6,96.6 548.8,95.2 549.0,98.4 549.2,94.6 549.3,98.5 549.5,96.3 549.7,98.6 549.9,96.3 550.1,97.7 550.3,97.1 550.5,99.9 550.6,98.4 550.8,101.6 551.0,99.9 551.2,101.9 551.4,100.1 551.6,103.4 551.7,100.7 551.9,104.0 552.1,100.7 552.3,102.7 552.5,101.7 552.6,105.9 552.8,103.6 553.0,107.1 553.2,105.9 553.4,109.5 553.5,105.6 553.7,110.1 553.9,106.4 554.1,109.3 554.2,107.2 554.4,110.0 554.6,108.7 554.8,112.4 555.0,109.7 555.1,113.2 555.3,111.4 555.5,113.7 555.7,112.0 555.8,114.8 556.0,111.8 556.2,115.8 556.4,113.6 556.5,116.6 556.7,113.8 556.9,117.4 557.0,114.4 557.2,118.9 557.4,115.1 557.6,119.6 557.7,117.3 557.9,119.9 558.1,115.8 558.3,119.6 558.4,117.9 558.6,121.2 558.8,118.6 558.9,122.2 559.1,119.1 559.3,124.4 559.4,122.2 559.6,125.7 559.8,123.0"/>
<polyline stroke="#0000ff" points="104.1,422.3 123.2,422.0 139.6,404.6 153.9,422.0 166.6,421.0 178.0,421.5 188.3,393.2 197.8,419.0 206.5,389.0 214.7,387.2 222.2,389.9 229.3,371.9 236.0,354.4 242.3,334.1 248.3,313.1 254.0,271.3 259.4,246.4 264.5,229.9 269.4,206.5 274.2,178.1 278.7,204.0 283.0,230.1 287.2,232.1 291.3,210.3 295.2,248.8 299.0,226.0 302.6,202.0 306.2,189.5 309.6,184.5 312.9,178.7 316.1,178.7 319.3,179.6 322.3,182.4 325.3,178.7 328.2,169.6 331.1,173.9 333.8,167.9 336.5,165.1 339.1,172.1 341.7,176.1 344.2,175.4 346.7,161.0 349.1,168.0 351.4,163.4 353.8,157.6 356.0,153.6 358.2,143.0 360.4,138.6"/>
<polyline class="r" stroke="#0000ff" points="360.4,138.6 362.5,127.9 364.6,125.8 366.7,131.7 368.7,124.7 370.7,126.6 372.6,131.6 374.6,128.2 376.4,128.1 377.8,125.1 378.7,125.4 379.5,127.7 380.3,126.2 381.2,127.8 382.0,120.9 382.8,121.5 383.6,125.0 384.4,120.4 385.2,120.6 386.0,122.0 386.8,125.7 387.6,111.6 388.3,116.5 389.1,115.1 389.9,116.1 390.6,117.5 391.4,110.2 392.1,111.8 392.9,111.9 393.6,113.1 394.3,114.0 395.1,107.8 395.8,112.2 396.5,112.2 397.2,113.1 397.9,108.3 398.7,109.9 399.4,109.9 400.1,110.7 400.7,108.1 401.4,111.0 402.1,110.5 402.8,109.5 403.5,110.0 404.1,111.0 404.8,111.0 405.5,110.1 406.1,105.1 406.8,107.9 407.5,103.3 408.1,105.3 408.7,101.3 409.4,107.0 410.0,105.0 410.7,98.9 411.3,100.6 411.9,98.3 412.5,102.7 413.2,98.9 413.8,99.9 414.4,96.2 415.0,99.0 415.6,99.6 416.2,97.4 416.8,100.0 417.4,98.6 418.0,97.2 418.6,98.2 419.2,98.4 419.8,96.5 420.4,99.4 420.9,97.8 421.5,98.9 422.1,99.1 422.7,98.7 423.2,99.2 423.8,99.9"/>
<polyline class="r2" stroke="#0000ff" points="423.8,99.9 424.4,99.1 424.9,98.7 425.5,100.8 426.0,97.3 426.6,101.2 427.1,98.4 427.7,100.1 428.2,97.4 428.8,97.6 429.3,98.9 429.8,98.4 430.4,97.5 430.9,97.3 431.4,97.4 431.9,96.5 432.5,94.9 433.0,95.0 433.5,94.3 434.0,93.9 434.5,92.5 435.0,93.1 435.6,92.5 436.1,92.1 436.6,90.9 437.1,92.5 437.6,88.9 438.1,89.1 438.6,87.6 439.1,88.2 439.5,86.5 440.0,88.0 440.5,85.4 441.0,85.3 441.5,84.1 442.0,85.4 442.4,82.4 442.9,84.4 443.4,81.8 443.9,82.7 444.3,80.9 444.8,82.1 445.3,80.8 445.7,81.5 446.2,79.8 446.7,81.9 447.1,79.0 447.6,79.8 448.0,78.8 448.5,80.5 448.9,78.5 449.4,81.0 449.8,78.2 450.3,80.1 450.7,78.7 451.2,81.4 451.6,77.9 452.1,80.2 452.5,78.2 452.9,79.5 453.4,77.3 453.8,78.6 454.2,76.6 454.7,78.0 455.1,76.2 455.5,79.7 455.9,76.1 456.4,78.7 456.8,76.4 457.2,78.2 457.6,76.6 458.0,79.2 458.4,77.1 458.9,79.7 459.3,76.1 459.7,79.2 460.1,76.3 460.5,78.0 460.9,72.7 461.3,77.5 461.7,74.5"/>
<polyline class="r3" stroke="#0000ff" points="461.7,74.5 462.1,76.2 462.5,71.6 462.9,75.8 463.3,73.2 463.7,76.4 464.1,73.2 464.5,74.8 464.9,71.5 465.3,74.9 465.7,71.7 466.1,73.6 466.4,71.5 466.8,73.3 467.2,70.5 467.6,71.6 468.0,69.4 468.4,71.3 468.7,68.3 469.1,70.9 469.5,67.5 469.9,69.4 470.2,67.9 470.6,70.0 471.0,67.7 471.4,70.0 471.7,67.0 472.1,69.8 472.5,67.1 472.8,70.7 473.2,67.5 473.6,71.7 473.9,66.0 474.3,68.2 474.6,66.3 475.0,67.3 475.4,65.2 475.7,69.0 476.1,65.7 476.4,67.7 476.8,65.2 477.1,68.4 477.5,66.0 477.8,67.7 478.2,66.0 478.5,68.3 478.9,65.9 479.2,67.4 479.6,66.3 479.9,68.7 480.2,64.7 480.6,68.1 480.9,65.3 481.3,68.2 481.6,65.4 481.9,67.5 482.3,64.1 482.6,67.8 482.9,62.7 483.3,65.8 483.6,62.4 483.9,66.7 484.3,64.6 484.6,66.5 484.9,64.0 485.3,68.0 485.6,65.1 485.9,67.0 486.2,65.3 486.6,68.4 486.9,65.3 487.2,67.5 487.5,64.8 487.8,67.9 488.2,61.9 488.5,65.2 488.8,63.9 489.1,68.0 489.4,63.0 489.7,66.0 490.1,64.4 490.4,67.4 490.7,63.5 491.0,66.1 491.3,64.4 491.6,66.1 491.9,64.5 492.2,67.3 492.5,64.5 492.8,66.1 493.1,64.5 493.4,66.7 493.8,63.8 494.1,66.9 494.4,61.8 494.7,65.8 495.0,63.8 495.3,65.1 495.6,62.6 495.9,65.6 496.2,63.8 496.4,65.9 496.7,62.5 497.0,64.9 497.3,62.2 497.6,66.9 497.9,63.1 498.2,67.7 498.5,63.4 498.8,65.0 499.1,62.5 499.4,64.8 499.7,63.4 499.9,64.8 500.2,63.4 500.5,64.3 500.8,62.8 501.1,64.8 501.4,62.7 501.7,64.5 501.9,62.5 502.2,64.7 502.5,61.0 502.8,64.2 503.1,61.5 503.3,63.7 503.6,62.2 503.9,64.9 504.2,60.8 504.4,64.5 504.7,63.2 505.0,66.4 505.3,62.6 505.5,65.1 505.8,62.4 506.1,65.1 506.4,62.3 506.6,65.3 506.9,62.5 507.2,66.0 507.4,63.0 507.7,67.4 508.0,64.4 508.2,66.8 508.5,63.8 508.8,66.9 509.0,63.7 509.3,65.5 509.6,64.2 509.8,67.4 510.1,63.2 510.4,65.7 510.6,62.7 510.9,64.5 511.1,62.4 511.4,64.1 511.7,62.3 511.9,66.0 512.2,63.0 512.4,66.1 512.7,64.1 512.9,68.3 513.2,65.2 513.5,66.8 513.7,65.3 514.0,66.1 514.2,61.5 514.5,66.4 514.7,64.9 515.0,67.9 515.2,64.5 515.5,65.9 515.7,63.4 516.0,66.6 516.2,63.9 516.5,66.4 516.7,64.5 517.0,66.5 517.2,63.9 517.5,67.4 517.7,65.9 517.9,67.7 518.2,65.1 518.4,68.2 518.7,65.5 518.9,67.6 519.2,64.1 519.4,66.2 519.6,64.0 519.9,66.7 520.1,65.6 520.4,68.6 520.6,65.6 520.8,67.7 521.1,64.9 521.3,68.0 521.6,64.7 521.8,66.9 522.0,65.6 522.3,68.7 522.5,66.6 522.7,71.4 523.0,66.2 523.2,68.9 523.4,65.4 523.7,70.4 523.9,66.5 524.1,69.1 524.4,67.9 524.6,70.2 524.8,68.3 525.1,70.0 525.3,67.0 525.5,70.4 525.7,67.4 526.0,69.7 526.2,66.8 526.4,69.7 526.7,67.8 526.9,70.1 527.1,67.0 527.3,72.2 527.6,68.2 527.8,70.3 528.0,67.3 528.2,70.7 528.4,68.6 528.7,71.0 528.9,68.1 529.1,71.8 529.3,69.2 529.6,73.5 529.8,70.7 530.0,72.5 530.2,70.6 530.4,72.6 530.7,71.3 530.9,73.3 531.1,69.9 531.3,74.0 531.5,70.9 531.7,74.9 532.0,72.7 532.2,75.9 532.4,73.0 532.6,75.3 532.8,73.5 533.0,76.0 533.2,72.0 533.5,75.3 533.7,73.5 533.9,76.3 534.1,74.7 534.3,78.0 534.5,74.9 534.7,77.5 534.9,75.0 535.2,76.4 535.4,74.2 535.6,76.6 535.8,75.3 536.0,78.3 536.2,76.7 536.4,79.9 536.6,78.6 536.8,81.0 537.0,77.3 537.2,81.6 537.4,79.9 537.6,82.8 537.9,79.5 538.1,81.6 538.3,80.4 538.5,81.6 538.7,79.6 538.9,82.0 539.1,81.1 539.3,83.2 539.5,82.0 539.7,84.8 539.9,82.6 540.1,83.9 540.3,82.8 540.5,85.5 540.7,84.3 540.9,86.7 541.1,84.1 541.3,85.6 541.5,84.3 541.7,86.3 541.9,84.5 542.1,86.2 542.3,85.2 542.5,88.0 542.7,84.6 542.9,87.9 543.1,85.9 543.3,89.9 543.5,87.4 543.7,90.4 543.8,89.1 544.0,91.3 544.2,89.3 544.4,90.7 544.6,88.8 544.8,92.7 545.0,90.4 545.2,93.9 545.4,91.3 545.6,95.8 545.8,89.8 546.0,93.8 546.2,90.3 546.3,93.4 546.5,91.6 546.7,95.1 546.9,91.7 547.1,95.0 547.3,94.2 547.5,96.2 547.7,94.2 547.9,96.8 548.0,93.5 548.2,97.7 548.4,94.6 548.6,97.8 548.8,95.5 549.0,97.7 549.2,96.5 549.3,99.9 549.5,98.2 549.7,101.2 549.9,99.1 550.1,100.9 550.3,99.3 550.5,102.9 550.6,99.4 550.8,102.0 551.0,101.6 551.2,104.4 551.4,100.5 551.6,103.6 551.7,102.3 551.9,103.8 552.1,102.6 552.3,104.7 552.5,102.8 552.6,105.3 552.8,103.1 553.0,108.0 553.2,105.9 553.4,108.3 553.5,107.6 553.7,110.8 553.9,108.2 554.1,110.4 554.2,108.1 554.4,111.5 554.6,107.7 554.8,112.5 555.0,110.2 555.1,112.9 555.3,110.6 555.5,112.7 555.7,111.5 555.8,113.8 556.0,113.1 556.2,114.9 556.4,113.7 556.5,116.0 556.7,115.4 556.9,117.3 557.0,115.6 557.2,118.9 557.4,116.8 557.6,119.0 557.7,115.7 557.9,120.1 558.1,117.8 558.3,120.8 558.4,118.3 558.6,122.4 558.8,118.6 558.9,122.2 559.1,119.0 559.3,122.1 559.4,121.5 559.6,126.5 559.8,122.8"/>
</g>
</g>
<rect x="117.50" y="51.20" width="442.00" height="371.10" fill="none" stroke="#000" stroke-width="2.5"/>
<rect x="570.40" y="51.10" width="22.20" height="371.30" fill="url(#cb)" stroke="#000" stroke-width="1.2"/>
<path d="M570.40 369.36h3.4M592.60 369.36h-3.4M570.40 316.31h3.4M592.60 316.31h-3.4M570.40 263.27h3.4M592.60 263.27h-3.4M570.40 210.23h3.4M592.60 210.23h-3.4M570.40 157.19h3.4M592.60 157.19h-3.4M570.40 104.14h3.4M592.60 104.14h-3.4" fill="none" stroke="#000" stroke-width="1.1"/>
<g class="lbl">
<text x="100.9" y="432.20" font-size="28.6" text-anchor="end">0</text>
<text x="100.9" y="357.98" font-size="28.6" text-anchor="end">0.1</text>
<text x="100.9" y="283.76" font-size="28.6" text-anchor="end">0.2</text>
<text x="100.9" y="209.54" font-size="28.6" text-anchor="end">0.3</text>
<text x="100.9" y="135.32" font-size="28.6" text-anchor="end">0.4</text>
<text x="100.9" y="61.10" font-size="28.6" text-anchor="end">0.5</text>
<text x="269.80" y="462.70" font-size="28.6" text-anchor="start">10<tspan font-size="22.6" dy="-14.8" dx="0.8">−1</tspan></text>
<text x="537.20" y="462.70" font-size="28.6" text-anchor="start">10<tspan font-size="22.6" dy="-14.8" dx="0.8">0</tspan></text>
<text x="608.30" y="434.80" font-size="28.6" text-anchor="start">10<tspan font-size="22.6" dy="-14.8" dx="0.8">−3</tspan></text>
<text x="608.30" y="381.76" font-size="28.6" text-anchor="start">10<tspan font-size="22.6" dy="-14.8" dx="0.8">−2</tspan></text>
<text x="608.30" y="328.71" font-size="28.6" text-anchor="start">10<tspan font-size="22.6" dy="-14.8" dx="0.8">−1</tspan></text>
<text x="608.30" y="275.67" font-size="28.6" text-anchor="start">10<tspan font-size="22.6" dy="-14.8" dx="0.8">0</tspan></text>
<text x="608.30" y="222.63" font-size="28.6" text-anchor="start">10<tspan font-size="22.6" dy="-14.8" dx="0.8">1</tspan></text>
<text x="608.30" y="169.59" font-size="28.6" text-anchor="start">10<tspan font-size="22.6" dy="-14.8" dx="0.8">2</tspan></text>
<text x="608.30" y="116.54" font-size="28.6" text-anchor="start">10<tspan font-size="22.6" dy="-14.8" dx="0.8">3</tspan></text>
<text x="608.30" y="63.50" font-size="28.6" text-anchor="start">10<tspan font-size="22.6" dy="-14.8" dx="0.8">4</tspan></text>
<text x="117.6" y="27.00" font-size="36.0">(a)</text>
<g class="ser">
<text transform="translate(44.90 257.34) rotate(-90) scale(0.5169 0.4427)" font-size="100" font-style="italic" stroke="#fff" stroke-width="1.25" stroke-linejoin="round">P</text>
<text transform="translate(24.10 227.94) rotate(-90) scale(0.2791 0.3551)" font-size="100" font-style="italic" stroke="#fff" stroke-width="0.95" stroke-linejoin="round">k</text>
<text transform="translate(286.92 503.39) scale(0.4240 0.4063)" font-size="100" font-style="italic" stroke="#fff" stroke-width="1.20" stroke-linejoin="round">ω</text>
<text transform="translate(317.10 512.97) scale(0.6218 0.6331)" font-size="100" stroke="#fff" stroke-width="1.28" stroke-linejoin="round">/</text>
<text transform="translate(334.42 503.39) scale(0.4240 0.4063)" font-size="100" font-style="italic" stroke="#fff" stroke-width="1.20" stroke-linejoin="round">ω</text>
<text transform="translate(363.05 515.10) scale(0.3508 0.3130)" font-size="100">D</text>
<text transform="translate(169.89 95.79) scale(0.3168 0.3095)" font-size="100" font-style="italic" stroke="#fff" stroke-width="1.12" stroke-linejoin="round">ω</text>
<text transform="translate(191.57 105.30) scale(0.2762 0.2580)" font-size="100">BP</text>
<text transform="translate(228.90 103.32) scale(0.4800 0.4842)" font-size="100" stroke="#fff" stroke-width="1.24" stroke-linejoin="round">/</text>
<text transform="translate(242.66 95.79) scale(0.3248 0.3074)" font-size="100" font-style="italic" stroke="#fff" stroke-width="1.11" stroke-linejoin="round">ω</text>
<text transform="translate(264.65 105.30) scale(0.2508 0.2565)" font-size="100">D</text>
</g>
</g>
</g>
<g transform="translate(0 541.5)">
<path d="M117.50 348.08h8.6M559.50 348.08h-8.6M117.50 273.86h8.6M559.50 273.86h-8.6M117.50 199.64h8.6M559.50 199.64h-8.6M117.50 125.42h8.6M559.50 125.42h-8.6M163.70 422.30v-4.4M163.70 51.20v4.4M196.18 422.30v-4.4M196.18 51.20v4.4M221.36 422.30v-4.4M221.36 51.20v4.4M241.94 422.30v-4.4M241.94 51.20v4.4M259.34 422.30v-4.4M259.34 51.20v4.4M274.41 422.30v-4.4M274.41 51.20v4.4M287.71 422.30v-4.4M287.71 51.20v4.4M299.60 422.30v-8.6M299.60 51.20v8.6M377.84 422.30v-4.4M377.84 51.20v4.4M423.60 422.30v-4.4M423.60 51.20v4.4M456.08 422.30v-4.4M456.08 51.20v4.4M481.26 422.30v-4.4M481.26 51.20v4.4M501.84 422.30v-4.4M501.84 51.20v4.4M519.24 422.30v-4.4M519.24 51.20v4.4M534.31 422.30v-4.4M534.31 51.20v4.4M547.61 422.30v-4.4M547.61 51.20v4.4" fill="none" stroke="#000" stroke-width="1.1"/>
<path d="M287.41 423.50V51.20" fill="none" stroke="#000" stroke-width="2.6" stroke-dasharray="26.6 13.4"/>
<g clip-path="url(#clip)">
<g class="crv pb">
<polyline stroke="#ff0000" points="108.7,420.5 127.9,418.0 144.3,415.1 158.7,421.5 171.4,413.0 182.8,412.9 193.2,415.3 202.7,422.2 211.4,421.9 219.6,420.2 227.1,396.6 234.3,394.9 240.9,384.5 247.3,386.1 253.2,349.0 258.9,320.1 264.3,284.1 269.5,207.8 274.4,195.7 279.1,227.1 283.7,253.9 288.0,260.0 292.2,253.1 296.3,250.1 300.2,231.4 304.0,245.3 307.6,215.1 311.1,206.3 314.6,207.9 317.9,209.8 321.1,213.8 324.3,207.7 327.3,202.4 330.3,219.0 333.2,205.6 336.1,204.4 338.8,206.0 341.5,196.8 344.1,193.2 346.7,189.4 349.2,180.4 351.7,182.2 354.1,175.3 356.5,169.7 358.8,168.7 361.0,164.9"/>
<polyline class="r" stroke="#ff0000" points="361.0,164.9 363.2,159.9 365.4,156.8 367.6,157.5 369.7,149.9 371.7,153.8 373.7,145.9 375.7,148.0 377.7,142.3 377.8,145.0 378.7,144.0 379.5,144.2 380.3,143.6 381.2,140.6 382.0,144.5 382.8,145.4 383.6,139.0 384.4,141.6 385.2,143.0 386.0,143.5 386.8,137.5 387.6,144.3 388.3,140.7 389.1,139.9 389.9,141.4 390.6,140.9 391.4,139.5 392.1,139.3 392.9,136.0 393.6,133.6 394.3,141.5 395.1,139.1 395.8,137.4 396.5,139.6 397.2,141.4 397.9,135.3 398.7,139.9 399.4,137.1 400.1,139.2 400.7,133.0 401.4,140.8 402.1,137.2 402.8,135.3 403.5,135.8 404.1,136.7 404.8,132.1 405.5,136.6 406.1,131.0 406.8,136.3 407.5,137.3 408.1,131.7 408.7,128.8 409.4,130.9 410.0,133.5 410.7,131.5 411.3,129.3 411.9,129.0 412.5,125.1 413.2,129.9 413.8,127.7 414.4,127.5 415.0,128.9 415.6,127.1 416.2,125.3 416.8,125.3 417.4,123.2 418.0,123.2 418.6,125.2 419.2,122.3 419.8,123.2 420.4,123.0 420.9,119.8 421.5,120.4 422.1,120.0 422.7,121.7 423.2,120.7 423.8,118.1"/>
<polyline class="r2" stroke="#ff0000" points="423.8,118.1 424.4,119.0 424.9,116.3 425.5,116.4 426.0,117.2 426.6,116.0 427.1,115.1 427.7,115.1 428.2,115.7 428.8,116.0 429.3,113.7 429.8,114.1 430.4,114.1 430.9,112.5 431.4,112.3 431.9,112.5 432.5,111.5 433.0,112.7 433.5,111.1 434.0,111.7 434.5,108.9 435.0,110.7 435.6,109.6 436.1,108.7 436.6,108.8 437.1,108.1 437.6,107.7 438.1,107.2 438.6,106.8 439.1,107.5 439.5,106.2 440.0,106.1 440.5,104.7 441.0,106.0 441.5,105.8 442.0,105.8 442.4,104.8 442.9,105.2 443.4,104.2 443.9,104.4 444.3,103.5 444.8,104.0 445.3,103.0 445.7,103.5 446.2,102.8 446.7,103.1 447.1,102.3 447.6,102.8 448.0,102.4 448.5,102.8 448.9,102.2 449.4,102.8 449.8,101.8 450.3,102.5 450.7,101.5 451.2,102.2 451.6,100.9 452.1,102.2 452.5,101.0 452.9,101.9 453.4,99.7 453.8,101.1 454.2,99.2 454.7,99.3 455.1,98.5 455.5,99.9 455.9,99.2 456.4,99.7 456.8,99.0 457.2,99.7 457.6,98.3 458.0,98.9 458.4,97.0 458.9,98.4 459.3,97.0 459.7,97.8 460.1,96.9 460.5,97.4 460.9,96.1 461.3,97.5 461.7,95.9"/>
<polyline class="r3" stroke="#ff0000" points="461.7,95.9 462.1,97.6 462.5,95.5 462.9,97.3 463.3,95.0 463.7,95.6 464.1,94.8 464.5,95.6 464.9,94.2 465.3,95.0 465.7,93.4 466.1,94.3 466.4,93.2 466.8,95.0 467.2,93.1 467.6,94.7 468.0,92.4 468.4,94.0 468.7,92.6 469.1,94.0 469.5,91.5 469.9,92.6 470.2,91.4 470.6,92.5 471.0,91.4 471.4,93.0 471.7,91.5 472.1,92.2 472.5,91.2 472.8,91.5 473.2,90.3 473.6,91.6 473.9,90.5 474.3,91.6 474.6,89.8 475.0,91.1 475.4,89.3 475.7,90.1 476.1,89.1 476.4,90.1 476.8,89.0 477.1,90.9 477.5,89.6 477.8,90.9 478.2,89.5 478.5,90.4 478.9,89.0 479.2,89.3 479.6,87.6 479.9,88.5 480.2,88.1 480.6,88.5 480.9,88.0 481.3,88.8 481.6,88.2 481.9,88.8 482.3,87.5 482.6,88.5 482.9,87.4 483.3,88.2 483.6,85.7 483.9,87.5 484.3,86.0 484.6,86.7 484.9,86.3 485.3,87.6 485.6,86.4 485.9,88.3 486.2,86.4 486.6,87.6 486.9,85.9 487.2,86.7 487.5,85.6 487.8,86.8 488.2,84.9 488.5,84.9 488.8,84.1 489.1,84.6 489.4,82.9 489.7,85.1 490.1,84.0 490.4,85.5 490.7,84.0 491.0,85.4 491.3,83.1 491.6,84.4 491.9,83.5 492.2,84.6 492.5,82.6 492.8,84.6 493.1,83.6 493.4,85.4 493.8,84.2 494.1,85.9 494.4,83.5 494.7,85.6 495.0,84.0 495.3,84.9 495.6,83.6 495.9,84.7 496.2,83.1 496.4,83.9 496.7,82.7 497.0,84.3 497.3,82.7 497.6,83.6 497.9,82.7 498.2,85.1 498.5,83.5 498.8,84.5 499.1,83.6 499.4,84.4 499.7,83.9 499.9,84.9 500.2,84.0 500.5,84.5 500.8,83.6 501.1,84.3 501.4,82.5 501.7,84.8 501.9,82.8 502.2,84.8 502.5,82.6 502.8,84.6 503.1,82.6 503.3,84.0 503.6,83.2 503.9,84.4 504.2,83.5 504.4,85.4 504.7,83.5 505.0,84.8 505.3,83.8 505.5,84.9 505.8,82.8 506.1,84.9 506.4,83.1 506.6,84.8 506.9,83.4 507.2,85.4 507.4,84.2 507.7,85.5 508.0,84.4 508.2,85.1 508.5,83.9 508.8,85.3 509.0,83.8 509.3,85.5 509.6,83.5 509.8,85.8 510.1,84.1 510.4,85.0 510.6,83.9 510.9,84.6 511.1,84.0 511.4,86.1 511.7,83.5 511.9,85.3 512.2,84.7 512.4,85.8 512.7,84.4 512.9,85.9 513.2,84.6 513.5,85.3 513.7,84.5 514.0,86.0 514.2,85.2 514.5,86.2 514.7,84.7 515.0,86.1 515.2,85.0 515.5,86.6 515.7,84.9 516.0,87.0 516.2,85.9 516.5,86.8 516.7,85.6 517.0,87.6 517.2,85.5 517.5,86.4 517.7,85.6 517.9,86.1 518.2,85.2 518.4,86.6 518.7,85.9 518.9,87.5 519.2,86.5 519.4,87.3 519.6,85.4 519.9,86.5 520.1,85.4 520.4,86.0 520.6,85.1 520.8,86.7 521.1,86.2 521.3,87.4 521.6,86.7 521.8,88.1 522.0,87.0 522.3,87.9 522.5,86.0 522.7,87.7 523.0,86.6 523.2,87.5 523.4,86.8 523.7,89.0 523.9,87.6 524.1,88.7 524.4,88.3 524.6,89.1 524.8,87.7 525.1,89.2 525.3,88.5 525.5,89.5 525.7,87.8 526.0,89.5 526.2,88.2 526.4,88.9 526.7,87.4 526.9,89.6 527.1,88.8 527.3,89.9 527.6,88.9 527.8,90.6 528.0,88.8 528.2,89.8 528.4,88.4 528.7,90.5 528.9,89.4 529.1,90.6 529.3,90.0 529.6,91.2 529.8,90.5 530.0,92.0 530.2,90.7 530.4,92.1 530.7,91.0 530.9,91.8 531.1,89.7 531.3,92.0 531.5,90.3 531.7,92.7 532.0,91.5 532.2,92.9 532.4,91.9 532.6,92.7 532.8,91.5 533.0,93.1 533.2,92.6 533.5,94.5 533.7,93.0 533.9,93.9 534.1,92.5 534.3,93.5 534.5,92.6 534.7,94.5 534.9,93.0 535.2,94.7 535.4,94.2 535.6,95.4 535.8,94.0 536.0,95.7 536.2,95.2 536.4,96.5 536.6,95.7 536.8,96.8 537.0,95.0 537.2,96.4 537.4,94.5 537.6,96.2 537.9,95.0 538.1,96.5 538.3,94.9 538.5,96.5 538.7,95.4 538.9,97.2 539.1,96.4 539.3,97.7 539.5,96.9 539.7,99.0 539.9,97.9 540.1,100.0 540.3,98.7 540.5,100.3 540.7,99.0 540.9,99.7 541.1,98.8 541.3,100.9 541.5,98.4 541.7,99.6 541.9,99.2 542.1,100.3 542.3,99.6 542.5,101.5 542.7,100.5 542.9,102.0 543.1,101.3 543.3,103.0 543.5,101.8 543.7,102.5 543.8,102.0 544.0,103.5 544.2,101.7 544.4,103.8 544.6,102.6 544.8,103.7 545.0,103.5 545.2,105.7 545.4,104.9 545.6,106.3 545.8,105.5 546.0,106.5 546.2,105.1 546.3,106.1 546.5,104.3 546.7,106.4 546.9,105.6 547.1,107.5 547.3,106.7 547.5,108.0 547.7,106.7 547.9,108.3 548.0,107.1 548.2,109.4 548.4,107.6 548.6,109.5 548.8,108.8 549.0,109.9 549.2,109.3 549.3,111.2 549.5,110.6 549.7,111.9 549.9,110.6 550.1,112.6 550.3,111.6 550.5,113.0 550.6,111.9 550.8,114.2 551.0,113.7 551.2,115.1 551.4,113.1 551.6,115.0 551.7,114.2 551.9,115.3 552.1,114.5 552.3,116.7 552.5,116.3 552.6,118.2 552.8,116.9 553.0,118.5 553.2,117.6 553.4,119.0 553.5,118.2 553.7,119.6 553.9,119.5 554.1,121.3 554.2,121.0 554.4,122.7 554.6,120.7 554.8,122.9 555.0,122.3 555.1,123.8 555.3,123.6 555.5,125.1 555.7,124.4 555.8,126.7 556.0,125.6 556.2,126.7 556.4,126.2 556.5,127.7 556.7,127.0 556.9,128.4 557.0,128.1 557.2,129.4 557.4,127.8 557.6,129.3 557.7,129.0 557.9,130.1 558.1,130.6 558.3,132.4 558.4,131.8 558.6,133.2 558.8,132.4 558.9,133.6 559.1,132.3 559.3,134.2 559.4,132.4 559.6,134.6 559.8,133.1"/>
<polyline stroke="#ff391d" points="108.7,418.5 127.9,422.3 144.3,422.3 158.7,422.3 171.4,420.8 182.8,418.1 193.2,415.0 202.7,416.7 211.4,421.1 219.6,396.7 227.1,397.4 234.3,384.3 240.9,393.3 247.3,381.7 253.2,356.4 258.9,345.1 264.3,274.7 269.5,205.7 274.4,163.1 279.1,225.0 283.7,275.0 288.0,311.0 292.2,268.0 296.3,270.0 300.2,271.3 304.0,243.2 307.6,228.0 311.1,222.3 314.6,205.4 317.9,196.5 321.1,216.8 324.3,211.0 327.3,208.1 330.3,207.4 333.2,205.8 336.1,203.5 338.8,201.3 341.5,195.2 344.1,191.6 346.7,182.7 349.2,173.2 351.7,172.2 354.1,168.7 356.5,165.0 358.8,162.6 361.0,166.5"/>
<polyline class="r" stroke="#ff391d" points="361.0,166.5 363.2,162.7 365.4,155.4 367.6,155.1 369.7,152.0 371.7,154.9 373.7,147.5 375.7,146.1 377.7,146.6 377.8,147.0 378.7,144.4 379.5,142.6 380.3,143.4 381.2,150.1 382.0,143.7 382.8,143.4 383.6,136.4 384.4,143.4 385.2,142.4 386.0,147.1 386.8,142.0 387.6,142.3 388.3,144.9 389.1,144.2 389.9,142.9 390.6,142.3 391.4,139.0 392.1,138.5 392.9,138.9 393.6,140.7 394.3,142.5 395.1,140.7 395.8,138.8 396.5,141.1 397.2,138.5 397.9,135.8 398.7,137.4 399.4,135.8 400.1,134.3 400.7,132.6 401.4,131.7 402.1,134.4 402.8,130.3 403.5,133.2 404.1,132.1 404.8,130.1 405.5,130.1 406.1,128.3 406.8,128.4 407.5,129.3 408.1,129.3 408.7,128.1 409.4,127.6 410.0,127.5 410.7,127.4 411.3,129.7 411.9,130.8 412.5,126.9 413.2,125.8 413.8,127.0 414.4,126.2 415.0,122.8 415.6,126.3 416.2,122.8 416.8,125.3 417.4,125.5 418.0,121.6 418.6,121.9 419.2,123.8 419.8,122.3 420.4,124.4 420.9,124.3 421.5,120.2 422.1,122.2 422.7,120.7 423.2,120.9 423.8,122.1"/>
<polyline class="r2" stroke="#ff391d" points="423.8,122.1 424.4,122.0 424.9,119.8 425.5,119.2 426.0,116.9 426.6,118.6 427.1,118.5 427.7,118.6 428.2,118.3 428.8,115.8 429.3,116.2 429.8,116.0 430.4,115.6 430.9,115.0 431.4,115.4 431.9,114.5 432.5,114.4 433.0,114.5 433.5,113.4 434.0,114.1 434.5,114.1 435.0,112.1 435.6,112.1 436.1,112.5 436.6,111.7 437.1,111.4 437.6,110.1 438.1,110.8 438.6,110.7 439.1,111.8 439.5,108.4 440.0,110.7 440.5,108.7 441.0,109.3 441.5,108.7 442.0,109.6 442.4,108.0 442.9,109.0 443.4,107.4 443.9,107.5 444.3,105.4 444.8,107.2 445.3,105.3 445.7,106.2 446.2,105.4 446.7,106.1 447.1,105.0 447.6,105.3 448.0,104.2 448.5,104.4 448.9,103.4 449.4,104.1 449.8,102.2 450.3,103.5 450.7,102.1 451.2,103.0 451.6,101.2 452.1,102.5 452.5,101.5 452.9,102.1 453.4,100.3 453.8,101.2 454.2,99.6 454.7,100.8 455.1,99.6 455.5,100.8 455.9,99.4 456.4,100.0 456.8,99.0 457.2,99.2 457.6,97.6 458.0,98.7 458.4,97.6 458.9,98.4 459.3,97.1 459.7,97.8 460.1,96.7 460.5,97.7 460.9,96.6 461.3,97.5 461.7,95.9"/>
<polyline class="r3" stroke="#ff391d" points="461.7,95.9 462.1,97.6 462.5,94.8 462.9,96.1 463.3,94.9 463.7,96.3 464.1,95.5 464.5,96.5 464.9,94.4 465.3,95.5 465.7,94.0 466.1,94.6 466.4,93.9 466.8,95.0 467.2,93.4 467.6,94.6 468.0,93.8 468.4,93.9 468.7,92.3 469.1,92.3 469.5,90.7 469.9,91.5 470.2,90.5 470.6,91.8 471.0,90.5 471.4,92.4 471.7,90.5 472.1,92.2 472.5,90.8 472.8,92.1 473.2,90.8 473.6,92.2 473.9,90.7 474.3,91.4 474.6,89.6 475.0,91.0 475.4,89.4 475.7,90.9 476.1,89.6 476.4,90.2 476.8,89.5 477.1,90.5 477.5,89.8 477.8,90.3 478.2,89.5 478.5,89.9 478.9,88.5 479.2,88.8 479.6,87.7 479.9,89.1 480.2,87.9 480.6,89.1 480.9,88.0 481.3,89.5 481.6,87.7 481.9,88.7 482.3,87.6 482.6,89.2 482.9,86.7 483.3,88.6 483.6,87.2 483.9,87.4 484.3,86.4 484.6,87.7 484.9,86.2 485.3,88.4 485.6,87.7 485.9,89.8 486.2,87.5 486.6,88.4 486.9,87.2 487.2,87.8 487.5,86.0 487.8,87.6 488.2,86.8 488.5,87.2 488.8,86.0 489.1,87.4 489.4,86.1 489.7,87.5 490.1,85.5 490.4,86.7 490.7,85.7 491.0,86.7 491.3,85.6 491.6,87.1 491.9,85.9 492.2,86.9 492.5,85.4 492.8,87.5 493.1,85.8 493.4,86.5 493.8,85.9 494.1,87.5 494.4,86.2 494.7,87.5 495.0,85.6 495.3,86.6 495.6,85.4 495.9,86.8 496.2,85.5 496.4,86.4 496.7,85.1 497.0,86.1 497.3,85.2 497.6,85.9 497.9,84.7 498.2,86.3 498.5,84.9 498.8,86.4 499.1,84.8 499.4,86.9 499.7,85.9 499.9,86.7 500.2,85.0 500.5,86.7 500.8,85.1 501.1,85.8 501.4,84.2 501.7,85.6 501.9,84.7 502.2,86.5 502.5,84.8 502.8,85.9 503.1,85.0 503.3,86.2 503.6,84.4 503.9,85.9 504.2,84.5 504.4,85.5 504.7,84.7 505.0,86.0 505.3,83.9 505.5,85.5 505.8,84.3 506.1,85.5 506.4,84.5 506.6,85.1 506.9,84.2 507.2,85.3 507.4,84.8 507.7,85.3 508.0,84.3 508.2,85.8 508.5,84.4 508.8,85.7 509.0,84.9 509.3,86.3 509.6,84.7 509.8,87.0 510.1,85.4 510.4,86.4 510.6,85.9 510.9,86.4 511.1,84.8 511.4,87.7 511.7,86.2 511.9,86.9 512.2,85.9 512.4,86.5 512.7,85.0 512.9,85.7 513.2,84.4 513.5,86.0 513.7,84.6 514.0,86.2 514.2,85.4 514.5,86.9 514.7,85.0 515.0,85.8 515.2,84.7 515.5,85.7 515.7,84.8 516.0,86.8 516.2,85.3 516.5,87.0 516.7,85.9 517.0,87.0 517.2,86.5 517.5,87.1 517.7,86.0 517.9,86.7 518.2,86.4 518.4,87.3 518.7,86.2 518.9,87.8 519.2,86.6 519.4,88.0 519.6,85.5 519.9,87.7 520.1,86.8 520.4,88.2 520.6,86.1 520.8,87.4 521.1,86.2 521.3,87.9 521.6,86.7 521.8,87.4 522.0,87.1 522.3,88.2 522.5,86.6 522.7,88.1 523.0,87.4 523.2,88.2 523.4,87.3 523.7,88.2 523.9,86.8 524.1,88.0 524.4,86.8 524.6,88.7 524.8,88.5 525.1,89.3 525.3,88.7 525.5,90.0 525.7,88.7 526.0,90.2 526.2,89.5 526.4,91.4 526.7,89.9 526.9,91.3 527.1,90.4 527.3,91.6 527.6,90.2 527.8,91.5 528.0,90.7 528.2,92.0 528.4,90.7 528.7,92.0 528.9,90.5 529.1,91.0 529.3,90.0 529.6,91.7 529.8,90.8 530.0,92.3 530.2,90.9 530.4,92.2 530.7,91.3 530.9,92.5 531.1,91.4 531.3,92.6 531.5,91.4 531.7,92.5 532.0,91.5 532.2,92.8 532.4,92.5 532.6,93.2 532.8,93.2 533.0,94.0 533.2,92.5 533.5,93.6 533.7,92.0 533.9,93.4 534.1,93.1 534.3,94.2 534.5,93.5 534.7,95.6 534.9,93.9 535.2,95.6 535.4,94.4 535.6,95.2 535.8,94.4 536.0,95.0 536.2,94.3 536.4,94.8 536.6,93.1 536.8,95.3 537.0,93.9 537.2,96.4 537.4,94.7 537.6,96.5 537.9,95.9 538.1,97.0 538.3,94.7 538.5,97.2 538.7,95.0 538.9,97.5 539.1,96.0 539.3,97.2 539.5,96.9 539.7,97.8 539.9,97.7 540.1,99.0 540.3,97.9 540.5,99.7 540.7,98.5 540.9,99.7 541.1,99.1 541.3,100.5 541.5,99.7 541.7,101.1 541.9,99.9 542.1,102.3 542.3,101.1 542.5,103.0 542.7,101.8 542.9,102.9 543.1,102.0 543.3,102.5 543.5,101.6 543.7,102.8 543.8,102.0 544.0,103.6 544.2,103.4 544.4,104.6 544.6,103.6 544.8,106.1 545.0,104.9 545.2,106.0 545.4,105.1 545.6,106.4 545.8,104.9 546.0,105.8 546.2,105.8 546.3,107.3 546.5,106.6 546.7,108.4 546.9,107.7 547.1,109.0 547.3,107.7 547.5,109.5 547.7,109.0 547.9,109.7 548.0,108.9 548.2,110.4 548.4,109.9 548.6,111.5 548.8,111.5 549.0,112.6 549.2,112.4 549.3,113.7 549.5,112.4 549.7,113.6 549.9,112.5 550.1,113.1 550.3,111.9 550.5,113.4 550.6,112.9 550.8,114.4 551.0,113.6 551.2,115.0 551.4,114.8 551.6,115.8 551.7,116.2 551.9,117.9 552.1,117.3 552.3,119.4 552.5,118.2 552.6,119.8 552.8,119.0 553.0,119.5 553.2,118.6 553.4,120.7 553.5,119.5 553.7,121.4 553.9,120.5 554.1,122.5 554.2,122.2 554.4,124.4 554.6,123.1 554.8,125.0 555.0,124.0 555.1,125.3 555.3,124.4 555.5,126.5 555.7,125.5 555.8,127.2 556.0,126.1 556.2,127.7 556.4,127.0 556.5,128.5 556.7,127.9 556.9,129.4 557.0,129.1 557.2,131.0 557.4,130.6 557.6,132.1 557.7,131.2 557.9,131.9 558.1,131.1 558.3,131.9 558.4,131.6 558.6,133.1 558.8,132.3 558.9,133.5 559.1,133.6 559.3,134.8 559.4,134.6 559.6,136.0 559.8,135.3"/>
<polyline stroke="#ff6f39" points="108.7,417.8 127.9,422.3 144.3,421.6 158.7,422.1 171.4,422.3 182.8,422.2 193.2,415.0 202.7,422.1 211.4,420.6 219.6,418.8 227.1,398.7 234.3,406.3 240.9,399.1 247.3,369.8 253.2,350.1 258.9,332.3 264.3,284.5 269.5,183.4 274.4,209.6 279.1,236.9 283.7,260.7 288.0,267.4 292.2,256.4 296.3,253.0 300.2,249.4 304.0,242.4 307.6,220.9 311.1,222.4 314.6,211.6 317.9,205.6 321.1,211.0 324.3,200.1 327.3,203.6 330.3,211.0 333.2,211.8 336.1,201.6 338.8,195.1 341.5,197.5 344.1,186.2 346.7,187.1 349.2,174.5 351.7,166.9 354.1,162.6 356.5,162.5 358.8,169.3 361.0,161.6"/>
<polyline class="r" stroke="#ff6f39" points="361.0,161.6 363.2,158.1 365.4,156.7 367.6,151.1 369.7,153.0 371.7,152.2 373.7,144.6 375.7,147.0 377.7,140.3 377.8,143.6 378.7,144.9 379.5,144.2 380.3,144.5 381.2,143.6 382.0,144.2 382.8,142.7 383.6,141.9 384.4,143.9 385.2,138.8 386.0,147.5 386.8,140.4 387.6,143.2 388.3,141.1 389.1,141.9 389.9,137.5 390.6,140.4 391.4,138.0 392.1,140.1 392.9,136.5 393.6,139.3 394.3,136.8 395.1,137.2 395.8,138.5 396.5,130.7 397.2,139.3 397.9,134.0 398.7,137.5 399.4,136.2 400.1,133.3 400.7,129.9 401.4,132.3 402.1,124.8 402.8,132.7 403.5,131.1 404.1,133.0 404.8,129.4 405.5,129.2 406.1,127.9 406.8,129.8 407.5,125.1 408.1,125.7 408.7,124.9 409.4,128.6 410.0,124.5 410.7,126.8 411.3,124.3 411.9,126.0 412.5,123.0 413.2,122.8 413.8,126.1 414.4,119.9 415.0,123.9 415.6,125.3 416.2,119.7 416.8,121.0 417.4,120.7 418.0,122.4 418.6,121.1 419.2,119.4 419.8,120.8 420.4,120.9 420.9,121.1 421.5,119.3 422.1,119.1 422.7,117.7 423.2,118.4 423.8,118.7"/>
<polyline class="r2" stroke="#ff6f39" points="423.8,118.7 424.4,118.9 424.9,116.5 425.5,116.3 426.0,115.7 426.6,115.8 427.1,114.6 427.7,116.6 428.2,114.5 428.8,112.8 429.3,113.2 429.8,112.2 430.4,111.3 430.9,113.3 431.4,111.0 431.9,110.4 432.5,110.4 433.0,111.8 433.5,109.0 434.0,108.6 434.5,109.0 435.0,109.1 435.6,108.8 436.1,109.5 436.6,107.7 437.1,106.9 437.6,105.7 438.1,106.4 438.6,106.2 439.1,106.8 439.5,105.7 440.0,106.8 440.5,105.4 441.0,105.1 441.5,104.7 442.0,105.6 442.4,104.6 442.9,104.9 443.4,102.4 443.9,104.5 444.3,103.3 444.8,103.5 445.3,102.7 445.7,103.2 446.2,102.5 446.7,102.7 447.1,101.9 447.6,102.1 448.0,101.2 448.5,101.3 448.9,100.4 449.4,100.7 449.8,99.9 450.3,100.2 450.7,99.0 451.2,100.2 451.6,98.6 452.1,99.8 452.5,98.1 452.9,98.9 453.4,95.7 453.8,98.1 454.2,95.4 454.7,96.6 455.1,95.5 455.5,96.4 455.9,95.7 456.4,96.6 456.8,95.3 457.2,97.0 457.6,94.6 458.0,96.2 458.4,94.1 458.9,95.0 459.3,94.3 459.7,96.0 460.1,95.0 460.5,96.1 460.9,94.6 461.3,95.3 461.7,93.7"/>
<polyline class="r3" stroke="#ff6f39" points="461.7,93.7 462.1,93.7 462.5,92.1 462.9,93.3 463.3,91.6 463.7,92.6 464.1,91.8 464.5,92.8 464.9,91.3 465.3,91.9 465.7,91.4 466.1,91.9 466.4,90.6 466.8,91.4 467.2,90.2 467.6,90.8 468.0,89.2 468.4,90.8 468.7,89.2 469.1,89.6 469.5,87.7 469.9,89.3 470.2,87.5 470.6,89.6 471.0,88.1 471.4,89.8 471.7,89.0 472.1,90.1 472.5,87.8 472.8,90.0 473.2,88.6 473.6,90.0 473.9,88.2 474.3,89.5 474.6,86.9 475.0,88.8 475.4,88.0 475.7,89.0 476.1,87.2 476.4,88.6 476.8,87.2 477.1,87.4 477.5,86.0 477.8,86.6 478.2,85.4 478.5,86.5 478.9,85.1 479.2,86.0 479.6,84.9 479.9,86.1 480.2,85.6 480.6,86.4 480.9,84.5 481.3,85.8 481.6,84.3 481.9,84.9 482.3,83.9 482.6,85.6 482.9,84.6 483.3,86.0 483.6,84.1 483.9,85.0 484.3,83.8 484.6,85.0 484.9,83.3 485.3,84.7 485.6,81.8 485.9,83.2 486.2,81.2 486.6,84.0 486.9,81.8 487.2,84.2 487.5,82.6 487.8,83.4 488.2,82.4 488.5,83.6 488.8,82.1 489.1,83.3 489.4,81.9 489.7,82.6 490.1,82.1 490.4,83.3 490.7,82.8 491.0,84.0 491.3,82.4 491.6,82.9 491.9,81.6 492.2,82.5 492.5,81.5 492.8,83.4 493.1,81.8 493.4,82.1 493.8,81.1 494.1,82.5 494.4,81.2 494.7,82.1 495.0,80.6 495.3,82.4 495.6,81.3 495.9,82.3 496.2,81.7 496.4,82.7 496.7,81.9 497.0,83.1 497.3,80.7 497.6,82.1 497.9,81.4 498.2,82.4 498.5,81.4 498.8,82.8 499.1,82.3 499.4,83.3 499.7,82.4 499.9,83.4 500.2,82.3 500.5,83.1 500.8,81.8 501.1,83.1 501.4,81.1 501.7,82.7 501.9,81.1 502.2,82.7 502.5,81.7 502.8,83.2 503.1,81.7 503.3,83.2 503.6,82.3 503.9,82.7 504.2,81.7 504.4,82.9 504.7,81.3 505.0,82.3 505.3,80.8 505.5,82.0 505.8,80.6 506.1,81.7 506.4,81.2 506.6,82.2 506.9,81.3 507.2,82.8 507.4,82.0 507.7,82.7 508.0,81.6 508.2,82.3 508.5,80.2 508.8,81.9 509.0,80.3 509.3,82.0 509.6,81.1 509.8,82.3 510.1,81.3 510.4,82.8 510.6,81.6 510.9,83.3 511.1,82.2 511.4,83.7 511.7,81.9 511.9,82.3 512.2,80.8 512.4,81.5 512.7,80.4 512.9,81.6 513.2,80.5 513.5,82.2 513.7,81.2 514.0,83.1 514.2,80.9 514.5,82.4 514.7,81.1 515.0,81.9 515.2,80.3 515.5,82.2 515.7,81.5 516.0,82.5 516.2,81.2 516.5,82.7 516.7,80.5 517.0,82.3 517.2,81.9 517.5,83.4 517.7,81.9 517.9,83.8 518.2,81.6 518.4,82.9 518.7,81.3 518.9,82.8 519.2,81.6 519.4,83.2 519.6,82.2 519.9,84.2 520.1,82.0 520.4,83.2 520.6,81.4 520.8,82.5 521.1,81.5 521.3,84.4 521.6,82.9 521.8,84.0 522.0,82.9 522.3,85.5 522.5,83.0 522.7,84.4 523.0,82.9 523.2,83.7 523.4,81.6 523.7,83.6 523.9,82.1 524.1,83.9 524.4,83.2 524.6,85.5 524.8,85.1 525.1,86.3 525.3,84.9 525.5,86.1 525.7,83.6 526.0,84.7 526.2,84.1 526.4,85.2 526.7,84.8 526.9,86.2 527.1,84.5 527.3,86.3 527.6,85.0 527.8,85.7 528.0,84.9 528.2,85.9 528.4,84.2 528.7,87.4 528.9,85.9 529.1,86.3 529.3,85.4 529.6,87.2 529.8,85.9 530.0,87.5 530.2,86.6 530.4,88.4 530.7,87.1 530.9,88.1 531.1,86.5 531.3,88.2 531.5,87.2 531.7,88.0 532.0,87.6 532.2,88.7 532.4,86.9 532.6,87.9 532.8,87.3 533.0,89.6 533.2,88.1 533.5,90.6 533.7,88.8 533.9,89.9 534.1,88.3 534.3,89.9 534.5,88.7 534.7,89.6 534.9,88.2 535.2,89.1 535.4,88.0 535.6,89.4 535.8,88.7 536.0,89.7 536.2,88.7 536.4,90.9 536.6,90.2 536.8,91.4 537.0,90.8 537.2,92.4 537.4,90.2 537.6,91.5 537.9,90.1 538.1,90.7 538.3,89.8 538.5,91.3 538.7,89.9 538.9,91.1 539.1,90.3 539.3,91.3 539.5,91.0 539.7,92.7 539.9,91.0 540.1,93.1 540.3,92.6 540.5,94.2 540.7,93.2 540.9,94.5 541.1,93.7 541.3,94.6 541.5,93.4 541.7,94.1 541.9,94.1 542.1,94.6 542.3,93.9 542.5,95.0 542.7,94.5 542.9,95.7 543.1,95.1 543.3,96.8 543.5,95.9 543.7,97.0 543.8,96.3 544.0,98.4 544.2,96.2 544.4,98.8 544.6,98.1 544.8,98.4 545.0,97.6 545.2,98.8 545.4,97.9 545.6,99.3 545.8,98.5 546.0,100.3 546.2,99.7 546.3,101.0 546.5,100.3 546.7,101.8 546.9,100.8 547.1,102.6 547.3,101.4 547.5,102.8 547.7,101.8 547.9,102.7 548.0,101.6 548.2,103.5 548.4,102.2 548.6,103.8 548.8,103.4 549.0,105.0 549.2,103.8 549.3,105.0 549.5,104.4 549.7,105.3 549.9,104.7 550.1,106.5 550.3,104.5 550.5,106.2 550.6,104.9 550.8,106.1 551.0,105.2 551.2,107.1 551.4,107.2 551.6,108.7 551.7,107.2 551.9,107.8 552.1,107.4 552.3,107.8 552.5,107.5 552.6,109.8 552.8,109.2 553.0,111.2 553.2,110.1 553.4,111.5 553.5,111.1 553.7,112.8 553.9,111.4 554.1,113.6 554.2,111.9 554.4,114.0 554.6,113.2 554.8,115.1 555.0,113.7 555.1,116.0 555.3,114.8 555.5,115.9 555.7,114.2 555.8,116.9 556.0,115.6 556.2,117.4 556.4,116.9 556.5,118.7 556.7,116.8 556.9,118.0 557.0,117.3 557.2,119.1 557.4,118.1 557.6,119.5 557.7,119.0 557.9,120.0 558.1,119.8 558.3,121.4 558.4,119.9 558.6,121.7 558.8,120.6 558.9,121.2 559.1,120.2 559.3,122.2 559.4,121.3 559.6,122.8 559.8,121.8"/>
<polyline stroke="#ff9f54" points="108.7,422.3 127.9,422.3 144.3,419.0 158.7,422.3 171.4,422.3 182.8,422.1 193.2,422.1 202.7,412.5 211.4,421.1 219.6,420.9 227.1,404.6 234.3,392.5 240.9,388.9 247.3,384.5 253.2,348.4 258.9,334.4 264.3,307.6 269.5,208.0 274.4,183.1 279.1,211.7 283.7,252.3 288.0,264.5 292.2,258.0 296.3,251.4 300.2,248.4 304.0,240.9 307.6,223.4 311.1,202.6 314.6,211.8 317.9,204.3 321.1,202.9 324.3,203.7 327.3,204.5 330.3,206.0 333.2,212.6 336.1,198.6 338.8,192.8 341.5,193.6 344.1,185.3 346.7,180.4 349.2,170.4 351.7,167.8 354.1,160.0 356.5,165.6 358.8,154.4 361.0,154.8"/>
<polyline class="r" stroke="#ff9f54" points="361.0,154.8 363.2,157.9 365.4,160.0 367.6,152.6 369.7,155.9 371.7,152.8 373.7,152.6 375.7,146.8 377.7,143.1 377.8,147.4 378.7,144.9 379.5,144.2 380.3,144.5 381.2,146.0 382.0,140.6 382.8,142.3 383.6,137.4 384.4,137.6 385.2,135.0 386.0,137.3 386.8,134.4 387.6,132.0 388.3,129.4 389.1,135.4 389.9,130.5 390.6,134.0 391.4,130.6 392.1,130.0 392.9,129.6 393.6,127.4 394.3,132.4 395.1,130.7 395.8,130.5 396.5,132.4 397.2,128.3 397.9,132.5 398.7,129.8 399.4,136.1 400.1,130.5 400.7,131.6 401.4,129.5 402.1,129.0 402.8,128.5 403.5,132.3 404.1,127.7 404.8,126.3 405.5,130.9 406.1,130.5 406.8,132.7 407.5,129.9 408.1,128.2 408.7,126.1 409.4,126.5 410.0,126.5 410.7,128.7 411.3,122.7 411.9,124.4 412.5,121.1 413.2,126.1 413.8,123.3 414.4,122.4 415.0,122.1 415.6,121.1 416.2,121.2 416.8,118.9 417.4,118.5 418.0,118.4 418.6,118.2 419.2,116.2 419.8,116.3 420.4,114.7 420.9,113.4 421.5,113.2 422.1,109.9 422.7,111.4 423.2,113.1 423.8,110.9"/>
<polyline class="r2" stroke="#ff9f54" points="423.8,110.9 424.4,110.3 424.9,112.3 425.5,110.1 426.0,110.7 426.6,109.3 427.1,109.3 427.7,111.4 428.2,108.6 428.8,110.2 429.3,107.6 429.8,106.2 430.4,106.6 430.9,107.8 431.4,107.7 431.9,108.5 432.5,107.2 433.0,106.2 433.5,105.3 434.0,106.9 434.5,105.9 435.0,106.1 435.6,106.7 436.1,106.4 436.6,105.0 437.1,106.3 437.6,105.0 438.1,105.1 438.6,103.2 439.1,106.6 439.5,104.1 440.0,103.6 440.5,102.5 441.0,103.5 441.5,102.8 442.0,102.8 442.4,100.6 442.9,102.8 443.4,100.0 443.9,101.2 444.3,99.9 444.8,100.6 445.3,99.3 445.7,99.6 446.2,98.6 446.7,100.0 447.1,98.2 447.6,98.3 448.0,96.8 448.5,97.4 448.9,96.5 449.4,96.8 449.8,95.2 450.3,96.5 450.7,95.4 451.2,95.5 451.6,94.8 452.1,95.0 452.5,93.4 452.9,93.5 453.4,91.8 453.8,93.3 454.2,91.9 454.7,92.7 455.1,90.7 455.5,92.4 455.9,91.0 456.4,92.2 456.8,90.6 457.2,91.2 457.6,89.8 458.0,90.2 458.4,87.9 458.9,88.5 459.3,87.7 459.7,88.8 460.1,88.4 460.5,88.8 460.9,87.2 461.3,87.8 461.7,86.6"/>
<polyline class="r3" stroke="#ff9f54" points="461.7,86.6 462.1,86.9 462.5,86.0 462.9,87.6 463.3,86.3 463.7,87.5 464.1,87.5 464.5,88.1 464.9,86.3 465.3,88.0 465.7,86.3 466.1,87.8 466.4,86.6 466.8,87.7 467.2,86.4 467.6,86.9 468.0,86.4 468.4,87.2 468.7,85.9 469.1,87.5 469.5,86.2 469.9,86.7 470.2,85.6 470.6,87.1 471.0,85.7 471.4,87.2 471.7,86.1 472.1,86.8 472.5,85.2 472.8,86.7 473.2,85.4 473.6,86.0 473.9,84.8 474.3,85.7 474.6,84.5 475.0,85.5 475.4,83.9 475.7,85.3 476.1,84.4 476.4,85.2 476.8,84.3 477.1,85.8 477.5,84.1 477.8,84.5 478.2,83.8 478.5,85.3 478.9,83.2 479.2,85.0 479.6,83.3 479.9,84.8 480.2,82.8 480.6,83.4 480.9,82.3 481.3,82.9 481.6,81.1 481.9,82.6 482.3,81.0 482.6,81.3 482.9,79.7 483.3,82.0 483.6,81.2 483.9,81.9 484.3,80.9 484.6,82.4 484.9,79.8 485.3,81.2 485.6,79.4 485.9,81.2 486.2,79.5 486.6,80.6 486.9,79.1 487.2,80.4 487.5,79.1 487.8,80.4 488.2,79.0 488.5,80.5 488.8,78.7 489.1,79.8 489.4,77.9 489.7,80.2 490.1,78.8 490.4,80.6 490.7,78.6 491.0,79.5 491.3,77.9 491.6,78.7 491.9,76.2 492.2,78.9 492.5,76.8 492.8,77.8 493.1,76.5 493.4,78.1 493.8,76.5 494.1,78.5 494.4,76.2 494.7,77.3 495.0,76.1 495.3,77.1 495.6,76.2 495.9,77.5 496.2,76.1 496.4,77.4 496.7,76.3 497.0,76.7 497.3,76.1 497.6,77.1 497.9,75.7 498.2,78.1 498.5,76.5 498.8,77.5 499.1,76.5 499.4,77.7 499.7,76.6 499.9,78.0 500.2,75.1 500.5,77.2 500.8,75.6 501.1,76.3 501.4,75.1 501.7,76.7 501.9,75.6 502.2,77.2 502.5,76.5 502.8,77.7 503.1,76.8 503.3,77.5 503.6,76.9 503.9,77.6 504.2,76.1 504.4,78.0 504.7,77.4 505.0,77.6 505.3,76.9 505.5,78.0 505.8,77.2 506.1,78.4 506.4,77.7 506.6,79.2 506.9,77.9 507.2,78.4 507.4,77.7 507.7,78.3 508.0,76.7 508.2,78.3 508.5,77.0 508.8,77.9 509.0,77.7 509.3,78.5 509.6,77.1 509.8,79.1 510.1,77.8 510.4,78.5 510.6,78.0 510.9,78.9 511.1,77.6 511.4,79.5 511.7,78.6 511.9,79.1 512.2,77.5 512.4,79.2 512.7,78.1 512.9,78.7 513.2,78.2 513.5,79.4 513.7,78.3 514.0,79.8 514.2,78.7 514.5,79.9 514.7,78.9 515.0,79.9 515.2,78.5 515.5,78.8 515.7,78.2 516.0,79.2 516.2,78.2 516.5,79.1 516.7,78.3 517.0,79.1 517.2,77.8 517.5,79.1 517.7,78.4 517.9,79.3 518.2,76.9 518.4,78.7 518.7,76.7 518.9,78.4 519.2,77.2 519.4,78.8 519.6,77.6 519.9,78.5 520.1,77.0 520.4,78.0 520.6,76.9 520.8,78.2 521.1,77.7 521.3,79.2 521.6,77.0 521.8,78.6 522.0,76.9 522.3,78.8 522.5,76.8 522.7,79.2 523.0,77.6 523.2,79.1 523.4,77.4 523.7,78.2 523.9,77.1 524.1,77.9 524.4,77.2 524.6,78.5 524.8,77.5 525.1,78.7 525.3,77.4 525.5,78.9 525.7,77.3 526.0,78.3 526.2,78.1 526.4,78.8 526.7,78.1 526.9,80.0 527.1,78.6 527.3,79.8 527.6,78.2 527.8,79.8 528.0,78.3 528.2,79.7 528.4,78.2 528.7,79.7 528.9,78.5 529.1,80.5 529.3,79.0 529.6,80.1 529.8,78.4 530.0,80.0 530.2,79.2 530.4,81.0 530.7,80.0 530.9,80.7 531.1,79.5 531.3,80.4 531.5,79.9 531.7,81.1 532.0,80.4 532.2,81.4 532.4,80.9 532.6,81.5 532.8,80.6 533.0,81.7 533.2,80.3 533.5,81.1 533.7,80.6 533.9,82.0 534.1,80.6 534.3,82.2 534.5,81.6 534.7,83.0 534.9,81.9 535.2,83.6 535.4,82.6 535.6,84.0 535.8,82.3 536.0,84.5 536.2,82.3 536.4,83.6 536.6,82.8 536.8,84.4 537.0,83.4 537.2,84.9 537.4,84.1 537.6,85.6 537.9,84.7 538.1,85.9 538.3,85.2 538.5,86.2 538.7,84.8 538.9,85.6 539.1,84.7 539.3,85.7 539.5,84.9 539.7,86.0 539.9,85.3 540.1,86.8 540.3,84.6 540.5,86.8 540.7,86.2 540.9,88.4 541.1,86.8 541.3,88.9 541.5,87.5 541.7,88.0 541.9,86.8 542.1,88.4 542.3,87.5 542.5,88.5 542.7,88.3 542.9,90.7 543.1,88.6 543.3,90.3 543.5,89.7 543.7,90.6 543.8,88.3 544.0,91.8 544.2,90.1 544.4,91.2 544.6,90.5 544.8,92.0 545.0,90.9 545.2,92.5 545.4,91.7 545.6,93.6 545.8,92.8 546.0,93.9 546.2,93.3 546.3,94.4 546.5,93.2 546.7,94.9 546.9,93.2 547.1,95.0 547.3,94.0 547.5,95.6 547.7,94.5 547.9,95.9 548.0,95.1 548.2,96.8 548.4,95.5 548.6,97.8 548.8,96.6 549.0,98.0 549.2,96.7 549.3,98.7 549.5,97.2 549.7,98.3 549.9,97.7 550.1,98.6 550.3,97.1 550.5,98.7 550.6,98.2 550.8,99.5 551.0,98.9 551.2,101.3 551.4,100.5 551.6,101.5 551.7,100.5 551.9,101.3 552.1,99.5 552.3,101.4 552.5,100.3 552.6,102.6 552.8,101.9 553.0,103.9 553.2,102.4 553.4,103.3 553.5,102.4 553.7,104.1 553.9,102.5 554.1,104.2 554.2,103.4 554.4,105.5 554.6,103.5 554.8,105.9 555.0,105.1 555.1,106.7 555.3,105.6 555.5,107.1 555.7,106.0 555.8,107.2 556.0,106.4 556.2,107.3 556.4,105.9 556.5,108.4 556.7,107.2 556.9,109.1 557.0,108.9 557.2,110.5 557.4,108.5 557.6,109.6 557.7,109.0 557.9,109.9 558.1,109.3 558.3,110.2 558.4,109.5 558.6,111.0 558.8,109.9 558.9,111.4 559.1,110.8 559.3,112.5 559.4,111.3 559.6,113.0 559.8,111.9"/>
<polyline stroke="#edc76f" points="108.7,422.3 127.9,422.3 144.3,422.1 158.7,419.4 171.4,419.7 182.8,416.3 193.2,415.1 202.7,416.7 211.4,421.4 219.6,419.3 227.1,394.7 234.3,406.1 240.9,388.7 247.3,370.6 253.2,347.1 258.9,315.6 264.3,261.5 269.5,188.0 274.4,195.0 279.1,226.0 283.7,240.8 288.0,255.6 292.2,258.8 296.3,244.5 300.2,249.7 304.0,222.6 307.6,215.2 311.1,198.5 314.6,200.1 317.9,215.2 321.1,205.6 324.3,198.0 327.3,210.0 330.3,196.1 333.2,203.4 336.1,198.7 338.8,202.7 341.5,188.7 344.1,183.9 346.7,173.1 349.2,163.7 351.7,167.0 354.1,158.6 356.5,159.5 358.8,155.1 361.0,153.8"/>
<polyline class="r" stroke="#edc76f" points="361.0,153.8 363.2,150.4 365.4,152.2 367.6,147.8 369.7,149.5 371.7,145.2 373.7,144.8 375.7,149.1 377.7,142.7 377.8,141.8 378.7,141.7 379.5,141.0 380.3,139.2 381.2,138.5 382.0,140.0 382.8,136.8 383.6,138.9 384.4,136.3 385.2,133.7 386.0,136.3 386.8,132.9 387.6,136.6 388.3,131.7 389.1,137.1 389.9,132.3 390.6,129.5 391.4,128.9 392.1,125.6 392.9,128.1 393.6,127.2 394.3,126.0 395.1,130.4 395.8,122.6 396.5,128.6 397.2,124.7 397.9,124.3 398.7,124.9 399.4,125.1 400.1,125.1 400.7,127.6 401.4,127.2 402.1,124.2 402.8,125.7 403.5,123.6 404.1,123.6 404.8,124.7 405.5,119.7 406.1,123.2 406.8,123.5 407.5,124.9 408.1,123.5 408.7,124.3 409.4,121.5 410.0,117.8 410.7,123.8 411.3,118.5 411.9,121.2 412.5,117.7 413.2,121.6 413.8,118.7 414.4,118.3 415.0,117.4 415.6,118.4 416.2,114.7 416.8,115.4 417.4,118.7 418.0,116.2 418.6,114.8 419.2,115.8 419.8,115.0 420.4,113.5 420.9,112.1 421.5,112.5 422.1,109.7 422.7,112.3 423.2,112.2 423.8,110.3"/>
<polyline class="r2" stroke="#edc76f" points="423.8,110.3 424.4,108.8 424.9,108.5 425.5,107.9 426.0,108.4 426.6,109.8 427.1,105.7 427.7,106.7 428.2,105.4 428.8,105.3 429.3,103.7 429.8,105.6 430.4,104.3 430.9,105.1 431.4,102.2 431.9,104.8 432.5,103.1 433.0,102.6 433.5,102.5 434.0,102.8 434.5,99.5 435.0,100.8 435.6,98.8 436.1,100.3 436.6,99.3 437.1,99.1 437.6,98.1 438.1,101.1 438.6,98.8 439.1,98.8 439.5,97.7 440.0,98.7 440.5,97.9 441.0,98.2 441.5,95.9 442.0,96.9 442.4,95.9 442.9,96.0 443.4,95.6 443.9,96.8 444.3,95.6 444.8,95.7 445.3,94.3 445.7,95.1 446.2,93.6 446.7,95.1 447.1,93.8 447.6,94.5 448.0,93.9 448.5,94.9 448.9,93.5 449.4,95.3 449.8,94.1 450.3,94.3 450.7,93.1 451.2,93.6 451.6,92.6 452.1,92.4 452.5,91.8 452.9,92.2 453.4,91.3 453.8,92.6 454.2,91.1 454.7,92.0 455.1,89.5 455.5,90.9 455.9,89.2 456.4,90.3 456.8,89.0 457.2,89.8 457.6,89.2 458.0,89.9 458.4,88.6 458.9,89.5 459.3,89.0 459.7,89.6 460.1,88.3 460.5,89.5 460.9,86.6 461.3,88.2 461.7,85.9"/>
<polyline class="r3" stroke="#edc76f" points="461.7,85.9 462.1,87.1 462.5,86.2 462.9,87.4 463.3,86.1 463.7,87.3 464.1,85.8 464.5,86.1 464.9,85.5 465.3,86.4 465.7,85.0 466.1,85.8 466.4,84.7 466.8,84.6 467.2,82.5 467.6,83.2 468.0,82.5 468.4,83.3 468.7,83.0 469.1,84.5 469.5,83.1 469.9,84.9 470.2,82.9 470.6,83.1 471.0,82.3 471.4,83.4 471.7,81.6 472.1,82.2 472.5,81.9 472.8,82.6 473.2,81.0 473.6,81.7 473.9,81.1 474.3,81.8 474.6,80.5 475.0,81.4 475.4,79.4 475.7,80.8 476.1,79.1 476.4,81.1 476.8,79.2 477.1,80.7 477.5,79.9 477.8,80.4 478.2,78.8 478.5,80.1 478.9,78.9 479.2,79.7 479.6,78.3 479.9,80.4 480.2,78.5 480.6,79.3 480.9,77.8 481.3,78.7 481.6,76.8 481.9,78.7 482.3,76.9 482.6,77.9 482.9,76.7 483.3,77.4 483.6,75.8 483.9,77.4 484.3,76.1 484.6,77.1 484.9,76.3 485.3,77.0 485.6,75.3 485.9,76.8 486.2,75.0 486.6,75.5 486.9,74.8 487.2,75.5 487.5,74.7 487.8,77.2 488.2,75.0 488.5,75.7 488.8,74.7 489.1,75.6 489.4,73.8 489.7,75.1 490.1,74.3 490.4,76.0 490.7,74.1 491.0,75.3 491.3,73.7 491.6,74.9 491.9,73.7 492.2,75.2 492.5,74.0 492.8,74.7 493.1,74.1 493.4,75.0 493.8,73.4 494.1,74.5 494.4,73.4 494.7,74.4 495.0,73.2 495.3,74.6 495.6,72.6 495.9,74.8 496.2,73.3 496.4,74.0 496.7,72.7 497.0,74.8 497.3,72.7 497.6,73.7 497.9,72.7 498.2,73.9 498.5,72.6 498.8,73.2 499.1,72.5 499.4,74.1 499.7,72.1 499.9,74.1 500.2,71.9 500.5,73.8 500.8,72.2 501.1,74.2 501.4,72.2 501.7,73.6 501.9,73.2 502.2,74.6 502.5,72.5 502.8,73.6 503.1,73.5 503.3,74.4 503.6,72.6 503.9,74.1 504.2,73.1 504.4,73.5 504.7,72.1 505.0,74.8 505.3,73.1 505.5,74.4 505.8,73.3 506.1,74.3 506.4,72.5 506.6,74.5 506.9,73.1 507.2,73.7 507.4,72.2 507.7,73.2 508.0,71.7 508.2,73.0 508.5,71.5 508.8,72.4 509.0,70.9 509.3,72.2 509.6,71.5 509.8,72.2 510.1,71.4 510.4,71.9 510.6,70.8 510.9,71.5 511.1,70.8 511.4,71.9 511.7,71.3 511.9,72.1 512.2,70.8 512.4,72.7 512.7,70.7 512.9,72.0 513.2,71.3 513.5,72.5 513.7,70.4 514.0,72.3 514.2,71.7 514.5,73.2 514.7,72.2 515.0,73.2 515.2,72.0 515.5,72.4 515.7,71.3 516.0,72.3 516.2,70.8 516.5,72.3 516.7,71.7 517.0,72.6 517.2,71.0 517.5,72.6 517.7,71.6 517.9,72.6 518.2,71.1 518.4,72.2 518.7,70.4 518.9,71.7 519.2,70.8 519.4,72.2 519.6,70.3 519.9,71.7 520.1,70.8 520.4,72.1 520.6,70.5 520.8,73.1 521.1,72.8 521.3,73.3 521.6,72.6 521.8,73.0 522.0,71.8 522.3,72.3 522.5,71.7 522.7,72.3 523.0,71.3 523.2,72.9 523.4,72.2 523.7,73.3 523.9,72.7 524.1,73.6 524.4,72.1 524.6,74.1 524.8,72.4 525.1,73.8 525.3,72.6 525.5,74.6 525.7,73.0 526.0,74.6 526.2,73.3 526.4,74.4 526.7,73.0 526.9,74.5 527.1,72.7 527.3,75.0 527.6,74.0 527.8,75.3 528.0,74.8 528.2,76.5 528.4,74.0 528.7,75.7 528.9,73.9 529.1,75.8 529.3,74.8 529.6,75.9 529.8,75.7 530.0,76.4 530.2,74.6 530.4,77.0 530.7,76.4 530.9,77.2 531.1,76.8 531.3,78.1 531.5,76.9 531.7,77.7 532.0,77.0 532.2,78.5 532.4,77.5 532.6,79.0 532.8,78.2 533.0,80.0 533.2,78.8 533.5,79.4 533.7,77.3 533.9,79.1 534.1,77.8 534.3,80.2 534.5,79.2 534.7,79.7 534.9,78.6 535.2,79.7 535.4,78.4 535.6,80.0 535.8,79.8 536.0,80.4 536.2,79.7 536.4,81.3 536.6,78.4 536.8,81.2 537.0,79.6 537.2,80.9 537.4,79.6 537.6,81.4 537.9,79.8 538.1,80.7 538.3,80.1 538.5,80.8 538.7,78.6 538.9,80.4 539.1,79.3 539.3,81.8 539.5,80.5 539.7,82.3 539.9,81.4 540.1,82.4 540.3,80.8 540.5,82.4 540.7,81.5 540.9,83.3 541.1,82.4 541.3,83.9 541.5,82.9 541.7,83.9 541.9,82.3 542.1,83.3 542.3,82.9 542.5,84.0 542.7,82.7 542.9,85.1 543.1,83.7 543.3,84.9 543.5,83.8 543.7,85.2 543.8,83.8 544.0,84.5 544.2,83.9 544.4,85.0 544.6,84.6 544.8,86.8 545.0,85.8 545.2,87.0 545.4,86.6 545.6,88.2 545.8,86.7 546.0,87.9 546.2,87.4 546.3,88.4 546.5,86.6 546.7,88.5 546.9,87.1 547.1,88.2 547.3,87.1 547.5,89.1 547.7,87.6 547.9,89.0 548.0,86.9 548.2,89.4 548.4,88.4 548.6,90.1 548.8,89.1 549.0,90.5 549.2,89.5 549.3,90.5 549.5,89.3 549.7,90.1 549.9,89.7 550.1,90.9 550.3,89.2 550.5,90.6 550.6,88.8 550.8,90.4 551.0,89.2 551.2,91.1 551.4,90.6 551.6,93.0 551.7,92.5 551.9,94.1 552.1,93.1 552.3,94.1 552.5,93.2 552.6,94.4 552.8,93.0 553.0,95.2 553.2,94.4 553.4,95.4 553.5,93.8 553.7,95.5 553.9,94.4 554.1,95.2 554.2,94.6 554.4,96.0 554.6,94.7 554.8,96.8 555.0,95.3 555.1,97.4 555.3,96.9 555.5,98.4 555.7,97.2 555.8,98.8 556.0,97.3 556.2,98.9 556.4,97.6 556.5,99.3 556.7,98.5 556.9,100.8 557.0,100.0 557.2,102.0 557.4,100.7 557.6,101.6 557.7,101.0 557.9,101.6 558.1,101.4 558.3,102.9 558.4,102.0 558.6,104.4 558.8,103.3 558.9,103.7 559.1,101.7 559.3,104.4 559.4,102.2 559.6,104.0 559.8,102.8"/>
<polyline stroke="#c8e688" points="108.7,422.2 127.9,416.7 144.3,421.2 158.7,422.3 171.4,410.1 182.8,420.4 193.2,422.3 202.7,412.8 211.4,420.6 219.6,407.6 227.1,393.2 234.3,399.4 240.9,383.6 247.3,367.4 253.2,357.7 258.9,329.5 264.3,298.5 269.5,215.0 274.4,196.0 279.1,203.7 283.7,235.2 288.0,251.5 292.2,249.8 296.3,241.6 300.2,236.1 304.0,228.9 307.6,215.8 311.1,209.8 314.6,197.7 317.9,202.1 321.1,197.9 324.3,195.6 327.3,198.4 330.3,191.4 333.2,199.8 336.1,200.7 338.8,188.0 341.5,189.4 344.1,174.1 346.7,169.7 349.2,169.7 351.7,161.9 354.1,161.2 356.5,146.4 358.8,152.0 361.0,153.7"/>
<polyline class="r" stroke="#c8e688" points="361.0,153.7 363.2,145.0 365.4,147.3 367.6,138.4 369.7,142.1 371.7,140.5 373.7,142.5 375.7,138.3 377.7,139.0 377.8,143.0 378.7,137.9 379.5,134.1 380.3,136.5 381.2,137.9 382.0,133.7 382.8,136.0 383.6,131.9 384.4,134.2 385.2,135.6 386.0,130.8 386.8,131.2 387.6,133.7 388.3,127.9 389.1,127.0 389.9,125.6 390.6,127.5 391.4,128.9 392.1,124.2 392.9,124.7 393.6,123.2 394.3,119.9 395.1,121.9 395.8,129.0 396.5,123.1 397.2,121.4 397.9,124.3 398.7,120.5 399.4,123.9 400.1,120.4 400.7,119.7 401.4,115.8 402.1,117.7 402.8,118.6 403.5,119.0 404.1,122.0 404.8,118.6 405.5,119.1 406.1,117.4 406.8,118.1 407.5,115.8 408.1,115.8 408.7,114.3 409.4,112.5 410.0,113.0 410.7,113.5 411.3,115.4 411.9,119.4 412.5,114.7 413.2,112.2 413.8,114.3 414.4,112.6 415.0,117.5 415.6,113.8 416.2,110.2 416.8,109.3 417.4,109.6 418.0,109.8 418.6,109.0 419.2,107.5 419.8,109.0 420.4,107.4 420.9,109.3 421.5,105.6 422.1,107.2 422.7,104.9 423.2,104.7 423.8,103.6"/>
<polyline class="r2" stroke="#c8e688" points="423.8,103.6 424.4,103.8 424.9,103.2 425.5,103.9 426.0,100.0 426.6,105.0 427.1,100.5 427.7,99.8 428.2,101.5 428.8,100.3 429.3,99.8 429.8,98.7 430.4,100.8 430.9,98.9 431.4,96.8 431.9,99.5 432.5,97.6 433.0,97.6 433.5,96.7 434.0,98.4 434.5,98.4 435.0,96.9 435.6,97.0 436.1,97.3 436.6,96.0 437.1,96.2 437.6,95.4 438.1,94.7 438.6,94.6 439.1,95.2 439.5,94.0 440.0,94.4 440.5,93.9 441.0,94.4 441.5,93.7 442.0,93.9 442.4,93.1 442.9,94.2 443.4,92.5 443.9,92.8 444.3,92.4 444.8,92.8 445.3,91.9 445.7,92.6 446.2,90.7 446.7,92.7 447.1,90.7 447.6,92.1 448.0,90.1 448.5,90.8 448.9,89.0 449.4,89.7 449.8,88.4 450.3,89.2 450.7,88.1 451.2,89.2 451.6,88.3 452.1,88.2 452.5,86.8 452.9,87.0 453.4,85.7 453.8,86.4 454.2,85.7 454.7,87.3 455.1,85.6 455.5,86.5 455.9,85.6 456.4,85.7 456.8,83.7 457.2,84.4 457.6,82.9 458.0,83.9 458.4,83.2 458.9,83.8 459.3,82.3 459.7,82.7 460.1,81.4 460.5,81.9 460.9,81.0 461.3,82.1 461.7,80.9"/>
<polyline class="r3" stroke="#c8e688" points="461.7,80.9 462.1,81.5 462.5,80.4 462.9,81.1 463.3,78.7 463.7,80.5 464.1,79.6 464.5,80.6 464.9,79.8 465.3,80.4 465.7,79.4 466.1,79.5 466.4,78.2 466.8,78.7 467.2,77.0 467.6,78.8 468.0,77.2 468.4,78.6 468.7,78.1 469.1,79.3 469.5,78.0 469.9,78.7 470.2,76.9 470.6,77.8 471.0,76.2 471.4,77.2 471.7,76.1 472.1,77.7 472.5,76.2 472.8,77.5 473.2,75.8 473.6,77.6 473.9,76.1 474.3,76.0 474.6,75.5 475.0,76.5 475.4,75.2 475.7,75.3 476.1,75.3 476.4,76.2 476.8,74.0 477.1,76.2 477.5,74.4 477.8,76.2 478.2,74.5 478.5,75.9 478.9,74.8 479.2,75.4 479.6,74.7 479.9,75.3 480.2,74.6 480.6,75.5 480.9,74.4 481.3,75.2 481.6,73.8 481.9,74.5 482.3,73.8 482.6,74.7 482.9,73.0 483.3,74.2 483.6,73.3 483.9,74.0 484.3,73.1 484.6,74.2 484.9,73.1 485.3,74.3 485.6,72.9 485.9,73.3 486.2,72.1 486.6,73.8 486.9,72.1 487.2,73.5 487.5,72.0 487.8,72.7 488.2,71.5 488.5,73.2 488.8,71.8 489.1,73.0 489.4,71.5 489.7,72.8 490.1,71.0 490.4,71.7 490.7,70.4 491.0,71.2 491.3,70.1 491.6,70.6 491.9,69.9 492.2,70.4 492.5,69.1 492.8,71.3 493.1,69.6 493.4,71.6 493.8,70.8 494.1,71.7 494.4,70.0 494.7,71.3 495.0,69.5 495.3,70.8 495.6,68.5 495.9,69.9 496.2,68.1 496.4,69.3 496.7,68.8 497.0,69.3 497.3,68.4 497.6,69.8 497.9,68.7 498.2,69.4 498.5,68.2 498.8,70.1 499.1,68.2 499.4,69.3 499.7,68.3 499.9,69.5 500.2,68.7 500.5,69.3 500.8,67.7 501.1,69.6 501.4,67.9 501.7,69.2 501.9,69.0 502.2,70.1 502.5,67.7 502.8,69.1 503.1,67.9 503.3,68.6 503.6,68.1 503.9,68.7 504.2,67.9 504.4,69.3 504.7,68.2 505.0,68.8 505.3,67.8 505.5,68.7 505.8,67.1 506.1,67.7 506.4,67.4 506.6,68.1 506.9,67.4 507.2,68.7 507.4,67.6 507.7,69.3 508.0,67.9 508.2,68.7 508.5,67.9 508.8,69.3 509.0,67.1 509.3,68.8 509.6,67.1 509.8,68.2 510.1,67.4 510.4,68.7 510.6,67.7 510.9,69.5 511.1,68.0 511.4,68.6 511.7,67.0 511.9,67.8 512.2,66.0 512.4,67.8 512.7,66.7 512.9,68.8 513.2,67.0 513.5,68.5 513.7,66.8 514.0,68.4 514.2,67.0 514.5,69.2 514.7,68.2 515.0,69.3 515.2,67.5 515.5,68.6 515.7,68.0 516.0,69.8 516.2,68.5 516.5,69.7 516.7,68.2 517.0,69.1 517.2,67.6 517.5,69.0 517.7,67.4 517.9,70.0 518.2,67.5 518.4,68.9 518.7,67.8 518.9,68.6 519.2,67.4 519.4,69.1 519.6,67.5 519.9,69.3 520.1,67.6 520.4,68.5 520.6,67.6 520.8,68.8 521.1,68.0 521.3,69.3 521.6,67.0 521.8,68.6 522.0,68.0 522.3,69.8 522.5,68.2 522.7,69.6 523.0,69.3 523.2,70.8 523.4,69.1 523.7,70.1 523.9,68.8 524.1,69.9 524.4,68.6 524.6,70.6 524.8,69.2 525.1,70.4 525.3,69.9 525.5,70.8 525.7,70.1 526.0,71.8 526.2,70.0 526.4,71.9 526.7,70.6 526.9,71.4 527.1,70.1 527.3,70.8 527.6,70.2 527.8,72.0 528.0,70.5 528.2,71.5 528.4,70.4 528.7,71.8 528.9,70.7 529.1,71.8 529.3,70.8 529.6,71.8 529.8,70.9 530.0,72.3 530.2,71.0 530.4,72.2 530.7,71.3 530.9,73.3 531.1,71.9 531.3,73.5 531.5,73.1 531.7,74.6 532.0,72.4 532.2,73.3 532.4,71.7 532.6,73.3 532.8,72.2 533.0,72.6 533.2,72.5 533.5,73.9 533.7,72.7 533.9,73.8 534.1,72.8 534.3,73.9 534.5,72.7 534.7,73.7 534.9,72.8 535.2,74.2 535.4,73.3 535.6,75.5 535.8,74.7 536.0,75.5 536.2,74.5 536.4,76.2 536.6,74.1 536.8,74.7 537.0,73.9 537.2,74.8 537.4,73.6 537.6,75.2 537.9,74.6 538.1,75.6 538.3,74.5 538.5,76.2 538.7,74.4 538.9,75.1 539.1,74.2 539.3,76.4 539.5,75.5 539.7,76.8 539.9,75.3 540.1,76.8 540.3,76.1 540.5,78.0 540.7,76.9 540.9,79.0 541.1,77.3 541.3,79.1 541.5,77.8 541.7,79.0 541.9,77.8 542.1,78.8 542.3,77.8 542.5,79.4 542.7,77.8 542.9,79.5 543.1,78.9 543.3,79.8 543.5,78.6 543.7,80.8 543.8,79.5 544.0,79.8 544.2,78.6 544.4,79.9 544.6,78.8 544.8,80.7 545.0,80.0 545.2,80.6 545.4,80.4 545.6,81.9 545.8,81.0 546.0,82.5 546.2,82.5 546.3,83.7 546.5,81.9 546.7,83.0 546.9,81.4 547.1,82.5 547.3,82.1 547.5,83.5 547.7,83.2 547.9,83.8 548.0,82.6 548.2,83.8 548.4,83.1 548.6,83.4 548.8,83.3 549.0,84.7 549.2,83.7 549.3,85.6 549.5,84.9 549.7,86.3 549.9,84.9 550.1,86.7 550.3,85.1 550.5,86.2 550.6,85.0 550.8,87.1 551.0,85.5 551.2,86.7 551.4,86.1 551.6,87.6 551.7,86.6 551.9,88.5 552.1,87.4 552.3,89.0 552.5,87.7 552.6,88.8 552.8,88.0 553.0,89.2 553.2,89.1 553.4,90.1 553.5,89.2 553.7,90.7 553.9,89.7 554.1,90.1 554.2,89.3 554.4,91.2 554.6,89.0 554.8,91.2 555.0,90.5 555.1,92.0 555.3,91.1 555.5,92.6 555.7,92.2 555.8,93.2 556.0,92.3 556.2,92.7 556.4,92.1 556.5,92.8 556.7,90.7 556.9,92.8 557.0,91.3 557.2,93.8 557.4,92.2 557.6,94.1 557.7,92.5 557.9,93.6 558.1,93.0 558.3,94.4 558.4,93.6 558.6,94.8 558.8,94.8 558.9,95.8 559.1,95.8 559.3,97.3 559.4,95.7 559.6,97.3 559.8,95.8"/>
<polyline stroke="#a4f99f" points="108.7,422.0 127.9,421.5 144.3,421.0 158.7,418.0 171.4,402.5 182.8,390.0 193.2,395.0 202.7,394.0 211.4,378.2 219.6,361.9 227.1,354.3 234.3,333.0 240.9,318.4 247.3,305.9 253.2,292.3 258.9,303.9 264.3,280.6 269.5,225.5 274.4,200.7 279.1,214.6 283.7,251.6 288.0,241.0 292.2,229.3 296.3,227.0 300.2,218.5 304.0,208.9 307.6,194.0 311.1,192.2 314.6,170.2 317.9,180.3 321.1,177.7 324.3,176.7 327.3,182.2 330.3,170.0 333.2,177.6 336.1,169.3 338.8,159.9 341.5,162.9 344.1,168.2 346.7,158.7 349.2,165.1 351.7,159.8 354.1,159.1 356.5,162.1 358.8,149.6 361.0,146.1"/>
<polyline class="r" stroke="#a4f99f" points="361.0,146.1 363.2,143.8 365.4,137.3 367.6,133.5 369.7,133.9 371.7,131.7 373.7,126.5 375.7,123.1 377.7,124.5 377.8,122.6 378.7,126.0 379.5,120.8 380.3,122.1 381.2,129.4 382.0,124.5 382.8,123.5 383.6,125.7 384.4,122.1 385.2,123.2 386.0,123.5 386.8,122.7 387.6,121.5 388.3,120.4 389.1,118.5 389.9,119.2 390.6,122.6 391.4,126.5 392.1,119.3 392.9,118.5 393.6,117.4 394.3,114.5 395.1,121.0 395.8,119.0 396.5,119.8 397.2,116.1 397.9,116.0 398.7,111.0 399.4,113.0 400.1,115.2 400.7,117.1 401.4,112.9 402.1,117.0 402.8,113.9 403.5,113.5 404.1,111.3 404.8,110.7 405.5,111.6 406.1,106.9 406.8,107.1 407.5,110.7 408.1,111.5 408.7,110.8 409.4,107.4 410.0,112.2 410.7,107.6 411.3,110.8 411.9,107.3 412.5,108.0 413.2,109.1 413.8,106.2 414.4,107.3 415.0,106.1 415.6,104.4 416.2,106.0 416.8,107.0 417.4,107.3 418.0,105.0 418.6,104.3 419.2,102.7 419.8,104.7 420.4,102.0 420.9,103.3 421.5,103.5 422.1,102.3 422.7,101.6 423.2,102.3 423.8,101.3"/>
<polyline class="r2" stroke="#a4f99f" points="423.8,101.3 424.4,101.5 424.9,101.4 425.5,100.1 426.0,99.6 426.6,99.3 427.1,100.3 427.7,99.2 428.2,100.8 428.8,99.3 429.3,98.5 429.8,97.2 430.4,98.6 430.9,96.9 431.4,97.3 431.9,99.4 432.5,96.3 433.0,96.2 433.5,93.8 434.0,98.5 434.5,96.2 435.0,96.3 435.6,95.0 436.1,94.9 436.6,94.3 437.1,93.7 437.6,92.9 438.1,93.2 438.6,93.0 439.1,93.8 439.5,92.4 440.0,93.7 440.5,91.6 441.0,92.7 441.5,90.2 442.0,90.5 442.4,90.2 442.9,90.4 443.4,89.3 443.9,89.4 444.3,87.8 444.8,88.2 445.3,85.9 445.7,87.4 446.2,86.8 446.7,87.1 447.1,86.4 447.6,86.9 448.0,86.0 448.5,86.7 448.9,85.3 449.4,86.9 449.8,83.8 450.3,84.8 450.7,83.2 451.2,84.1 451.6,83.1 452.1,84.0 452.5,82.8 452.9,83.3 453.4,81.8 453.8,82.7 454.2,81.3 454.7,82.1 455.1,80.4 455.5,81.7 455.9,80.4 456.4,81.3 456.8,79.6 457.2,80.8 457.6,79.2 458.0,80.0 458.4,78.9 458.9,79.8 459.3,78.6 459.7,80.0 460.1,78.4 460.5,78.5 460.9,76.9 461.3,77.4 461.7,75.5"/>
<polyline class="r3" stroke="#a4f99f" points="461.7,75.5 462.1,78.0 462.5,75.6 462.9,77.1 463.3,75.9 463.7,77.5 464.1,75.5 464.5,76.6 464.9,76.0 465.3,76.7 465.7,75.1 466.1,76.6 466.4,75.1 466.8,75.9 467.2,75.0 467.6,75.7 468.0,74.0 468.4,75.8 468.7,73.8 469.1,75.5 469.5,73.5 469.9,75.0 470.2,74.2 470.6,74.2 471.0,73.1 471.4,74.6 471.7,73.4 472.1,74.3 472.5,72.5 472.8,73.8 473.2,72.6 473.6,73.9 473.9,72.5 474.3,72.8 474.6,72.1 475.0,73.1 475.4,71.2 475.7,72.3 476.1,71.7 476.4,73.0 476.8,71.6 477.1,72.3 477.5,71.7 477.8,73.6 478.2,72.6 478.5,73.0 478.9,72.3 479.2,73.1 479.6,71.7 479.9,72.3 480.2,70.7 480.6,72.0 480.9,70.2 481.3,72.0 481.6,71.1 481.9,72.5 482.3,71.3 482.6,72.9 482.9,70.1 483.3,71.6 483.6,68.5 483.9,70.6 484.3,68.5 484.6,70.8 484.9,70.1 485.3,71.1 485.6,69.1 485.9,70.7 486.2,69.8 486.6,70.4 486.9,69.3 487.2,70.4 487.5,69.4 487.8,70.5 488.2,68.7 488.5,69.8 488.8,68.7 489.1,69.2 489.4,67.8 489.7,69.8 490.1,67.9 490.4,70.1 490.7,68.3 491.0,69.9 491.3,69.0 491.6,69.8 491.9,68.0 492.2,70.0 492.5,68.3 492.8,69.9 493.1,68.5 493.4,69.7 493.8,68.0 494.1,68.7 494.4,67.4 494.7,67.9 495.0,66.8 495.3,67.7 495.6,66.4 495.9,68.6 496.2,67.4 496.4,69.1 496.7,68.6 497.0,69.8 497.3,67.8 497.6,69.3 497.9,67.5 498.2,68.7 498.5,67.2 498.8,68.4 499.1,67.3 499.4,68.3 499.7,67.0 499.9,68.2 500.2,67.5 500.5,67.8 500.8,67.4 501.1,68.6 501.4,67.4 501.7,68.3 501.9,67.8 502.2,68.5 502.5,66.5 502.8,68.3 503.1,67.1 503.3,68.4 503.6,66.4 503.9,67.3 504.2,66.7 504.4,67.7 504.7,66.5 505.0,68.3 505.3,66.4 505.5,68.0 505.8,66.7 506.1,67.6 506.4,66.4 506.6,68.3 506.9,66.5 507.2,68.0 507.4,66.5 507.7,68.7 508.0,67.5 508.2,69.1 508.5,67.0 508.8,69.0 509.0,66.7 509.3,67.7 509.6,66.8 509.8,68.1 510.1,67.2 510.4,68.7 510.6,67.7 510.9,68.4 511.1,67.0 511.4,67.9 511.7,66.9 511.9,67.8 512.2,66.3 512.4,67.6 512.7,66.6 512.9,67.8 513.2,66.8 513.5,67.6 513.7,66.6 514.0,67.4 514.2,66.7 514.5,68.1 514.7,66.6 515.0,67.7 515.2,65.8 515.5,67.2 515.7,66.2 516.0,67.7 516.2,66.8 516.5,68.3 516.7,66.7 517.0,67.4 517.2,67.2 517.5,67.7 517.7,66.5 517.9,67.2 518.2,66.6 518.4,67.3 518.7,66.2 518.9,67.1 519.2,65.8 519.4,67.2 519.6,65.6 519.9,67.6 520.1,65.9 520.4,67.3 520.6,65.7 520.8,67.5 521.1,66.5 521.3,68.5 521.6,67.0 521.8,69.1 522.0,66.2 522.3,67.3 522.5,65.8 522.7,67.2 523.0,66.0 523.2,67.0 523.4,65.4 523.7,67.1 523.9,66.2 524.1,68.0 524.4,66.3 524.6,67.4 524.8,67.0 525.1,67.7 525.3,66.9 525.5,67.8 525.7,66.9 526.0,68.8 526.2,67.3 526.4,68.2 526.7,67.3 526.9,69.5 527.1,66.7 527.3,68.1 527.6,66.6 527.8,68.4 528.0,67.8 528.2,69.2 528.4,68.7 528.7,69.8 528.9,69.6 529.1,70.7 529.3,69.1 529.6,70.3 529.8,69.3 530.0,69.8 530.2,68.5 530.4,70.6 530.7,68.7 530.9,69.9 531.1,69.1 531.3,70.2 531.5,68.7 531.7,70.3 532.0,69.9 532.2,70.8 532.4,69.8 532.6,71.0 532.8,69.8 533.0,70.7 533.2,70.3 533.5,71.9 533.7,70.9 533.9,72.4 534.1,70.3 534.3,71.5 534.5,69.9 534.7,71.6 534.9,70.4 535.2,72.2 535.4,71.5 535.6,73.1 535.8,71.7 536.0,73.6 536.2,72.3 536.4,73.4 536.6,72.5 536.8,73.6 537.0,72.3 537.2,73.3 537.4,71.8 537.6,73.3 537.9,72.1 538.1,73.5 538.3,72.9 538.5,73.9 538.7,73.5 538.9,74.6 539.1,73.4 539.3,74.1 539.5,73.1 539.7,74.5 539.9,73.9 540.1,75.3 540.3,73.9 540.5,75.6 540.7,74.2 540.9,75.8 541.1,75.5 541.3,76.1 541.5,74.9 541.7,76.1 541.9,75.4 542.1,75.6 542.3,74.9 542.5,75.9 542.7,75.1 542.9,76.0 543.1,75.6 543.3,76.5 543.5,75.9 543.7,76.6 543.8,75.0 544.0,76.2 544.2,75.4 544.4,76.7 544.6,76.0 544.8,77.0 545.0,76.6 545.2,78.1 545.4,77.3 545.6,78.7 545.8,77.5 546.0,79.0 546.2,78.1 546.3,79.3 546.5,78.4 546.7,79.5 546.9,78.6 547.1,80.2 547.3,79.0 547.5,79.6 547.7,78.4 547.9,79.4 548.0,77.1 548.2,79.2 548.4,78.2 548.6,80.2 548.8,79.6 549.0,81.1 549.2,79.9 549.3,81.6 549.5,80.1 549.7,81.8 549.9,80.6 550.1,82.7 550.3,82.1 550.5,83.3 550.6,82.8 550.8,83.9 551.0,83.2 551.2,84.5 551.4,83.4 551.6,85.5 551.7,84.3 551.9,85.6 552.1,84.8 552.3,85.3 552.5,84.2 552.6,85.1 552.8,84.1 553.0,85.6 553.2,84.2 553.4,86.3 553.5,85.6 553.7,86.1 553.9,86.2 554.1,86.9 554.2,86.1 554.4,87.6 554.6,87.2 554.8,87.9 555.0,87.3 555.1,89.8 555.3,88.2 555.5,89.6 555.7,88.1 555.8,89.0 556.0,88.3 556.2,90.8 556.4,89.4 556.5,90.9 556.7,90.2 556.9,91.4 557.0,89.4 557.2,90.8 557.4,89.7 557.6,90.8 557.7,90.0 557.9,91.7 558.1,90.2 558.3,92.4 558.4,91.1 558.6,92.4 558.8,90.8 558.9,92.2 559.1,91.2 559.3,92.6 559.4,91.6 559.6,93.7 559.8,92.4"/>
<polyline stroke="#5bf9c7" points="108.7,421.5 127.9,422.0 144.3,420.5 158.7,421.0 171.4,416.0 182.8,410.0 193.2,418.0 202.7,388.3 211.4,378.2 219.6,349.1 227.1,360.5 234.3,354.6 240.9,336.2 247.3,310.9 253.2,303.4 258.9,303.3 264.3,286.5 269.5,227.1 274.4,198.2 279.1,208.5 283.7,252.7 288.0,235.3 292.2,226.2 296.3,225.1 300.2,218.1 304.0,207.4 307.6,196.5 311.1,191.4 314.6,183.4 317.9,182.7 321.1,179.4 324.3,186.5 327.3,182.8 330.3,181.9 333.2,177.4 336.1,174.8 338.8,165.4 341.5,165.2 344.1,162.7 346.7,160.8 349.2,170.3 351.7,162.8 354.1,154.5 356.5,148.2 358.8,149.7 361.0,141.2"/>
<polyline class="r" stroke="#5bf9c7" points="361.0,141.2 363.2,139.1 365.4,138.9 367.6,133.5 369.7,125.8 371.7,127.2 373.7,128.5 375.7,122.8 377.7,124.7 377.8,124.6 378.7,120.3 379.5,121.3 380.3,122.2 381.2,122.6 382.0,117.3 382.8,119.1 383.6,120.9 384.4,121.2 385.2,121.0 386.0,119.3 386.8,120.1 387.6,119.1 388.3,118.9 389.1,120.6 389.9,120.1 390.6,121.9 391.4,120.6 392.1,118.5 392.9,122.3 393.6,117.8 394.3,117.7 395.1,117.5 395.8,121.5 396.5,116.1 397.2,122.5 397.9,116.6 398.7,117.5 399.4,120.1 400.1,122.9 400.7,116.4 401.4,115.2 402.1,118.6 402.8,119.9 403.5,111.9 404.1,114.3 404.8,120.2 405.5,115.4 406.1,111.9 406.8,116.2 407.5,113.2 408.1,115.0 408.7,117.4 409.4,111.4 410.0,110.8 410.7,112.3 411.3,112.1 411.9,111.2 412.5,106.5 413.2,112.0 413.8,108.1 414.4,109.2 415.0,109.2 415.6,106.0 416.2,105.0 416.8,104.8 417.4,106.1 418.0,103.7 418.6,103.0 419.2,102.8 419.8,102.2 420.4,100.1 420.9,100.2 421.5,102.1 422.1,100.5 422.7,99.5 423.2,100.9 423.8,101.1"/>
<polyline class="r2" stroke="#5bf9c7" points="423.8,101.1 424.4,99.2 424.9,97.3 425.5,97.8 426.0,95.4 426.6,97.8 427.1,96.6 427.7,94.7 428.2,95.7 428.8,96.6 429.3,95.1 429.8,93.9 430.4,93.7 430.9,93.8 431.4,94.2 431.9,95.6 432.5,93.7 433.0,93.3 433.5,91.6 434.0,92.1 434.5,92.4 435.0,90.9 435.6,90.8 436.1,89.8 436.6,89.8 437.1,91.8 437.6,89.7 438.1,90.6 438.6,88.3 439.1,88.6 439.5,87.6 440.0,88.1 440.5,86.5 441.0,89.0 441.5,87.4 442.0,89.1 442.4,87.1 442.9,87.8 443.4,86.7 443.9,86.8 444.3,85.1 444.8,86.1 445.3,85.5 445.7,85.5 446.2,83.9 446.7,85.0 447.1,84.2 447.6,85.0 448.0,83.9 448.5,84.7 448.9,83.5 449.4,84.5 449.8,83.8 450.3,83.9 450.7,83.1 451.2,83.7 451.6,82.9 452.1,83.0 452.5,81.6 452.9,81.9 453.4,80.4 453.8,81.4 454.2,79.7 454.7,80.6 455.1,79.4 455.5,81.2 455.9,79.9 456.4,81.0 456.8,79.5 457.2,81.6 457.6,79.9 458.0,79.9 458.4,79.2 458.9,79.6 459.3,78.1 459.7,79.1 460.1,78.3 460.5,78.6 460.9,77.5 461.3,78.9 461.7,77.4"/>
<polyline class="r3" stroke="#5bf9c7" points="461.7,77.4 462.1,78.7 462.5,77.2 462.9,77.8 463.3,76.8 463.7,77.7 464.1,75.9 464.5,77.5 464.9,76.3 465.3,77.6 465.7,75.5 466.1,77.8 466.4,75.0 466.8,75.8 467.2,73.9 467.6,74.5 468.0,73.3 468.4,74.4 468.7,73.5 469.1,75.2 469.5,74.0 469.9,74.9 470.2,73.6 470.6,74.8 471.0,73.4 471.4,74.2 471.7,72.0 472.1,73.6 472.5,72.2 472.8,73.7 473.2,71.6 473.6,72.9 473.9,71.6 474.3,72.9 474.6,71.9 475.0,73.3 475.4,71.9 475.7,73.1 476.1,70.9 476.4,72.4 476.8,70.3 477.1,71.9 477.5,70.6 477.8,71.9 478.2,70.4 478.5,71.8 478.9,69.3 479.2,71.3 479.6,69.5 479.9,70.6 480.2,68.6 480.6,70.4 480.9,69.4 481.3,70.3 481.6,69.0 481.9,70.4 482.3,69.3 482.6,70.3 482.9,69.6 483.3,70.3 483.6,68.9 483.9,69.7 484.3,68.8 484.6,69.5 484.9,68.0 485.3,69.5 485.6,67.7 485.9,69.3 486.2,67.6 486.6,69.1 486.9,68.3 487.2,69.3 487.5,67.5 487.8,69.0 488.2,66.8 488.5,68.6 488.8,65.7 489.1,67.9 489.4,66.5 489.7,68.2 490.1,67.5 490.4,69.1 490.7,67.4 491.0,69.5 491.3,66.9 491.6,68.9 491.9,66.1 492.2,67.6 492.5,66.4 492.8,67.6 493.1,66.7 493.4,67.9 493.8,66.7 494.1,67.5 494.4,65.7 494.7,67.1 495.0,66.7 495.3,68.1 495.6,66.2 495.9,67.0 496.2,66.1 496.4,66.6 496.7,65.0 497.0,67.3 497.3,65.9 497.6,67.5 497.9,66.3 498.2,67.2 498.5,66.1 498.8,67.4 499.1,65.8 499.4,67.3 499.7,66.4 499.9,67.0 500.2,65.9 500.5,67.1 500.8,64.7 501.1,65.8 501.4,64.6 501.7,66.1 501.9,65.5 502.2,66.8 502.5,66.7 502.8,68.3 503.1,66.1 503.3,67.6 503.6,66.2 503.9,67.7 504.2,65.6 504.4,67.2 504.7,65.8 505.0,67.0 505.3,65.5 505.5,66.7 505.8,65.7 506.1,67.0 506.4,65.8 506.6,66.6 506.9,65.5 507.2,66.2 507.4,64.5 507.7,65.4 508.0,64.2 508.2,65.5 508.5,64.4 508.8,66.6 509.0,64.5 509.3,65.1 509.6,64.9 509.8,66.3 510.1,65.1 510.4,66.7 510.6,66.1 510.9,67.3 511.1,65.8 511.4,66.7 511.7,65.4 511.9,66.4 512.2,65.0 512.4,67.0 512.7,65.3 512.9,66.3 513.2,66.0 513.5,66.8 513.7,64.9 514.0,65.5 514.2,64.2 514.5,65.8 514.7,64.3 515.0,65.9 515.2,64.8 515.5,66.1 515.7,65.3 516.0,66.3 516.2,65.2 516.5,67.0 516.7,65.5 517.0,66.8 517.2,64.8 517.5,66.1 517.7,65.3 517.9,66.0 518.2,64.8 518.4,66.0 518.7,64.5 518.9,66.2 519.2,64.0 519.4,66.0 519.6,65.1 519.9,66.8 520.1,65.4 520.4,66.6 520.6,64.4 520.8,66.1 521.1,64.3 521.3,66.8 521.6,65.1 521.8,66.0 522.0,64.7 522.3,65.3 522.5,64.8 522.7,66.2 523.0,64.8 523.2,66.0 523.4,65.2 523.7,66.3 523.9,65.6 524.1,66.9 524.4,65.5 524.6,66.7 524.8,65.5 525.1,66.1 525.3,65.0 525.5,66.2 525.7,65.5 526.0,67.3 526.2,65.6 526.4,67.2 526.7,66.3 526.9,67.1 527.1,65.6 527.3,67.8 527.6,67.0 527.8,68.2 528.0,67.2 528.2,68.9 528.4,67.7 528.7,68.6 528.9,67.2 529.1,69.1 529.3,67.7 529.6,69.2 529.8,67.2 530.0,68.9 530.2,67.3 530.4,68.3 530.7,67.3 530.9,68.9 531.1,67.6 531.3,68.9 531.5,67.8 531.7,69.1 532.0,68.2 532.2,69.3 532.4,68.1 532.6,70.1 532.8,68.4 533.0,69.3 533.2,68.8 533.5,70.1 533.7,69.1 533.9,70.7 534.1,69.0 534.3,69.7 534.5,68.7 534.7,69.7 534.9,69.5 535.2,70.6 535.4,69.9 535.6,71.8 535.8,70.6 536.0,71.5 536.2,71.6 536.4,72.5 536.6,71.1 536.8,72.1 537.0,71.7 537.2,72.5 537.4,71.2 537.6,72.7 537.9,72.0 538.1,74.3 538.3,71.6 538.5,73.2 538.7,71.6 538.9,73.9 539.1,72.3 539.3,73.9 539.5,72.7 539.7,74.7 539.9,72.8 540.1,74.3 540.3,73.2 540.5,74.6 540.7,73.8 540.9,74.6 541.1,73.4 541.3,74.9 541.5,73.5 541.7,74.3 541.9,73.1 542.1,74.8 542.3,74.0 542.5,75.4 542.7,74.2 542.9,75.8 543.1,74.1 543.3,75.9 543.5,75.4 543.7,77.3 543.8,76.7 544.0,78.2 544.2,75.5 544.4,77.6 544.6,76.2 544.8,76.7 545.0,76.1 545.2,77.5 545.4,76.2 545.6,77.4 545.8,77.4 546.0,77.8 546.2,77.3 546.3,78.8 546.5,76.8 546.7,77.8 546.9,77.0 547.1,79.0 547.3,77.1 547.5,79.1 547.7,78.5 547.9,80.3 548.0,78.2 548.2,79.5 548.4,78.4 548.6,80.0 548.8,79.0 549.0,80.8 549.2,80.3 549.3,81.5 549.5,79.8 549.7,82.2 549.9,80.9 550.1,81.5 550.3,80.8 550.5,82.2 550.6,81.2 550.8,82.2 551.0,81.5 551.2,82.2 551.4,81.3 551.6,83.2 551.7,81.2 551.9,82.8 552.1,82.3 552.3,84.1 552.5,82.4 552.6,84.6 552.8,83.8 553.0,84.5 553.2,83.4 553.4,85.6 553.5,84.0 553.7,85.4 553.9,85.0 554.1,86.5 554.2,85.4 554.4,87.1 554.6,86.2 554.8,87.6 555.0,86.6 555.1,88.4 555.3,86.9 555.5,89.4 555.7,87.8 555.8,89.4 556.0,88.1 556.2,90.0 556.4,88.2 556.5,89.6 556.7,89.1 556.9,90.4 557.0,88.9 557.2,89.9 557.4,88.4 557.6,90.0 557.7,88.9 557.9,91.4 558.1,90.8 558.3,92.4 558.4,91.5 558.6,92.5 558.8,91.0 558.9,93.6 559.1,92.4 559.3,93.3 559.4,91.9 559.6,93.4 559.8,92.9"/>
<polyline stroke="#12c7e6" points="108.7,422.0 127.9,421.0 144.3,421.5 158.7,419.0 171.4,421.0 182.8,417.0 193.2,420.0 202.7,375.0 211.4,392.5 219.6,385.2 227.1,366.0 234.3,358.8 240.9,340.9 247.3,322.7 253.2,294.9 258.9,291.8 264.3,285.9 269.5,229.8 274.4,203.0 279.1,190.0 283.7,180.7 288.0,222.0 292.2,256.0 296.3,232.0 300.2,215.3 304.0,216.5 307.6,192.6 311.1,191.1 314.6,185.4 317.9,183.1 321.1,177.2 324.3,177.6 327.3,182.7 330.3,166.2 333.2,178.0 336.1,176.7 338.8,169.9 341.5,167.3 344.1,160.5 346.7,169.6 349.2,165.7 351.7,167.2 354.1,154.1 356.5,148.0 358.8,145.9 361.0,144.4"/>
<polyline class="r" stroke="#12c7e6" points="361.0,144.4 363.2,134.7 365.4,133.1 367.6,129.2 369.7,131.8 371.7,125.7 373.7,123.9 375.7,122.2 377.7,128.4 377.8,127.9 378.7,125.0 379.5,120.4 380.3,127.2 381.2,124.7 382.0,127.8 382.8,129.6 383.6,123.2 384.4,121.4 385.2,123.3 386.0,124.8 386.8,120.9 387.6,117.0 388.3,120.3 389.1,122.0 389.9,122.7 390.6,120.5 391.4,123.3 392.1,115.2 392.9,122.8 393.6,117.4 394.3,119.7 395.1,119.6 395.8,115.3 396.5,118.8 397.2,117.6 397.9,117.3 398.7,114.7 399.4,119.1 400.1,116.7 400.7,110.2 401.4,110.5 402.1,118.5 402.8,115.9 403.5,113.4 404.1,110.5 404.8,107.9 405.5,108.6 406.1,107.2 406.8,109.0 407.5,108.2 408.1,104.1 408.7,109.0 409.4,107.3 410.0,105.8 410.7,106.4 411.3,106.2 411.9,105.3 412.5,106.8 413.2,104.9 413.8,103.2 414.4,103.8 415.0,102.2 415.6,104.2 416.2,102.6 416.8,102.0 417.4,103.5 418.0,100.4 418.6,101.2 419.2,104.0 419.8,99.9 420.4,102.5 420.9,98.8 421.5,98.9 422.1,99.0 422.7,100.9 423.2,97.9 423.8,98.7"/>
<polyline class="r2" stroke="#12c7e6" points="423.8,98.7 424.4,99.3 424.9,97.9 425.5,97.5 426.0,96.8 426.6,96.1 427.1,97.0 427.7,95.6 428.2,94.8 428.8,99.0 429.3,94.9 429.8,95.1 430.4,94.3 430.9,94.5 431.4,94.0 431.9,94.4 432.5,94.4 433.0,94.7 433.5,94.0 434.0,93.6 434.5,93.3 435.0,95.0 435.6,92.6 436.1,94.5 436.6,92.4 437.1,91.6 437.6,91.6 438.1,91.3 438.6,90.8 439.1,90.8 439.5,89.9 440.0,89.9 440.5,87.8 441.0,88.5 441.5,87.3 442.0,88.0 442.4,87.4 442.9,88.2 443.4,86.6 443.9,87.2 444.3,86.4 444.8,86.5 445.3,85.4 445.7,85.2 446.2,84.2 446.7,84.5 447.1,83.6 447.6,84.0 448.0,83.3 448.5,83.8 448.9,83.0 449.4,83.5 449.8,82.2 450.3,82.8 450.7,81.0 451.2,81.9 451.6,81.0 452.1,82.6 452.5,80.7 452.9,81.3 453.4,80.5 453.8,81.2 454.2,79.9 454.7,80.5 455.1,79.2 455.5,79.8 455.9,78.1 456.4,79.0 456.8,77.5 457.2,78.8 457.6,77.5 458.0,79.0 458.4,77.2 458.9,78.7 459.3,76.5 459.7,77.4 460.1,76.0 460.5,76.6 460.9,75.1 461.3,77.2 461.7,75.6"/>
<polyline class="r3" stroke="#12c7e6" points="461.7,75.6 462.1,77.1 462.5,75.8 462.9,76.9 463.3,75.0 463.7,75.9 464.1,74.4 464.5,74.9 464.9,74.0 465.3,74.8 465.7,72.9 466.1,74.2 466.4,73.5 466.8,74.1 467.2,73.5 467.6,74.7 468.0,72.6 468.4,74.1 468.7,72.7 469.1,74.4 469.5,72.8 469.9,74.3 470.2,73.2 470.6,74.5 471.0,71.7 471.4,73.0 471.7,71.9 472.1,73.0 472.5,72.2 472.8,72.6 473.2,71.0 473.6,73.1 473.9,71.1 474.3,72.7 474.6,71.5 475.0,72.1 475.4,71.3 475.7,72.3 476.1,70.3 476.4,71.9 476.8,70.9 477.1,71.4 477.5,69.7 477.8,70.4 478.2,68.9 478.5,71.1 478.9,68.8 479.2,70.5 479.6,69.5 479.9,70.1 480.2,68.9 480.6,70.7 480.9,69.1 481.3,70.2 481.6,68.9 481.9,69.1 482.3,67.7 482.6,68.3 482.9,67.4 483.3,68.4 483.6,68.1 483.9,69.0 484.3,67.8 484.6,68.7 484.9,67.2 485.3,68.5 485.6,67.7 485.9,68.7 486.2,66.6 486.6,67.9 486.9,66.3 487.2,67.6 487.5,65.0 487.8,67.3 488.2,66.6 488.5,68.2 488.8,65.9 489.1,67.6 489.4,66.6 489.7,67.3 490.1,66.3 490.4,67.8 490.7,65.3 491.0,66.9 491.3,65.7 491.6,66.9 491.9,65.5 492.2,67.0 492.5,65.9 492.8,67.4 493.1,66.3 493.4,66.8 493.8,64.9 494.1,66.1 494.4,64.7 494.7,65.2 495.0,64.4 495.3,65.4 495.6,64.9 495.9,66.6 496.2,65.4 496.4,67.0 496.7,65.4 497.0,65.3 497.3,64.5 497.6,64.9 497.9,63.3 498.2,64.9 498.5,64.6 498.8,65.8 499.1,65.2 499.4,65.6 499.7,64.5 499.9,65.9 500.2,64.4 500.5,66.3 500.8,65.2 501.1,65.7 501.4,64.6 501.7,66.2 501.9,64.2 502.2,65.4 502.5,64.2 502.8,66.3 503.1,64.6 503.3,65.6 503.6,64.6 503.9,65.4 504.2,64.5 504.4,65.8 504.7,65.0 505.0,65.7 505.3,64.2 505.5,65.8 505.8,64.3 506.1,65.6 506.4,63.8 506.6,65.1 506.9,64.0 507.2,65.0 507.4,63.9 507.7,64.9 508.0,63.9 508.2,64.8 508.5,64.3 508.8,65.6 509.0,64.6 509.3,65.5 509.6,64.9 509.8,65.6 510.1,64.6 510.4,66.3 510.6,64.8 510.9,65.9 511.1,64.8 511.4,66.3 511.7,65.3 511.9,66.4 512.2,65.9 512.4,66.3 512.7,65.4 512.9,66.6 513.2,64.7 513.5,66.0 513.7,65.3 514.0,66.2 514.2,65.4 514.5,65.9 514.7,64.5 515.0,65.8 515.2,64.2 515.5,65.7 515.7,64.9 516.0,65.8 516.2,65.3 516.5,65.8 516.7,63.2 517.0,65.4 517.2,64.3 517.5,65.4 517.7,64.6 517.9,66.0 518.2,64.6 518.4,66.4 518.7,64.8 518.9,66.0 519.2,64.7 519.4,66.0 519.6,64.4 519.9,65.4 520.1,65.1 520.4,66.1 520.6,65.3 520.8,67.4 521.1,65.8 521.3,66.7 521.6,65.3 521.8,66.4 522.0,65.0 522.3,66.5 522.5,64.6 522.7,66.1 523.0,64.5 523.2,66.4 523.4,65.3 523.7,66.3 523.9,65.1 524.1,67.0 524.4,65.9 524.6,66.9 524.8,66.1 525.1,67.2 525.3,66.2 525.5,66.4 525.7,65.3 526.0,66.3 526.2,65.7 526.4,67.2 526.7,66.5 526.9,68.0 527.1,66.1 527.3,67.2 527.6,66.1 527.8,67.0 528.0,66.9 528.2,67.7 528.4,67.4 528.7,67.8 528.9,67.2 529.1,67.8 529.3,67.2 529.6,67.6 529.8,66.4 530.0,68.1 530.2,66.4 530.4,68.6 530.7,67.7 530.9,68.6 531.1,67.2 531.3,68.8 531.5,67.2 531.7,69.0 532.0,68.6 532.2,69.6 532.4,68.6 532.6,70.3 532.8,69.1 533.0,70.2 533.2,68.4 533.5,69.9 533.7,68.2 533.9,70.2 534.1,67.7 534.3,69.2 534.5,67.1 534.7,69.4 534.9,68.0 535.2,69.5 535.4,68.1 535.6,70.2 535.8,68.5 536.0,70.5 536.2,70.3 536.4,71.0 536.6,70.0 536.8,71.1 537.0,70.0 537.2,70.4 537.4,69.3 537.6,71.4 537.9,69.7 538.1,71.7 538.3,71.2 538.5,72.3 538.7,70.9 538.9,72.5 539.1,71.4 539.3,72.3 539.5,70.6 539.7,71.6 539.9,70.5 540.1,72.3 540.3,71.0 540.5,73.3 540.7,71.9 540.9,73.3 541.1,72.0 541.3,73.6 541.5,71.9 541.7,72.9 541.9,72.2 542.1,74.2 542.3,72.2 542.5,73.7 542.7,73.4 542.9,74.3 543.1,73.9 543.3,75.4 543.5,74.0 543.7,75.3 543.8,74.0 544.0,75.1 544.2,73.9 544.4,74.9 544.6,73.6 544.8,74.7 545.0,74.7 545.2,76.0 545.4,74.4 545.6,75.4 545.8,74.5 546.0,75.6 546.2,74.8 546.3,76.4 546.5,75.8 546.7,77.5 546.9,75.8 547.1,77.3 547.3,76.4 547.5,77.0 547.7,76.2 547.9,77.1 548.0,76.1 548.2,78.0 548.4,77.4 548.6,78.8 548.8,77.8 549.0,79.7 549.2,78.4 549.3,79.4 549.5,77.7 549.7,78.9 549.9,78.1 550.1,80.2 550.3,78.6 550.5,80.3 550.6,79.6 550.8,80.8 551.0,79.8 551.2,82.6 551.4,81.1 551.6,82.2 551.7,81.5 551.9,83.4 552.1,82.0 552.3,83.3 552.5,82.7 552.6,84.0 552.8,83.2 553.0,84.4 553.2,82.9 553.4,84.3 553.5,83.2 553.7,85.0 553.9,84.2 554.1,85.0 554.2,84.9 554.4,85.7 554.6,84.4 554.8,85.4 555.0,85.2 555.1,86.0 555.3,85.1 555.5,87.0 555.7,86.2 555.8,87.2 556.0,86.0 556.2,87.0 556.4,86.3 556.5,87.3 556.7,86.4 556.9,88.2 557.0,87.6 557.2,88.6 557.4,87.9 557.6,89.3 557.7,88.6 557.9,90.0 558.1,88.6 558.3,90.6 558.4,89.7 558.6,91.5 558.8,89.8 558.9,92.0 559.1,90.3 559.3,92.0 559.4,90.5 559.6,92.0 559.8,91.2"/>
<polyline stroke="#006ff9" points="108.7,417.0 127.9,415.1 144.3,420.0 158.7,409.7 171.4,414.2 182.8,420.5 193.2,421.0 202.7,401.4 211.4,384.9 219.6,382.3 227.1,381.0 234.3,358.9 240.9,338.7 247.3,330.7 253.2,323.4 258.9,295.5 264.3,281.5 269.5,268.0 274.4,196.0 279.1,203.0 283.7,240.0 288.0,226.0 292.2,222.0 296.3,205.0 300.2,212.0 304.0,200.0 307.6,203.5 311.1,179.5 314.6,176.4 317.9,184.3 321.1,175.4 324.3,184.9 327.3,183.3 330.3,179.6 333.2,181.6 336.1,176.6 338.8,170.2 341.5,156.9 344.1,158.0 346.7,159.5 349.2,164.0 351.7,158.9 354.1,151.4 356.5,151.8 358.8,146.1 361.0,137.0"/>
<polyline class="r" stroke="#006ff9" points="361.0,137.0 363.2,142.9 365.4,144.6 367.6,132.9 369.7,136.2 371.7,125.3 373.7,125.9 375.7,121.3 377.7,127.2 377.8,120.8 378.7,119.3 379.5,123.5 380.3,123.1 381.2,120.1 382.0,123.4 382.8,123.3 383.6,123.1 384.4,123.5 385.2,114.2 386.0,119.6 386.8,117.4 387.6,123.4 388.3,119.3 389.1,117.1 389.9,118.5 390.6,116.7 391.4,115.5 392.1,117.6 392.9,111.5 393.6,113.6 394.3,116.8 395.1,115.4 395.8,118.0 396.5,111.9 397.2,111.3 397.9,114.3 398.7,115.0 399.4,116.1 400.1,117.3 400.7,112.2 401.4,115.5 402.1,114.6 402.8,115.3 403.5,119.1 404.1,111.8 404.8,115.6 405.5,113.9 406.1,111.6 406.8,110.1 407.5,111.3 408.1,113.9 408.7,114.9 409.4,111.3 410.0,111.2 410.7,111.5 411.3,109.5 411.9,108.2 412.5,109.0 413.2,110.5 413.8,108.7 414.4,106.7 415.0,109.7 415.6,106.6 416.2,105.7 416.8,104.3 417.4,102.8 418.0,102.5 418.6,102.4 419.2,103.4 419.8,100.5 420.4,99.8 420.9,100.1 421.5,96.8 422.1,97.0 422.7,97.5 423.2,96.6 423.8,94.7"/>
<polyline class="r2" stroke="#006ff9" points="423.8,94.7 424.4,94.9 424.9,94.1 425.5,92.1 426.0,93.1 426.6,93.0 427.1,92.5 427.7,91.5 428.2,91.6 428.8,90.3 429.3,91.7 429.8,94.1 430.4,92.2 430.9,90.8 431.4,92.5 431.9,92.2 432.5,92.3 433.0,92.0 433.5,92.9 434.0,92.0 434.5,91.9 435.0,92.7 435.6,92.1 436.1,93.6 436.6,91.7 437.1,92.2 437.6,92.1 438.1,91.9 438.6,91.4 439.1,92.8 439.5,91.3 440.0,92.1 440.5,91.0 441.0,91.1 441.5,87.8 442.0,90.0 442.4,89.1 442.9,90.1 443.4,87.4 443.9,89.4 444.3,86.9 444.8,88.2 445.3,85.9 445.7,86.4 446.2,85.2 446.7,85.3 447.1,83.0 447.6,84.0 448.0,82.4 448.5,83.3 448.9,81.7 449.4,81.7 449.8,80.3 450.3,82.1 450.7,79.5 451.2,80.7 451.6,79.5 452.1,79.4 452.5,77.6 452.9,78.7 453.4,77.0 453.8,77.6 454.2,76.0 454.7,77.1 455.1,76.5 455.5,76.9 455.9,75.0 456.4,75.4 456.8,74.1 457.2,74.8 457.6,73.5 458.0,75.2 458.4,74.6 458.9,75.3 459.3,74.2 459.7,75.5 460.1,74.2 460.5,74.6 460.9,73.4 461.3,74.6 461.7,73.6"/>
<polyline class="r3" stroke="#006ff9" points="461.7,73.6 462.1,74.2 462.5,74.3 462.9,75.3 463.3,74.4 463.7,75.3 464.1,74.3 464.5,74.7 464.9,74.4 465.3,74.9 465.7,74.2 466.1,75.3 466.4,74.5 466.8,75.3 467.2,74.1 467.6,75.4 468.0,73.9 468.4,74.9 468.7,73.3 469.1,75.2 469.5,72.5 469.9,74.3 470.2,73.2 470.6,74.4 471.0,73.2 471.4,75.0 471.7,74.1 472.1,74.7 472.5,73.1 472.8,74.0 473.2,72.7 473.6,72.8 473.9,71.8 474.3,73.3 474.6,70.8 475.0,72.3 475.4,71.6 475.7,71.8 476.1,70.7 476.4,71.9 476.8,70.3 477.1,71.7 477.5,69.8 477.8,71.7 478.2,69.3 478.5,70.8 478.9,69.2 479.2,70.6 479.6,69.4 479.9,70.8 480.2,69.1 480.6,70.2 480.9,68.4 481.3,69.2 481.6,67.6 481.9,69.4 482.3,67.6 482.6,68.3 482.9,67.0 483.3,67.6 483.6,66.2 483.9,67.3 484.3,66.2 484.6,67.1 484.9,65.8 485.3,66.4 485.6,65.7 485.9,66.2 486.2,65.1 486.6,65.9 486.9,64.6 487.2,65.4 487.5,64.2 487.8,66.5 488.2,65.4 488.5,67.3 488.8,66.3 489.1,66.5 489.4,65.1 489.7,65.7 490.1,63.9 490.4,64.9 490.7,64.2 491.0,65.3 491.3,64.6 491.6,65.6 491.9,64.3 492.2,64.7 492.5,63.3 492.8,64.3 493.1,63.4 493.4,65.1 493.8,63.9 494.1,66.4 494.4,64.9 494.7,66.2 495.0,65.5 495.3,66.4 495.6,65.2 495.9,66.1 496.2,64.9 496.4,65.6 496.7,64.4 497.0,65.9 497.3,64.9 497.6,66.2 497.9,65.0 498.2,66.0 498.5,64.5 498.8,65.5 499.1,64.6 499.4,65.6 499.7,64.8 499.9,65.9 500.2,64.5 500.5,66.9 500.8,65.1 501.1,66.5 501.4,64.2 501.7,65.9 501.9,64.8 502.2,65.7 502.5,65.1 502.8,66.6 503.1,65.2 503.3,66.3 503.6,65.3 503.9,65.5 504.2,63.6 504.4,65.6 504.7,64.1 505.0,64.5 505.3,64.2 505.5,65.1 505.8,64.2 506.1,65.6 506.4,64.5 506.6,65.7 506.9,64.1 507.2,64.5 507.4,64.0 507.7,65.3 508.0,64.0 508.2,65.1 508.5,64.7 508.8,65.2 509.0,63.6 509.3,65.2 509.6,63.9 509.8,65.0 510.1,64.2 510.4,65.3 510.6,63.9 510.9,65.3 511.1,63.7 511.4,65.0 511.7,63.2 511.9,64.8 512.2,63.0 512.4,64.5 512.7,63.1 512.9,64.3 513.2,62.3 513.5,63.4 513.7,62.6 514.0,63.6 514.2,62.2 514.5,62.9 514.7,62.4 515.0,63.6 515.2,62.2 515.5,63.6 515.7,63.0 516.0,63.9 516.2,62.6 516.5,63.7 516.7,62.7 517.0,64.4 517.2,63.5 517.5,64.2 517.7,62.7 517.9,64.8 518.2,63.1 518.4,63.9 518.7,63.2 518.9,64.0 519.2,62.8 519.4,63.4 519.6,63.3 519.9,64.7 520.1,63.9 520.4,65.4 520.6,63.6 520.8,65.7 521.1,64.2 521.3,65.7 521.6,64.2 521.8,65.3 522.0,64.1 522.3,65.3 522.5,64.5 522.7,65.8 523.0,64.9 523.2,66.0 523.4,64.1 523.7,66.2 523.9,65.0 524.1,65.9 524.4,65.2 524.6,66.2 524.8,65.1 525.1,65.9 525.3,64.5 525.5,65.7 525.7,65.3 526.0,66.6 526.2,65.6 526.4,66.7 526.7,65.7 526.9,66.5 527.1,65.5 527.3,66.6 527.6,65.4 527.8,67.4 528.0,66.1 528.2,67.2 528.4,66.1 528.7,67.6 528.9,66.4 529.1,67.5 529.3,66.9 529.6,68.9 529.8,67.1 530.0,69.4 530.2,67.7 530.4,69.7 530.7,68.1 530.9,69.1 531.1,68.6 531.3,69.8 531.5,68.7 531.7,69.6 532.0,67.9 532.2,68.8 532.4,67.8 532.6,68.9 532.8,68.3 533.0,68.9 533.2,68.4 533.5,69.3 533.7,68.0 533.9,69.1 534.1,68.7 534.3,70.0 534.5,69.0 534.7,69.8 534.9,68.8 535.2,69.5 535.4,68.9 535.6,70.5 535.8,69.8 536.0,70.1 536.2,69.3 536.4,70.1 536.6,69.5 536.8,70.3 537.0,69.2 537.2,70.5 537.4,69.4 537.6,70.1 537.9,69.3 538.1,71.4 538.3,70.4 538.5,71.5 538.7,70.9 538.9,71.6 539.1,70.1 539.3,71.3 539.5,71.0 539.7,72.2 539.9,71.6 540.1,73.0 540.3,71.9 540.5,72.9 540.7,71.6 540.9,72.9 541.1,70.7 541.3,73.3 541.5,72.3 541.7,74.1 541.9,72.5 542.1,74.1 542.3,72.7 542.5,73.5 542.7,73.0 542.9,74.1 543.1,73.3 543.3,76.0 543.5,74.1 543.7,75.5 543.8,75.1 544.0,76.4 544.2,74.2 544.4,75.7 544.6,73.4 544.8,75.5 545.0,74.5 545.2,76.0 545.4,75.4 545.6,77.0 545.8,75.5 546.0,77.2 546.2,76.0 546.3,76.7 546.5,75.1 546.7,76.7 546.9,76.2 547.1,77.0 547.3,76.3 547.5,78.2 547.7,77.1 547.9,78.4 548.0,77.7 548.2,78.3 548.4,77.4 548.6,78.7 548.8,77.6 549.0,78.6 549.2,77.8 549.3,79.2 549.5,78.1 549.7,79.4 549.9,79.0 550.1,80.1 550.3,78.6 550.5,81.0 550.6,79.5 550.8,81.2 551.0,79.9 551.2,81.6 551.4,81.3 551.6,82.5 551.7,80.6 551.9,82.6 552.1,81.7 552.3,82.5 552.5,81.8 552.6,83.2 552.8,82.7 553.0,84.4 553.2,84.1 553.4,85.1 553.5,84.4 553.7,85.3 553.9,83.7 554.1,85.3 554.2,84.2 554.4,85.6 554.6,84.2 554.8,85.8 555.0,84.0 555.1,86.3 555.3,85.2 555.5,86.8 555.7,86.3 555.8,87.8 556.0,86.5 556.2,87.8 556.4,86.9 556.5,88.7 556.7,87.5 556.9,88.7 557.0,87.9 557.2,89.1 557.4,88.2 557.6,89.5 557.7,88.4 557.9,89.3 558.1,87.8 558.3,89.5 558.4,88.7 558.6,90.3 558.8,89.9 558.9,91.3 559.1,89.9 559.3,92.0 559.4,90.9 559.6,92.7 559.8,90.6"/>
<polyline stroke="#0000ff" points="108.7,420.3 127.9,413.3 144.3,418.7 158.7,420.8 171.4,413.3 182.8,420.5 193.2,422.3 202.7,388.1 211.4,395.3 219.6,398.0 227.1,382.2 234.3,366.2 240.9,344.1 247.3,327.9 253.2,307.3 258.9,291.2 264.3,274.2 269.5,278.0 274.4,198.4 279.1,199.5 283.7,248.3 288.0,227.5 292.2,230.6 296.3,223.4 300.2,230.6 304.0,212.0 307.6,194.3 311.1,184.9 314.6,178.8 317.9,167.1 321.1,186.8 324.3,180.3 327.3,174.5 330.3,174.7 333.2,179.5 336.1,173.7 338.8,165.0 341.5,163.5 344.1,160.0 346.7,165.4 349.2,166.4 351.7,153.5 354.1,151.0 356.5,151.5 358.8,140.6 361.0,144.9"/>
<polyline class="r" stroke="#0000ff" points="361.0,144.9 363.2,136.9 365.4,134.2 367.6,132.9 369.7,122.6 371.7,128.9 373.7,125.1 375.7,123.8 377.7,121.1 377.8,124.7 378.7,123.9 379.5,122.5 380.3,119.9 381.2,123.6 382.0,122.1 382.8,120.5 383.6,127.8 384.4,119.6 385.2,118.4 386.0,120.8 386.8,121.8 387.6,123.2 388.3,119.8 389.1,121.3 389.9,121.3 390.6,117.5 391.4,116.8 392.1,118.9 392.9,115.0 393.6,117.7 394.3,118.1 395.1,122.0 395.8,120.9 396.5,112.8 397.2,119.7 397.9,117.6 398.7,118.6 399.4,115.2 400.1,112.7 400.7,113.8 401.4,113.2 402.1,116.0 402.8,112.9 403.5,112.6 404.1,110.3 404.8,114.0 405.5,110.2 406.1,110.5 406.8,110.4 407.5,111.6 408.1,111.1 408.7,109.1 409.4,106.9 410.0,107.0 410.7,109.7 411.3,106.0 411.9,106.3 412.5,104.7 413.2,105.1 413.8,102.7 414.4,105.2 415.0,104.1 415.6,104.0 416.2,102.5 416.8,100.8 417.4,99.1 418.0,99.9 418.6,99.2 419.2,98.4 419.8,99.3 420.4,99.3 420.9,96.8 421.5,97.6 422.1,96.8 422.7,97.6 423.2,96.3 423.8,94.2"/>
<polyline class="r2" stroke="#0000ff" points="423.8,94.2 424.4,95.0 424.9,94.4 425.5,95.9 426.0,93.8 426.6,95.7 427.1,94.2 427.7,93.9 428.2,94.5 428.8,93.2 429.3,92.4 429.8,91.4 430.4,89.4 430.9,91.7 431.4,92.6 431.9,90.1 432.5,91.4 433.0,90.1 433.5,89.4 434.0,90.7 434.5,90.3 435.0,89.6 435.6,89.5 436.1,88.8 436.6,88.3 437.1,90.6 437.6,87.6 438.1,88.8 438.6,86.9 439.1,88.7 439.5,88.2 440.0,89.7 440.5,86.7 441.0,87.4 441.5,86.3 442.0,86.4 442.4,84.8 442.9,86.3 443.4,85.2 443.9,86.3 444.3,85.1 444.8,85.0 445.3,84.1 445.7,84.7 446.2,84.1 446.7,84.3 447.1,83.4 447.6,84.1 448.0,82.5 448.5,83.6 448.9,82.9 449.4,83.5 449.8,82.5 450.3,84.2 450.7,81.8 451.2,83.0 451.6,82.0 452.1,82.6 452.5,81.7 452.9,82.3 453.4,80.5 453.8,80.8 454.2,80.1 454.7,80.8 455.1,79.9 455.5,80.7 455.9,78.9 456.4,79.8 456.8,78.9 457.2,80.4 457.6,79.3 458.0,80.0 458.4,78.5 458.9,79.6 459.3,77.6 459.7,78.8 460.1,77.1 460.5,78.3 460.9,76.9 461.3,77.4 461.7,75.3"/>
<polyline class="r3" stroke="#0000ff" points="461.7,75.3 462.1,76.8 462.5,74.6 462.9,75.5 463.3,74.2 463.7,76.4 464.1,74.9 464.5,76.0 464.9,74.1 465.3,75.8 465.7,73.8 466.1,74.9 466.4,73.7 466.8,74.1 467.2,72.5 467.6,73.0 468.0,71.2 468.4,72.0 468.7,71.4 469.1,72.6 469.5,71.5 469.9,72.2 470.2,71.2 470.6,72.3 471.0,71.3 471.4,71.8 471.7,71.1 472.1,71.6 472.5,70.0 472.8,71.3 473.2,70.7 473.6,71.4 473.9,70.3 474.3,71.6 474.6,70.5 475.0,70.6 475.4,69.7 475.7,70.8 476.1,69.2 476.4,69.6 476.8,68.3 477.1,70.4 477.5,68.4 477.8,69.2 478.2,68.2 478.5,69.9 478.9,67.5 479.2,68.9 479.6,67.5 479.9,68.1 480.2,66.3 480.6,67.7 480.9,67.1 481.3,68.2 481.6,66.2 481.9,67.6 482.3,66.5 482.6,67.3 482.9,65.7 483.3,67.6 483.6,66.0 483.9,66.5 484.3,65.1 484.6,66.3 484.9,65.1 485.3,66.4 485.6,64.7 485.9,66.2 486.2,64.6 486.6,66.7 486.9,65.8 487.2,66.9 487.5,65.7 487.8,65.9 488.2,64.1 488.5,66.0 488.8,64.5 489.1,66.6 489.4,65.2 489.7,65.9 490.1,64.6 490.4,66.3 490.7,63.1 491.0,64.6 491.3,63.5 491.6,64.5 491.9,62.4 492.2,64.7 492.5,63.6 492.8,64.8 493.1,63.8 493.4,64.6 493.8,62.1 494.1,63.6 494.4,62.1 494.7,63.7 495.0,62.5 495.3,64.7 495.6,63.2 495.9,64.9 496.2,63.1 496.4,64.8 496.7,64.0 497.0,65.7 497.3,63.7 497.6,65.1 497.9,63.8 498.2,64.9 498.5,63.6 498.8,64.1 499.1,62.7 499.4,63.5 499.7,62.4 499.9,64.0 500.2,62.9 500.5,63.3 500.8,62.4 501.1,63.8 501.4,63.4 501.7,64.8 501.9,62.9 502.2,64.6 502.5,64.0 502.8,64.8 503.1,64.3 503.3,65.3 503.6,63.7 503.9,64.0 504.2,62.5 504.4,64.8 504.7,64.1 505.0,65.5 505.3,64.6 505.5,65.7 505.8,64.2 506.1,65.2 506.4,63.8 506.6,65.9 506.9,63.7 507.2,65.0 507.4,64.5 507.7,65.4 508.0,63.9 508.2,65.4 508.5,63.8 508.8,64.4 509.0,63.0 509.3,64.1 509.6,63.8 509.8,64.7 510.1,64.1 510.4,64.9 510.6,63.9 510.9,64.2 511.1,64.0 511.4,64.5 511.7,63.7 511.9,64.6 512.2,63.5 512.4,64.5 512.7,63.6 512.9,64.6 513.2,63.3 513.5,65.4 513.7,63.6 514.0,64.1 514.2,63.1 514.5,64.2 514.7,62.6 515.0,64.1 515.2,64.2 515.5,65.6 515.7,63.5 516.0,64.8 516.2,63.8 516.5,65.3 516.7,64.2 517.0,65.8 517.2,64.1 517.5,64.9 517.7,63.6 517.9,64.9 518.2,63.7 518.4,65.5 518.7,63.0 518.9,64.6 519.2,63.1 519.4,64.8 519.6,63.6 519.9,65.6 520.1,63.6 520.4,65.3 520.6,64.0 520.8,66.7 521.1,64.4 521.3,65.7 521.6,64.1 521.8,66.2 522.0,64.8 522.3,66.5 522.5,64.7 522.7,65.7 523.0,64.7 523.2,65.7 523.4,64.8 523.7,66.0 523.9,65.7 524.1,67.2 524.4,65.5 524.6,66.8 524.8,64.8 525.1,65.6 525.3,64.8 525.5,65.7 525.7,65.2 526.0,66.5 526.2,65.7 526.4,66.8 526.7,65.3 526.9,67.1 527.1,65.5 527.3,66.6 527.6,65.0 527.8,66.1 528.0,65.6 528.2,66.5 528.4,65.7 528.7,67.6 528.9,66.1 529.1,66.7 529.3,65.8 529.6,66.9 529.8,65.2 530.0,67.2 530.2,66.6 530.4,68.2 530.7,66.6 530.9,67.4 531.1,66.6 531.3,67.1 531.5,65.8 531.7,66.8 532.0,66.3 532.2,67.1 532.4,66.6 532.6,68.0 532.8,67.2 533.0,68.4 533.2,67.8 533.5,69.6 533.7,67.5 533.9,69.2 534.1,67.9 534.3,68.2 534.5,67.7 534.7,69.0 534.9,68.0 535.2,69.9 535.4,67.9 535.6,69.5 535.8,68.3 536.0,69.2 536.2,68.4 536.4,70.3 536.6,69.0 536.8,70.0 537.0,69.1 537.2,69.8 537.4,69.6 537.6,70.7 537.9,69.4 538.1,70.6 538.3,70.4 538.5,71.3 538.7,70.0 538.9,71.9 539.1,69.6 539.3,71.3 539.5,69.0 539.7,71.8 539.9,69.7 540.1,71.6 540.3,69.6 540.5,70.9 540.7,69.2 540.9,71.1 541.1,70.4 541.3,72.2 541.5,70.4 541.7,71.9 541.9,71.0 542.1,72.2 542.3,70.9 542.5,72.8 542.7,71.7 542.9,72.9 543.1,71.4 543.3,72.9 543.5,71.9 543.7,73.7 543.8,71.9 544.0,73.1 544.2,72.2 544.4,72.9 544.6,71.9 544.8,73.7 545.0,73.0 545.2,74.4 545.4,73.1 545.6,74.0 545.8,72.8 546.0,73.3 546.2,72.7 546.3,73.9 546.5,72.8 546.7,75.1 546.9,74.2 547.1,75.6 547.3,75.2 547.5,76.6 547.7,75.0 547.9,76.0 548.0,74.8 548.2,75.9 548.4,74.8 548.6,76.6 548.8,76.2 549.0,78.7 549.2,76.7 549.3,78.0 549.5,77.0 549.7,78.2 549.9,76.9 550.1,78.1 550.3,77.1 550.5,77.7 550.6,78.0 550.8,79.0 551.0,77.9 551.2,79.5 551.4,78.2 551.6,80.0 551.7,79.2 551.9,80.7 552.1,79.6 552.3,81.5 552.5,79.7 552.6,81.9 552.8,79.9 553.0,81.4 553.2,80.6 553.4,82.3 553.5,80.6 553.7,82.2 553.9,81.7 554.1,83.6 554.2,83.0 554.4,84.5 554.6,83.1 554.8,84.3 555.0,83.5 555.1,84.5 555.3,83.8 555.5,84.8 555.7,84.2 555.8,86.8 556.0,84.6 556.2,86.1 556.4,84.7 556.5,86.2 556.7,85.5 556.9,86.9 557.0,85.6 557.2,88.4 557.4,86.2 557.6,88.1 557.7,86.8 557.9,88.2 558.1,87.6 558.3,89.3 558.4,87.3 558.6,89.6 558.8,88.6 558.9,90.2 559.1,88.0 559.3,90.4 559.4,89.2 559.6,89.8 559.8,89.1"/>
</g>
</g>
<rect x="117.50" y="51.20" width="442.00" height="371.10" fill="none" stroke="#000" stroke-width="2.5"/>
<rect x="570.40" y="51.10" width="22.20" height="371.30" fill="url(#cb)" stroke="#000" stroke-width="1.2"/>
<path d="M570.40 369.36h3.4M592.60 369.36h-3.4M570.40 316.31h3.4M592.60 316.31h-3.4M570.40 263.27h3.4M592.60 263.27h-3.4M570.40 210.23h3.4M592.60 210.23h-3.4M570.40 157.19h3.4M592.60 157.19h-3.4M570.40 104.14h3.4M592.60 104.14h-3.4" fill="none" stroke="#000" stroke-width="1.1"/>
<g class="lbl">
<text x="100.9" y="432.20" font-size="28.6" text-anchor="end">0</text>
<text x="100.9" y="357.98" font-size="28.6" text-anchor="end">0.1</text>
<text x="100.9" y="283.76" font-size="28.6" text-anchor="end">0.2</text>
<text x="100.9" y="209.54" font-size="28.6" text-anchor="end">0.3</text>
<text x="100.9" y="135.32" font-size="28.6" text-anchor="end">0.4</text>
<text x="100.9" y="61.10" font-size="28.6" text-anchor="end">0.5</text>
<text x="269.80" y="462.70" font-size="28.6" text-anchor="start">10<tspan font-size="22.6" dy="-14.8" dx="0.8">−1</tspan></text>
<text x="537.20" y="462.70" font-size="28.6" text-anchor="start">10<tspan font-size="22.6" dy="-14.8" dx="0.8">0</tspan></text>
<text x="608.30" y="434.80" font-size="28.6" text-anchor="start">10<tspan font-size="22.6" dy="-14.8" dx="0.8">−3</tspan></text>
<text x="608.30" y="381.76" font-size="28.6" text-anchor="start">10<tspan font-size="22.6" dy="-14.8" dx="0.8">−2</tspan></text>
<text x="608.30" y="328.71" font-size="28.6" text-anchor="start">10<tspan font-size="22.6" dy="-14.8" dx="0.8">−1</tspan></text>
<text x="608.30" y="275.67" font-size="28.6" text-anchor="start">10<tspan font-size="22.6" dy="-14.8" dx="0.8">0</tspan></text>
<text x="608.30" y="222.63" font-size="28.6" text-anchor="start">10<tspan font-size="22.6" dy="-14.8" dx="0.8">1</tspan></text>
<text x="608.30" y="169.59" font-size="28.6" text-anchor="start">10<tspan font-size="22.6" dy="-14.8" dx="0.8">2</tspan></text>
<text x="608.30" y="116.54" font-size="28.6" text-anchor="start">10<tspan font-size="22.6" dy="-14.8" dx="0.8">3</tspan></text>
<text x="608.30" y="63.50" font-size="28.6" text-anchor="start">10<tspan font-size="22.6" dy="-14.8" dx="0.8">4</tspan></text>
<text x="117.6" y="27.00" font-size="36.0">(b)</text>
<g class="ser">
<text transform="translate(44.90 257.34) rotate(-90) scale(0.5169 0.4427)" font-size="100" font-style="italic" stroke="#fff" stroke-width="1.25" stroke-linejoin="round">P</text>
<text transform="translate(24.10 227.94) rotate(-90) scale(0.2791 0.3551)" font-size="100" font-style="italic" stroke="#fff" stroke-width="0.95" stroke-linejoin="round">k</text>
<text transform="translate(286.92 503.39) scale(0.4240 0.4063)" font-size="100" font-style="italic" stroke="#fff" stroke-width="1.20" stroke-linejoin="round">ω</text>
<text transform="translate(317.10 512.97) scale(0.6218 0.6331)" font-size="100" stroke="#fff" stroke-width="1.28" stroke-linejoin="round">/</text>
<text transform="translate(334.42 503.39) scale(0.4240 0.4063)" font-size="100" font-style="italic" stroke="#fff" stroke-width="1.20" stroke-linejoin="round">ω</text>
<text transform="translate(363.05 515.10) scale(0.3508 0.3130)" font-size="100">D</text>
<text transform="translate(169.89 95.79) scale(0.3168 0.3095)" font-size="100" font-style="italic" stroke="#fff" stroke-width="1.12" stroke-linejoin="round">ω</text>
<text transform="translate(191.57 105.30) scale(0.2762 0.2580)" font-size="100">BP</text>
<text transform="translate(228.90 103.32) scale(0.4800 0.4842)" font-size="100" stroke="#fff" stroke-width="1.24" stroke-linejoin="round">/</text>
<text transform="translate(242.66 95.79) scale(0.3248 0.3074)" font-size="100" font-style="italic" stroke="#fff" stroke-width="1.11" stroke-linejoin="round">ω</text>
<text transform="translate(264.65 105.30) scale(0.2508 0.2565)" font-size="100">D</text>
</g>
</g>
</g>
</svg>
</body>
</html>
